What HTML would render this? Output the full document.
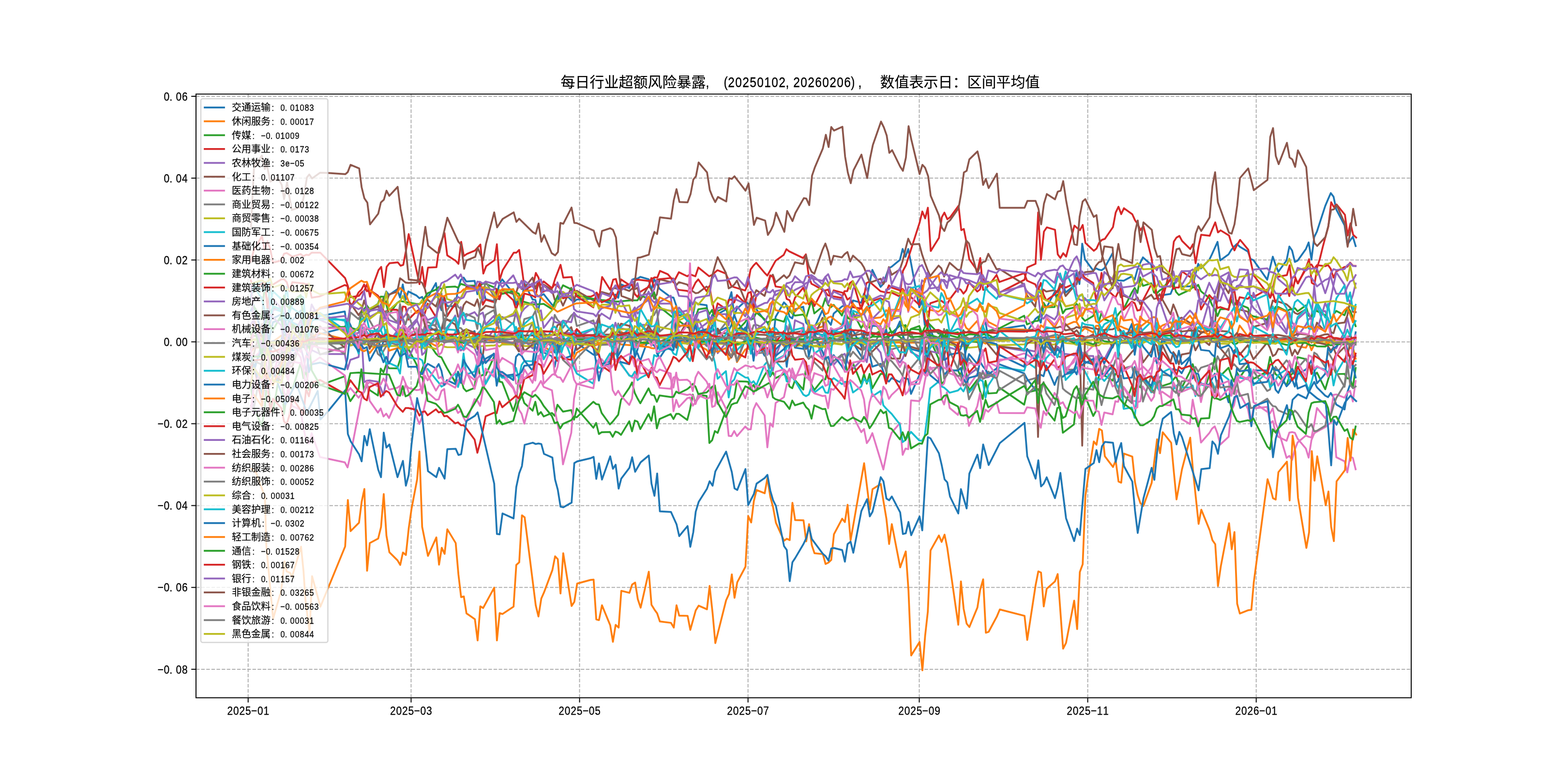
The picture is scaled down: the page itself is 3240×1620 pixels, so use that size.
<!DOCTYPE html>
<html lang="zh"><head><meta charset="utf-8"><title>每日行业超额风险暴露</title>
<style>html,body{margin:0;padding:0;background:#fff}svg{display:block}text{font-family:"Liberation Sans","Noto Sans CJK SC",sans-serif;fill:#000}</style>
</head><body>
<svg style="will-change:transform" width="3240" height="1620" viewBox="0 0 3240 1620">
<defs><clipPath id="axclip"><rect x="405.00" y="194.40" width="2511.00" height="1247.40"/></clipPath></defs>
<rect width="3240" height="1620" fill="#fff"/>
<g stroke="#b0b0b0" stroke-width="2" stroke-dasharray="7.4 3.2" fill="none"><path d="M512.73 1441.80V194.40"/><path d="M849.43 1441.80V194.40"/><path d="M1197.55 1441.80V194.40"/><path d="M1545.66 1441.80V194.40"/><path d="M1899.49 1441.80V194.40"/><path d="M2247.60 1441.80V194.40"/><path d="M2595.72 1441.80V194.40"/><path d="M405.00 198.98H2916.00"/><path d="M405.00 368.11H2916.00"/><path d="M405.00 537.24H2916.00"/><path d="M405.00 706.38H2916.00"/><path d="M405.00 875.51H2916.00"/><path d="M405.00 1044.64H2916.00"/><path d="M405.00 1213.77H2916.00"/><path d="M405.00 1382.90H2916.00"/></g>
<g fill="none" stroke-width="3.75" stroke-linejoin="round" stroke-linecap="square" clip-path="url(#axclip)">
<path stroke="#1f77b4" d="M518.4 739.8L524.1 769.5L541.3 708.8L547.0 710.8L552.7 731.7L558.4 690.9L564.1 665.8L581.2 660.2L586.9 686.5L592.6 683.6L598.3 704.8L604.0 669.6L621.2 692.9L626.9 637.4L632.6 711.9L638.3 713.5L644.0 699.0L661.1 690.3L712.5 677.3L718.2 659.1L723.9 671.0L741.0 712.0L746.7 673.5L752.4 668.9L758.1 648.9L763.8 643.4L780.9 630.2L786.7 645.0L792.4 620.4L798.1 602.2L803.8 609.6L820.9 597.8L826.6 614.9L832.3 587.6L838.0 619.8L843.7 602.3L860.8 610.8L866.6 616.1L872.3 613.5L878.0 628.4L883.7 614.9L900.8 585.0L906.5 623.5L912.2 641.0L917.9 613.7L923.6 632.3L940.7 632.9L946.4 597.9L952.2 578.4L957.9 573.4L963.6 581.7L980.7 580.4L986.4 607.9L992.1 589.7L997.8 597.7L1003.5 618.2L1020.6 622.4L1026.3 609.8L1032.0 586.0L1037.8 577.3L1060.6 606.1L1066.3 629.9L1072.0 613.4L1077.7 627.1L1083.4 584.6L1100.5 618.8L1106.2 619.5L1111.9 644.6L1117.7 610.8L1123.4 607.6L1140.5 629.4L1146.2 632.7L1151.9 623.3L1157.6 605.5L1163.3 603.6L1180.4 619.9L1186.1 623.7L1191.8 618.9L1226.1 617.3L1231.8 626.2L1237.5 615.5L1243.2 621.3L1260.3 626.2L1266.0 627.3L1271.7 608.7L1277.4 615.4L1283.2 587.4L1300.3 595.3L1306.0 578.0L1311.7 575.7L1317.4 575.6L1323.1 572.1L1340.2 577.0L1345.9 599.9L1351.6 576.6L1357.3 586.4L1363.0 596.9L1385.9 614.1L1391.6 614.9L1397.3 631.4L1403.0 651.5L1420.1 649.7L1425.8 623.0L1431.5 653.1L1437.2 624.5L1442.9 628.3L1460.1 630.6L1465.8 674.1L1471.5 650.9L1477.2 662.4L1482.9 649.1L1500.0 639.6L1505.7 622.0L1511.4 603.6L1517.1 651.5L1522.8 638.0L1540.0 622.4L1545.7 627.7L1551.4 627.3L1557.1 617.1L1562.8 639.2L1579.9 661.8L1585.6 665.7L1591.3 680.8L1597.0 704.4L1602.7 654.8L1619.9 624.8L1625.6 630.9L1631.3 654.1L1637.0 658.0L1642.7 639.2L1659.8 633.9L1665.5 666.5L1671.2 672.6L1676.9 673.2L1682.6 677.2L1699.7 640.6L1705.5 660.6L1711.2 663.4L1716.9 671.3L1722.6 648.0L1739.7 633.4L1745.4 630.5L1751.1 639.7L1756.8 649.5L1762.5 620.8L1779.6 625.5L1785.3 606.6L1791.1 616.3L1796.8 585.9L1802.5 557.6L1819.6 592.9L1825.3 586.2L1831.0 569.9L1836.7 554.1L1842.4 551.1L1859.5 537.0L1865.2 514.3L1871.0 530.6L1876.7 514.5L1882.4 543.2L1899.5 635.2L1905.2 621.1L1910.9 671.7L1916.6 661.6L1922.3 678.9L1939.4 726.9L1945.1 710.4L1950.8 716.1L1956.6 685.4L1962.3 702.4L1979.4 723.0L1985.1 730.9L1990.8 747.3L1996.5 722.0L2002.2 710.3L2019.3 688.8L2025.0 715.0L2030.7 670.7L2036.4 666.5L2042.2 699.4L2059.3 694.9L2065.0 680.2L2116.3 672.4L2122.1 685.9L2139.2 659.5L2144.9 654.3L2150.6 666.9L2156.3 630.4L2162.0 636.5L2179.1 603.5L2184.8 620.5L2190.5 593.3L2196.2 586.3L2201.9 604.5L2219.1 590.4L2224.8 560.2L2230.5 586.8L2236.2 503.5L2241.9 535.8L2259.0 559.2L2264.7 554.4L2270.4 557.2L2276.1 558.4L2281.8 554.6L2299.0 523.1L2304.7 571.7L2310.4 579.3L2316.1 579.7L2321.8 580.2L2338.9 571.0L2344.6 577.8L2350.3 556.4L2356.0 543.4L2361.7 531.8L2378.9 547.2L2384.6 589.4L2390.3 608.1L2396.0 622.3L2401.7 609.9L2418.8 607.3L2424.5 593.2L2430.2 576.5L2435.9 574.5L2441.6 592.0L2458.8 591.6L2464.5 590.2L2470.2 566.6L2475.9 545.1L2481.6 554.7L2498.7 537.1L2504.4 525.3L2510.1 512.5L2515.8 499.7L2521.5 538.0L2538.7 525.4L2544.4 516.0L2550.1 509.7L2555.8 504.0L2561.5 509.7L2578.6 519.8L2584.3 535.3L2590.0 537.4L2618.5 577.9L2624.3 553.8L2630.0 530.4L2635.7 547.0L2641.4 561.6L2658.5 538.0L2664.2 509.4L2669.9 517.8L2675.6 541.2L2681.3 538.6L2698.4 514.6L2704.1 501.0L2709.9 536.5L2715.6 489.9L2721.3 478.2L2738.4 425.5L2744.1 412.0L2749.8 399.0L2755.5 406.3L2761.2 432.9L2778.3 465.7L2784.0 505.4L2789.8 496.8L2795.5 489.1L2801.2 508.4"/>
<path stroke="#ff7f0e" d="M518.4 729.1L524.1 718.6L541.3 717.4L547.0 712.5L552.7 711.7L558.4 716.1L564.1 709.0L581.2 715.7L586.9 716.2L592.6 714.8L598.3 709.3L604.0 704.3L621.2 707.9L626.9 704.8L632.6 704.0L638.3 703.2L644.0 708.3L661.1 706.4L712.5 709.6L718.2 704.7L723.9 706.7L741.0 704.1L746.7 699.3L752.4 698.8L758.1 704.1L763.8 705.0L780.9 706.4L786.7 701.8L792.4 703.7L798.1 702.4L803.8 699.1L820.9 702.2L826.6 703.4L832.3 701.5L838.0 702.0L843.7 699.5L860.8 698.8L866.6 697.5L872.3 699.9L878.0 696.9L883.7 701.8L900.8 702.5L906.5 705.8L912.2 704.6L917.9 705.4L923.6 706.2L940.7 706.1L946.4 703.6L952.2 704.7L957.9 703.6L963.6 705.9L980.7 709.1L986.4 708.7L992.1 704.3L997.8 700.4L1003.5 701.9L1020.6 704.7L1026.3 701.3L1032.0 703.8L1037.8 708.9L1060.6 707.1L1066.3 709.1L1072.0 706.7L1077.7 709.2L1083.4 709.4L1100.5 708.4L1106.2 705.9L1111.9 705.7L1117.7 708.4L1123.4 710.7L1140.5 711.7L1146.2 706.1L1151.9 705.8L1157.6 715.7L1163.3 710.3L1180.4 706.8L1186.1 704.1L1191.8 708.5L1226.1 714.9L1231.8 713.0L1237.5 711.0L1243.2 711.4L1260.3 709.1L1266.0 709.9L1271.7 710.8L1277.4 707.2L1283.2 711.7L1300.3 713.2L1306.0 713.0L1311.7 712.2L1317.4 716.1L1323.1 713.2L1340.2 709.1L1345.9 707.3L1351.6 707.7L1357.3 708.5L1363.0 711.2L1385.9 714.6L1391.6 702.9L1397.3 706.7L1403.0 706.4L1420.1 705.7L1425.8 709.0L1431.5 713.7L1437.2 713.2L1442.9 712.5L1460.1 710.5L1465.8 710.4L1471.5 710.2L1477.2 711.9L1482.9 710.3L1500.0 708.0L1505.7 708.2L1511.4 709.9L1517.1 711.9L1522.8 709.8L1540.0 706.2L1545.7 704.3L1551.4 707.7L1557.1 712.0L1562.8 710.0L1579.9 713.9L1585.6 709.7L1591.3 711.1L1597.0 709.0L1602.7 708.5L1619.9 706.6L1625.6 702.2L1631.3 699.8L1637.0 707.0L1642.7 702.3L1659.8 701.7L1665.5 702.3L1671.2 706.0L1676.9 704.5L1682.6 708.7L1699.7 706.0L1705.5 699.2L1711.2 701.9L1716.9 702.7L1722.6 704.0L1739.7 700.7L1745.4 705.2L1751.1 703.3L1756.8 707.6L1762.5 707.0L1779.6 709.4L1785.3 711.1L1791.1 709.3L1796.8 706.8L1802.5 707.2L1819.6 706.0L1825.3 710.8L1831.0 709.7L1836.7 708.5L1842.4 708.2L1859.5 707.7L1865.2 712.4L1871.0 706.5L1876.7 706.7L1882.4 708.1L1899.5 708.0L1905.2 707.8L1910.9 707.1L1916.6 703.3L1922.3 704.3L1939.4 707.9L1945.1 710.5L1950.8 709.5L1956.6 710.2L1962.3 706.3L1979.4 708.1L1985.1 703.2L1990.8 705.6L1996.5 705.6L2002.2 707.1L2019.3 704.9L2025.0 705.6L2030.7 707.0L2036.4 710.0L2042.2 704.6L2059.3 700.2L2065.0 703.0L2116.3 701.8L2122.1 703.4L2139.2 701.0L2144.9 698.2L2150.6 698.2L2156.3 695.0L2162.0 697.0L2179.1 696.6L2184.8 696.9L2190.5 695.1L2196.2 695.9L2201.9 699.8L2219.1 700.2L2224.8 702.5L2230.5 698.1L2236.2 699.8L2241.9 703.0L2259.0 702.4L2264.7 703.6L2270.4 701.8L2276.1 700.2L2281.8 699.0L2299.0 696.4L2304.7 696.9L2310.4 698.0L2316.1 691.9L2321.8 687.9L2338.9 693.1L2344.6 695.8L2350.3 689.8L2356.0 691.3L2361.7 691.1L2378.9 694.8L2384.6 692.7L2390.3 690.2L2396.0 690.9L2401.7 689.1L2418.8 687.3L2424.5 691.5L2430.2 691.8L2435.9 693.3L2441.6 696.9L2458.8 696.6L2464.5 699.7L2470.2 698.1L2475.9 699.3L2481.6 696.5L2498.7 700.8L2504.4 698.8L2510.1 696.7L2515.8 698.0L2521.5 696.9L2538.7 698.9L2544.4 706.1L2550.1 705.1L2555.8 701.1L2561.5 707.6L2578.6 705.4L2584.3 707.2L2590.0 708.7L2618.5 704.0L2624.3 706.2L2630.0 703.3L2635.7 705.0L2641.4 699.0L2658.5 704.4L2664.2 710.5L2669.9 707.7L2675.6 708.2L2681.3 708.1L2698.4 707.2L2704.1 704.2L2709.9 706.4L2715.6 704.3L2721.3 707.0L2738.4 703.9L2744.1 704.3L2749.8 703.8L2755.5 709.6L2761.2 706.1L2778.3 705.8L2784.0 703.3L2789.8 702.7L2795.5 699.2L2801.2 699.9"/>
<path stroke="#2ca02c" d="M518.4 797.2L524.1 841.0L541.3 880.6L547.0 843.8L552.7 776.5L558.4 831.0L564.1 850.5L581.2 751.3L586.9 855.6L592.6 814.9L598.3 799.6L604.0 805.0L621.2 750.0L626.9 781.4L632.6 766.3L638.3 806.1L644.0 796.5L661.1 796.1L712.5 777.4L718.2 814.6L723.9 828.9L741.0 804.3L746.7 763.0L752.4 810.1L758.1 794.5L763.8 806.0L780.9 817.2L786.7 761.7L792.4 769.2L798.1 753.4L803.8 760.9L820.9 761.2L826.6 743.5L832.3 703.1L838.0 728.4L843.7 720.4L860.8 753.3L866.6 779.4L872.3 763.1L878.0 748.3L883.7 705.4L900.8 730.6L906.5 736.1L912.2 738.5L917.9 749.8L923.6 760.6L940.7 789.5L946.4 767.8L952.2 780.8L957.9 802.3L963.6 808.5L980.7 801.5L986.4 748.1L992.1 777.9L997.8 774.3L1003.5 775.3L1020.6 737.8L1026.3 734.2L1032.0 788.4L1037.8 789.9L1060.6 849.2L1066.3 831.7L1072.0 781.1L1077.7 815.5L1083.4 832.8L1100.5 848.7L1106.2 830.1L1111.9 857.2L1117.7 851.4L1123.4 860.6L1140.5 853.3L1146.2 859.1L1151.9 836.3L1157.6 843.4L1163.3 850.6L1180.4 847.3L1186.1 867.2L1191.8 844.1L1226.1 883.9L1231.8 873.9L1237.5 896.9L1243.2 893.1L1260.3 892.6L1266.0 902.7L1271.7 891.8L1277.4 893.7L1283.2 898.6L1300.3 870.4L1306.0 891.3L1311.7 869.0L1317.4 871.2L1323.1 886.6L1340.2 855.6L1345.9 869.5L1351.6 839.7L1357.3 885.2L1363.0 865.8L1385.9 855.8L1391.6 865.9L1397.3 855.2L1403.0 855.2L1420.1 867.7L1425.8 845.9L1431.5 815.3L1437.2 833.7L1442.9 815.7L1460.1 818.1L1465.8 915.3L1471.5 909.7L1477.2 890.7L1482.9 894.5L1500.0 847.8L1505.7 836.8L1511.4 825.8L1517.1 822.5L1522.8 787.8L1540.0 788.3L1545.7 788.8L1551.4 802.4L1557.1 795.3L1562.8 806.8L1579.9 775.6L1585.6 765.9L1591.3 778.0L1597.0 769.5L1602.7 781.3L1619.9 772.5L1625.6 779.6L1631.3 798.6L1637.0 802.3L1642.7 785.6L1659.8 804.9L1665.5 760.1L1671.2 766.4L1676.9 795.5L1682.6 806.0L1699.7 784.4L1705.5 784.0L1711.2 759.2L1716.9 747.8L1722.6 736.5L1739.7 744.9L1745.4 744.6L1751.1 767.8L1756.8 763.6L1762.5 750.5L1779.6 792.7L1785.3 772.8L1791.1 792.8L1796.8 772.6L1802.5 802.4L1819.6 772.6L1825.3 772.6L1831.0 783.1L1836.7 687.5L1842.4 685.1L1859.5 696.4L1865.2 701.1L1871.0 671.6L1876.7 686.3L1882.4 680.0L1899.5 680.9L1905.2 691.9L1910.9 690.5L1916.6 675.4L1922.3 702.7L1939.4 740.8L1945.1 793.6L1950.8 788.3L1956.6 768.4L1962.3 766.5L1979.4 764.9L1985.1 777.5L1990.8 745.2L1996.5 770.4L2002.2 807.3L2019.3 785.0L2025.0 807.6L2030.7 824.6L2036.4 786.8L2042.2 813.0L2059.3 811.8L2065.0 800.9L2116.3 836.1L2122.1 810.8L2139.2 806.9L2144.9 804.0L2150.6 813.7L2156.3 833.1L2162.0 847.7L2179.1 869.2L2184.8 843.0L2190.5 841.4L2196.2 894.2L2201.9 890.1L2219.1 877.0L2224.8 822.7L2230.5 820.9L2236.2 849.4L2241.9 817.7L2259.0 859.5L2264.7 849.2L2270.4 777.3L2276.1 769.6L2281.8 775.5L2299.0 786.5L2304.7 772.9L2310.4 770.7L2316.1 778.7L2321.8 842.9L2338.9 797.9L2344.6 805.0L2350.3 796.2L2356.0 800.3L2361.7 774.6L2378.9 801.7L2384.6 811.2L2390.3 786.6L2396.0 805.4L2401.7 797.5L2418.8 792.0L2424.5 784.3L2430.2 777.7L2435.9 793.9L2441.6 801.6L2458.8 768.0L2464.5 752.4L2470.2 770.0L2475.9 789.7L2481.6 824.5L2498.7 775.8L2504.4 766.9L2510.1 737.8L2515.8 769.1L2521.5 776.9L2538.7 759.9L2544.4 776.8L2550.1 788.6L2555.8 768.7L2561.5 780.4L2578.6 755.4L2584.3 770.0L2590.0 782.8L2618.5 767.5L2624.3 737.3L2630.0 758.3L2635.7 773.1L2641.4 777.5L2658.5 795.7L2664.2 777.8L2669.9 772.4L2675.6 768.6L2681.3 738.0L2698.4 742.0L2704.1 752.9L2709.9 767.6L2715.6 775.4L2721.3 769.9L2738.4 804.4L2744.1 785.1L2749.8 765.9L2755.5 758.6L2761.2 773.0L2778.3 772.5L2784.0 781.9L2789.8 782.1L2795.5 800.6L2801.2 760.3"/>
<path stroke="#d62728" d="M518.4 540.7L524.1 517.7L541.3 487.8L547.0 516.6L552.7 498.6L558.4 514.6L564.1 542.6L581.2 538.4L586.9 524.3L592.6 522.9L598.3 526.4L604.0 530.4L621.2 525.0L626.9 529.4L632.6 526.4L638.3 527.1L644.0 522.0L661.7 522.0L713.1 574.6L718.7 590.5L724.6 614.2L741.6 611.4L747.2 604.5L753.1 600.3L758.7 586.3L764.5 612.8L770.4 590.5L782.1 558.3L787.7 551.4L793.3 593.3L798.9 551.4L804.8 543.8L822.1 542.1L827.7 549.1L833.3 547.2L838.9 517.8L844.5 483.7L866.8 587.1L872.4 551.4L878.0 593.3L884.4 552.8L901.8 552.2L907.3 512.2L918.5 481.5L924.1 527.6L941.4 538.8L947.3 545.2L952.9 499.7L958.5 529.0L964.6 524.8L981.4 517.8L992.6 505.2L998.7 565.3L1004.6 550.0L1021.9 537.4L1026.7 504.7L1032.3 579.3L1038.7 558.3L1061.6 522.0L1067.2 522.0L1072.8 516.4L1078.7 556.9L1084.3 598.9L1101.6 589.1L1107.2 563.9L1112.8 573.7L1118.4 604.5L1141.3 594.7L1146.9 576.5L1158.3 547.2L1163.9 573.7L1181.2 572.3L1186.8 598.9L1192.4 612.8L1221.2 612.8L1226.8 610.1L1232.9 604.5L1238.5 612.8L1244.1 572.3L1260.9 598.9L1267.0 577.9L1272.6 576.5L1278.5 598.9L1284.1 593.3L1301.4 587.1L1307.0 589.1L1312.6 579.3L1318.2 577.9L1341.1 580.7L1346.7 576.5L1352.6 573.2L1358.2 573.7L1363.7 559.7L1380.0 566.7L1386.0 573.7L1391.6 583.5L1402.8 562.5L1420.1 570.9L1425.7 566.7L1436.9 570.9L1443.0 552.8L1465.4 570.9L1471.2 568.1L1482.4 558.3L1499.7 565.3L1510.9 590.5L1516.5 593.3L1539.7 600.3L1545.3 587.7L1550.9 556.9L1557.0 548.6L1562.6 543.0L1580.0 563.9L1585.5 569.5L1591.1 559.7L1602.6 538.8L1619.4 526.8L1625.0 515.0L1630.5 519.2L1659.6 533.2L1665.2 525.6L1671.1 570.9L1676.7 586.3L1682.2 589.1L1699.6 598.9L1705.2 603.1L1710.8 610.1L1716.3 611.4L1739.3 615.6L1744.9 601.7L1750.7 601.7L1756.3 584.9L1761.9 580.7L1767.5 598.9L1779.2 638.0L1784.8 615.6L1790.4 584.9L1796.0 582.1L1801.6 586.3L1819.2 601.7L1830.9 604.5L1842.1 604.5L1859.4 612.8L1865.6 560.0L1872.0 548.0L1900.2 460.0L1905.8 437.0L1911.7 451.3L1917.3 429.2L1923.2 518.7L1940.2 491.5L1946.1 448.8L1951.4 439.3L1957.5 453.0L1963.4 448.8L1980.7 425.0L1986.3 475.6L1991.6 473.1L1997.5 503.3L2002.8 535.7L2019.9 560.0L2025.5 533.2L2031.3 598.9L2036.9 598.9L2042.8 587.7L2059.8 598.9L2065.7 604.5L2117.0 578.0L2122.9 552.5L2139.8 545.1L2145.2 438.8L2150.9 536.9L2157.1 478.5L2163.1 469.8L2180.0 474.8L2185.7 525.7L2191.2 533.2L2196.9 523.2L2202.9 530.2L2220.1 466.2L2226.0 471.3L2231.6 475.5L2237.2 464.8L2242.8 502.0L2260.1 518.2L2265.7 513.8L2271.3 501.5L2276.9 495.6L2283.0 493.6L2299.8 469.3L2305.4 439.1L2311.2 427.1L2316.8 442.5L2322.4 430.2L2339.7 442.8L2345.3 455.1L2350.9 462.9L2356.5 475.5L2362.7 467.1L2379.7 534.2L2385.3 581.7L2390.9 612.4L2397.0 623.6L2402.6 615.2L2408.2 595.6L2420.0 545.3L2425.5 499.2L2431.1 490.8L2437.0 487.5L2442.6 497.8L2459.4 514.6L2465.0 504.8L2470.5 543.9L2476.4 510.4L2482.0 485.2L2499.6 487.2L2505.2 473.2L2511.1 459.5L2516.7 480.2L2522.2 476.0L2539.6 486.6L2545.2 504.8L2550.8 517.4L2556.3 505.6L2562.5 495.6L2579.3 516.0L2584.9 542.5L2590.7 569.1L2619.2 606.8L2624.8 615.2L2630.4 592.8L2636.0 570.5L2641.6 571.9L2659.2 568.3L2664.8 548.1L2670.9 601.2L2676.5 576.1L2682.1 585.9L2699.4 550.9L2705.0 535.6L2710.6 584.5L2716.2 587.8L2721.8 552.3L2727.4 534.2L2733.3 510.1L2738.8 489.4L2744.7 468.5L2750.6 417.9L2756.2 427.9L2761.8 422.4L2779.1 443.9L2784.7 486.6L2790.6 461.5L2796.1 485.2L2802.3 490.8"/>
<path stroke="#9467bd" d="M518.4 704.2L524.1 853.9L541.3 843.4L547.0 795.5L552.7 796.1L558.4 760.0L564.1 743.8L581.2 735.8L586.9 711.9L592.6 776.7L598.3 725.2L604.0 735.2L621.2 717.1L626.9 739.5L632.6 767.9L638.3 737.8L644.0 723.4L661.1 731.4L712.5 731.6L718.2 762.8L723.9 743.6L741.0 737.8L746.7 681.4L752.4 789.6L758.1 786.7L763.8 786.1L780.9 788.8L786.7 801.5L792.4 816.9L798.1 786.5L803.8 706.6L820.9 683.4L826.6 711.3L832.3 729.5L838.0 699.3L843.7 741.5L860.8 703.7L866.6 688.1L872.3 733.2L878.0 728.2L883.7 712.3L900.8 698.9L906.5 693.1L912.2 701.3L917.9 694.1L923.6 698.8L940.7 710.9L946.4 713.3L952.2 724.3L957.9 720.3L963.6 710.7L980.7 718.7L986.4 733.8L992.1 706.6L997.8 695.6L1003.5 707.0L1020.6 679.5L1026.3 704.6L1032.0 698.6L1037.8 702.7L1060.6 708.9L1066.3 699.4L1072.0 725.2L1077.7 726.7L1083.4 704.0L1100.5 719.7L1106.2 715.7L1111.9 726.2L1117.7 686.2L1123.4 692.4L1140.5 719.8L1146.2 698.5L1151.9 696.6L1157.6 722.2L1163.3 687.5L1180.4 688.1L1186.1 690.0L1191.8 697.6L1226.1 679.9L1231.8 682.7L1237.5 686.4L1243.2 696.2L1260.3 694.8L1266.0 687.2L1271.7 666.8L1277.4 684.7L1283.2 678.4L1300.3 682.3L1306.0 647.3L1311.7 640.1L1317.4 676.3L1323.1 671.1L1340.2 671.5L1345.9 688.9L1351.6 680.3L1357.3 661.9L1363.0 639.7L1385.9 641.9L1391.6 650.2L1397.3 647.7L1403.0 635.4L1420.1 656.2L1425.8 679.1L1431.5 670.7L1437.2 669.0L1442.9 660.2L1460.1 694.3L1465.8 675.5L1471.5 684.9L1477.2 658.0L1482.9 729.9L1500.0 708.3L1505.7 707.4L1511.4 725.4L1517.1 717.4L1522.8 678.4L1540.0 681.3L1545.7 697.8L1551.4 704.2L1557.1 721.6L1562.8 706.6L1579.9 718.3L1585.6 696.4L1591.3 694.0L1597.0 765.6L1602.7 736.4L1619.9 692.2L1625.6 673.8L1631.3 697.1L1637.0 703.0L1642.7 661.6L1659.8 669.5L1665.5 711.5L1671.2 662.0L1676.9 693.2L1682.6 688.2L1699.7 742.1L1705.5 723.0L1711.2 710.3L1716.9 728.5L1722.6 753.9L1739.7 734.2L1745.4 731.1L1751.1 746.9L1756.8 755.8L1762.5 761.7L1779.6 744.5L1785.3 735.1L1791.1 748.4L1796.8 716.7L1802.5 707.7L1819.6 728.5L1825.3 757.0L1831.0 740.4L1836.7 734.8L1842.4 731.8L1859.5 749.1L1865.2 741.0L1871.0 726.6L1876.7 710.4L1882.4 727.6L1899.5 736.7L1905.2 726.5L1910.9 714.8L1916.6 762.4L1922.3 725.8L1939.4 729.5L1945.1 733.8L1950.8 726.6L1956.6 766.3L1962.3 718.1L1979.4 723.5L1985.1 736.2L1990.8 756.8L1996.5 784.1L2002.2 773.9L2019.3 761.4L2025.0 783.9L2030.7 766.3L2036.4 780.2L2042.2 779.3L2059.3 768.8L2065.0 716.3L2116.3 725.0L2122.1 722.8L2139.2 726.3L2144.9 692.8L2150.6 708.2L2156.3 706.5L2162.0 684.9L2179.1 729.9L2184.8 715.8L2190.5 720.9L2196.2 731.8L2201.9 731.4L2219.1 733.8L2224.8 729.0L2230.5 709.3L2236.2 742.8L2241.9 735.4L2259.0 735.6L2264.7 767.7L2270.4 724.1L2276.1 735.5L2281.8 742.3L2299.0 710.5L2304.7 691.7L2310.4 695.7L2316.1 700.3L2321.8 707.8L2338.9 703.7L2344.6 679.7L2350.3 707.7L2356.0 671.2L2361.7 690.2L2378.9 704.6L2384.6 715.2L2390.3 681.6L2396.0 719.0L2401.7 706.8L2418.8 709.9L2424.5 697.5L2430.2 682.5L2435.9 694.8L2441.6 701.4L2458.8 677.2L2464.5 667.6L2470.2 689.5L2475.9 675.8L2481.6 680.2L2498.7 622.1L2504.4 619.2L2510.1 612.0L2515.8 623.2L2521.5 587.6L2538.7 625.7L2544.4 610.3L2550.1 597.7L2555.8 598.4L2561.5 589.1L2578.6 561.0L2584.3 627.0L2590.0 636.1L2618.5 664.9L2624.3 642.7L2630.0 642.8L2635.7 652.7L2641.4 670.0L2658.5 689.3L2664.2 645.2L2669.9 665.8L2675.6 674.2L2681.3 694.2L2698.4 671.4L2704.1 659.9L2709.9 656.1L2715.6 590.3L2721.3 643.1L2738.4 642.9L2744.1 658.6L2749.8 684.2L2755.5 719.8L2761.2 719.6L2778.3 684.8L2784.0 656.2L2789.8 679.0L2795.5 738.1L2801.2 735.3"/>
<path stroke="#8c564b" d="M518.4 721.7L524.1 717.5L541.3 717.0L547.0 697.3L552.7 721.1L558.4 720.1L564.1 717.2L581.2 735.0L586.9 731.5L592.6 687.0L598.3 695.8L604.0 675.9L621.2 688.0L626.9 647.9L632.6 660.8L638.3 654.7L644.0 703.1L661.1 678.7L712.5 676.0L718.2 680.1L723.9 626.4L741.0 651.1L746.7 643.2L752.4 620.9L758.1 637.3L763.8 640.4L780.9 633.3L786.7 636.7L792.4 615.2L798.1 627.1L803.8 608.8L820.9 602.4L826.6 575.0L832.3 579.1L838.0 583.8L843.7 584.6L860.8 584.0L866.6 581.0L872.3 584.5L878.0 596.9L883.7 619.5L900.8 633.2L906.5 618.0L912.2 635.1L917.9 651.0L923.6 654.1L940.7 626.1L946.4 654.5L952.2 654.8L957.9 630.5L963.6 622.9L980.7 632.0L986.4 618.4L992.1 642.2L997.8 637.7L1003.5 631.6L1020.6 636.0L1026.3 616.7L1032.0 618.4L1037.8 599.5L1060.6 607.5L1066.3 606.4L1072.0 586.9L1077.7 597.4L1083.4 594.9L1100.5 573.6L1106.2 596.7L1111.9 581.8L1117.7 599.5L1123.4 588.2L1140.5 599.0L1146.2 619.1L1151.9 624.3L1157.6 618.6L1163.3 631.6L1180.4 594.8L1186.1 622.5L1191.8 600.8L1226.1 620.8L1231.8 625.2L1237.5 614.5L1243.2 603.3L1260.3 608.1L1266.0 596.1L1271.7 595.5L1277.4 597.4L1283.2 594.9L1300.3 601.2L1306.0 596.4L1311.7 597.5L1317.4 594.7L1323.1 620.0L1340.2 590.8L1345.9 598.1L1351.6 617.5L1357.3 608.3L1363.0 577.1L1385.9 582.9L1391.6 575.5L1397.3 589.4L1403.0 583.0L1420.1 588.0L1425.8 595.3L1431.5 602.0L1437.2 605.8L1442.9 605.0L1460.1 592.1L1465.8 597.0L1471.5 570.1L1477.2 550.0L1482.9 531.3L1500.0 564.1L1505.7 595.9L1511.4 592.9L1517.1 588.1L1522.8 579.7L1540.0 622.2L1545.7 643.6L1551.4 616.3L1557.1 612.8L1562.8 599.6L1579.9 611.4L1585.6 593.0L1591.3 572.2L1597.0 567.6L1602.7 583.4L1619.9 568.7L1625.6 574.7L1631.3 569.2L1637.0 555.6L1642.7 542.0L1659.8 545.6L1665.5 527.4L1671.2 549.4L1676.9 561.4L1682.6 565.6L1699.7 516.0L1705.5 503.2L1711.2 520.1L1716.9 546.8L1722.6 528.5L1739.7 531.8L1745.4 525.0L1751.1 520.8L1756.8 540.3L1762.5 528.2L1779.6 543.6L1785.3 552.7L1791.1 567.3L1796.8 582.9L1802.5 582.2L1819.6 575.9L1825.3 587.0L1831.0 577.9L1836.7 551.9L1842.4 567.9L1859.5 556.7L1865.2 539.3L1871.0 515.0L1876.7 493.2L1882.4 505.2L1899.5 504.1L1905.2 525.4L1910.9 542.4L1916.6 557.4L1922.3 570.2L1939.4 548.8L1945.1 554.3L1950.8 571.5L1956.6 556.0L1962.3 543.0L1979.4 557.9L1985.1 557.0L1990.8 528.0L1996.5 496.9L2002.2 503.1L2019.3 565.8L2025.0 549.0L2030.7 541.6L2036.4 539.9L2042.2 524.5L2059.3 556.4L2065.0 555.7L2116.3 587.6L2122.1 610.2L2139.2 633.8L2144.9 593.2L2150.6 605.9L2156.3 598.6L2162.0 602.5L2179.1 599.3L2184.8 603.9L2190.5 586.3L2196.2 596.6L2201.9 611.8L2219.1 591.9L2224.8 587.2L2230.5 561.9L2236.2 572.1L2241.9 562.3L2259.0 560.7L2264.7 548.9L2270.4 542.1L2276.1 539.9L2281.8 509.1L2299.0 511.4L2304.7 589.7L2310.4 591.9L2316.1 614.4L2321.8 611.0L2338.9 617.9L2344.6 619.9L2350.3 614.5L2356.0 628.2L2361.7 620.9L2378.9 609.0L2384.6 617.8L2390.3 616.4L2396.0 607.7L2401.7 618.6L2418.8 649.4L2424.5 629.1L2430.2 642.8L2435.9 659.0L2441.6 656.3L2458.8 667.2L2464.5 694.5L2470.2 676.9L2475.9 694.8L2481.6 688.8L2498.7 677.4L2504.4 656.5L2510.1 674.1L2515.8 608.9L2521.5 578.5L2538.7 605.8L2544.4 587.4L2550.1 634.3L2555.8 639.5L2561.5 639.7L2578.6 644.0L2584.3 666.0L2590.0 675.5L2618.5 667.4L2624.3 642.2L2630.0 620.9L2635.7 623.7L2641.4 623.2L2658.5 628.9L2664.2 633.9L2669.9 640.0L2675.6 646.6L2681.3 649.1L2698.4 639.3L2704.1 649.9L2709.9 659.4L2715.6 684.3L2721.3 666.8L2738.4 685.4L2744.1 658.5L2749.8 686.3L2755.5 688.4L2761.2 668.6L2778.3 666.4L2784.0 652.1L2789.8 622.7L2795.5 644.4L2801.2 644.9"/>
<path stroke="#e377c2" d="M518.4 788.2L524.1 756.4L541.3 787.5L547.0 747.5L552.7 707.3L558.4 761.5L564.1 736.5L581.2 753.7L586.9 744.7L592.6 771.1L598.3 817.5L604.0 838.9L621.2 847.1L626.9 884.2L632.6 908.9L638.3 916.3L644.0 895.2L661.1 944.4L712.5 955.3L718.2 965.9L723.9 941.3L741.0 853.2L746.7 823.8L752.4 807.8L758.1 788.4L763.8 828.1L780.9 852.6L786.7 844.0L792.4 860.6L798.1 854.7L803.8 863.7L820.9 824.6L826.6 801.9L832.3 778.3L838.0 792.3L843.7 808.1L860.8 861.6L866.6 876.1L872.3 861.1L878.0 835.9L883.7 810.7L900.8 826.1L906.5 825.3L912.2 807.9L917.9 803.9L923.6 849.8L940.7 841.2L946.4 853.4L952.2 848.8L957.9 862.8L963.6 872.8L980.7 824.7L986.4 828.0L992.1 838.7L997.8 807.3L1003.5 789.6L1020.6 760.2L1026.3 729.9L1032.0 764.2L1037.8 776.5L1060.6 803.0L1066.3 818.7L1072.0 794.1L1077.7 790.4L1083.4 763.1L1100.5 791.1L1106.2 768.3L1111.9 741.9L1117.7 727.4L1123.4 792.8L1140.5 774.5L1146.2 772.2L1151.9 779.2L1157.6 780.1L1163.3 789.2L1180.4 755.9L1186.1 737.5L1191.8 767.4L1226.1 760.9L1231.8 767.7L1237.5 747.4L1243.2 742.1L1260.3 763.7L1266.0 755.5L1271.7 747.3L1277.4 738.9L1283.2 753.3L1300.3 774.9L1306.0 780.1L1311.7 781.0L1317.4 756.6L1323.1 771.4L1340.2 771.7L1345.9 761.8L1351.6 764.6L1357.3 769.4L1363.0 763.4L1385.9 771.8L1391.6 849.8L1397.3 826.2L1403.0 841.0L1420.1 822.9L1425.8 821.2L1431.5 838.4L1437.2 831.1L1442.9 823.3L1460.1 802.6L1465.8 793.0L1471.5 840.9L1477.2 838.6L1482.9 810.3L1500.0 844.3L1505.7 900.6L1511.4 901.2L1517.1 890.7L1522.8 901.2L1540.0 881.2L1545.7 887.2L1551.4 887.1L1557.1 845.7L1562.8 833.0L1579.9 858.5L1585.6 924.4L1591.3 874.7L1597.0 881.7L1602.7 832.8L1619.9 820.5L1625.6 794.6L1631.3 788.8L1637.0 761.2L1642.7 776.6L1659.8 772.9L1665.5 780.1L1671.2 781.9L1676.9 791.4L1682.6 771.0L1699.7 777.2L1705.5 797.3L1711.2 794.6L1716.9 744.5L1722.6 755.8L1739.7 786.3L1745.4 790.7L1751.1 796.0L1756.8 838.6L1762.5 859.9L1779.6 893.0L1785.3 886.4L1791.1 915.6L1796.8 907.6L1802.5 894.9L1819.6 950.9L1825.3 970.2L1831.0 941.6L1836.7 911.3L1842.4 894.3L1859.5 874.3L1865.2 939.9L1871.0 926.9L1876.7 928.3L1882.4 827.3L1899.5 828.8L1905.2 819.8L1910.9 787.9L1916.6 761.1L1922.3 758.6L1939.4 783.2L1945.1 798.2L1950.8 792.3L1956.6 766.8L1962.3 771.5L1979.4 778.0L1985.1 786.3L1990.8 789.3L1996.5 786.5L2002.2 797.2L2019.3 772.5L2025.0 772.9L2030.7 782.6L2036.4 772.5L2042.2 748.2L2059.3 756.9L2065.0 745.9L2116.3 730.2L2122.1 732.9L2139.2 743.7L2144.9 756.2L2150.6 759.3L2156.3 728.8L2162.0 748.5L2179.1 755.6L2184.8 763.6L2190.5 757.0L2196.2 744.5L2201.9 762.2L2219.1 748.4L2224.8 726.0L2230.5 750.4L2236.2 728.6L2241.9 730.7L2259.0 714.3L2264.7 714.0L2270.4 736.0L2276.1 736.3L2281.8 753.3L2299.0 798.5L2304.7 795.6L2310.4 798.1L2316.1 821.5L2321.8 800.2L2338.9 829.7L2344.6 828.5L2350.3 831.2L2356.0 829.3L2361.7 798.7L2378.9 828.4L2384.6 819.5L2390.3 773.8L2396.0 794.5L2401.7 835.6L2418.8 838.0L2424.5 794.6L2430.2 797.8L2435.9 823.2L2441.6 865.9L2458.8 876.1L2464.5 825.8L2470.2 856.2L2475.9 871.3L2481.6 914.4L2498.7 895.1L2504.4 885.7L2510.1 881.0L2515.8 895.9L2521.5 918.5L2538.7 902.7L2544.4 849.3L2550.1 837.0L2555.8 806.5L2561.5 812.3L2578.6 844.9L2584.3 874.8L2590.0 843.8L2618.5 840.9L2624.3 874.8L2630.0 870.2L2635.7 893.2L2641.4 902.6L2658.5 910.9L2664.2 893.8L2669.9 892.9L2675.6 894.3L2681.3 906.5L2698.4 926.9L2704.1 945.7L2709.9 909.2L2715.6 895.5L2721.3 891.8L2738.4 882.5L2744.1 878.0L2749.8 873.3L2755.5 868.5L2761.2 944.8L2778.3 953.2L2784.0 976.2L2789.8 943.5L2795.5 946.4L2801.2 969.7"/>
<path stroke="#7f7f7f" d="M518.4 703.5L524.1 672.4L541.3 735.0L547.0 721.4L552.7 698.5L558.4 726.6L564.1 749.0L581.2 736.5L586.9 691.8L592.6 692.5L598.3 695.1L604.0 703.0L621.2 690.6L626.9 686.4L632.6 679.1L638.3 681.4L644.0 683.5L661.1 732.6L712.5 716.1L718.2 691.7L723.9 713.9L741.0 710.0L746.7 681.9L752.4 693.5L758.1 677.2L763.8 683.4L780.9 731.6L786.7 736.1L792.4 725.1L798.1 715.2L803.8 710.3L820.9 696.9L826.6 704.3L832.3 679.6L838.0 689.2L843.7 709.2L860.8 715.4L866.6 686.0L872.3 693.2L878.0 672.5L883.7 665.1L900.8 674.4L906.5 687.2L912.2 678.7L917.9 658.5L923.6 661.2L940.7 662.6L946.4 677.6L952.2 677.8L957.9 684.4L963.6 711.6L980.7 701.1L986.4 689.6L992.1 684.5L997.8 672.8L1003.5 650.6L1020.6 640.7L1026.3 661.8L1032.0 659.6L1037.8 654.9L1060.6 670.0L1066.3 643.6L1072.0 667.4L1077.7 686.2L1083.4 659.4L1100.5 654.2L1106.2 642.7L1111.9 671.0L1117.7 698.4L1123.4 683.9L1140.5 685.9L1146.2 650.7L1151.9 660.7L1157.6 666.5L1163.3 677.1L1180.4 652.1L1186.1 647.1L1191.8 673.7L1226.1 661.9L1231.8 682.2L1237.5 691.8L1243.2 692.9L1260.3 674.9L1266.0 687.4L1271.7 712.7L1277.4 727.7L1283.2 694.7L1300.3 701.3L1306.0 718.0L1311.7 706.1L1317.4 676.2L1323.1 672.4L1340.2 684.0L1345.9 654.4L1351.6 650.9L1357.3 639.6L1363.0 685.3L1385.9 665.9L1391.6 660.5L1397.3 690.2L1403.0 693.0L1420.1 711.0L1425.8 699.0L1431.5 701.4L1437.2 695.5L1442.9 695.3L1460.1 715.0L1465.8 700.7L1471.5 734.1L1477.2 719.2L1482.9 688.9L1500.0 666.6L1505.7 658.8L1511.4 655.8L1517.1 697.4L1522.8 692.1L1540.0 691.3L1545.7 672.2L1551.4 690.5L1557.1 672.2L1562.8 671.3L1579.9 677.7L1585.6 682.1L1591.3 730.8L1597.0 714.3L1602.7 712.5L1619.9 695.7L1625.6 713.5L1631.3 669.7L1637.0 689.8L1642.7 708.0L1659.8 715.8L1665.5 734.3L1671.2 741.8L1676.9 735.3L1682.6 748.3L1699.7 765.7L1705.5 734.5L1711.2 756.1L1716.9 737.9L1722.6 746.3L1739.7 732.4L1745.4 749.8L1751.1 728.7L1756.8 697.2L1762.5 692.7L1779.6 681.7L1785.3 722.5L1791.1 712.8L1796.8 713.3L1802.5 719.2L1819.6 684.7L1825.3 709.2L1831.0 700.8L1836.7 718.6L1842.4 722.0L1859.5 716.8L1865.2 711.1L1871.0 727.0L1876.7 694.7L1882.4 689.4L1899.5 723.9L1905.2 686.7L1910.9 714.4L1916.6 708.9L1922.3 692.2L1939.4 729.2L1945.1 705.8L1950.8 679.7L1956.6 694.5L1962.3 725.3L1979.4 762.8L1985.1 728.2L1990.8 732.8L1996.5 752.0L2002.2 740.6L2019.3 765.3L2025.0 779.6L2030.7 769.4L2036.4 778.2L2042.2 767.6L2059.3 782.1L2065.0 765.8L2116.3 793.5L2122.1 786.4L2139.2 781.2L2144.9 792.7L2150.6 749.6L2156.3 728.6L2162.0 714.6L2179.1 730.4L2184.8 735.8L2190.5 737.5L2196.2 735.2L2201.9 764.4L2219.1 763.4L2224.8 750.6L2230.5 744.0L2236.2 738.9L2241.9 727.0L2259.0 749.9L2264.7 758.6L2270.4 734.6L2276.1 774.1L2281.8 756.3L2299.0 763.2L2304.7 744.6L2310.4 739.2L2316.1 746.2L2321.8 761.0L2338.9 756.6L2344.6 780.7L2350.3 788.4L2356.0 774.0L2361.7 829.8L2378.9 776.1L2384.6 787.9L2390.3 793.0L2396.0 779.8L2401.7 774.6L2418.8 776.1L2424.5 793.7L2430.2 801.9L2435.9 817.9L2441.6 788.0L2458.8 785.7L2464.5 764.5L2470.2 758.3L2475.9 768.3L2481.6 759.7L2498.7 754.2L2504.4 750.2L2510.1 763.2L2515.8 736.1L2521.5 747.3L2538.7 720.2L2544.4 758.3L2550.1 752.4L2555.8 759.1L2561.5 765.1L2578.6 745.8L2584.3 780.4L2590.0 766.9L2618.5 807.9L2624.3 804.8L2630.0 778.0L2635.7 757.9L2641.4 766.5L2658.5 744.4L2664.2 751.7L2669.9 768.5L2675.6 766.5L2681.3 760.7L2698.4 741.2L2704.1 749.7L2709.9 761.7L2715.6 728.5L2721.3 732.4L2738.4 758.6L2744.1 726.9L2749.8 737.0L2755.5 746.5L2761.2 769.5L2778.3 799.3L2784.0 761.6L2789.8 737.7L2795.5 759.9L2801.2 754.0"/>
<path stroke="#bcbd22" d="M518.4 705.4L524.1 702.9L541.3 700.4L547.0 699.8L552.7 706.0L558.4 707.7L564.1 707.7L581.2 709.1L586.9 704.6L592.6 708.1L598.3 710.3L604.0 717.3L621.2 715.2L626.9 715.4L632.6 716.8L638.3 719.1L644.0 715.9L661.1 708.7L712.5 708.9L718.2 709.0L723.9 713.8L741.0 708.1L746.7 703.2L752.4 711.6L758.1 711.2L763.8 715.5L780.9 717.6L786.7 715.8L792.4 715.2L798.1 712.5L803.8 715.1L820.9 714.6L826.6 721.0L832.3 718.0L838.0 716.3L843.7 717.3L860.8 716.1L866.6 717.6L872.3 714.7L878.0 720.9L883.7 716.4L900.8 721.1L906.5 715.5L912.2 711.2L917.9 716.4L923.6 717.4L940.7 717.5L946.4 708.9L952.2 706.7L957.9 706.1L963.6 705.9L980.7 709.8L986.4 710.1L992.1 715.5L997.8 715.0L1003.5 714.5L1020.6 713.9L1026.3 712.7L1032.0 716.0L1037.8 711.6L1060.6 711.8L1066.3 716.5L1072.0 714.0L1077.7 712.3L1083.4 714.8L1100.5 715.4L1106.2 709.4L1111.9 710.0L1117.7 709.9L1123.4 706.7L1140.5 708.8L1146.2 708.2L1151.9 706.3L1157.6 704.8L1163.3 705.0L1180.4 713.0L1186.1 709.0L1191.8 710.8L1226.1 708.8L1231.8 710.0L1237.5 708.0L1243.2 709.5L1260.3 706.5L1266.0 703.9L1271.7 703.3L1277.4 706.0L1283.2 705.5L1300.3 701.0L1306.0 699.0L1311.7 706.1L1317.4 707.5L1323.1 709.6L1340.2 704.1L1345.9 706.8L1351.6 706.5L1357.3 708.1L1363.0 710.8L1385.9 714.2L1391.6 711.4L1397.3 710.5L1403.0 708.9L1420.1 710.2L1425.8 707.1L1431.5 709.9L1437.2 711.2L1442.9 709.8L1460.1 707.8L1465.8 701.9L1471.5 705.4L1477.2 708.7L1482.9 710.5L1500.0 711.0L1505.7 714.3L1511.4 711.9L1517.1 711.6L1522.8 713.0L1540.0 708.7L1545.7 712.0L1551.4 710.3L1557.1 713.7L1562.8 709.4L1579.9 713.5L1585.6 706.9L1591.3 708.6L1597.0 712.3L1602.7 705.1L1619.9 705.5L1625.6 707.9L1631.3 706.2L1637.0 707.9L1642.7 715.4L1659.8 713.0L1665.5 714.5L1671.2 716.1L1676.9 716.5L1682.6 714.7L1699.7 712.9L1705.5 718.0L1711.2 711.9L1716.9 709.2L1722.6 708.4L1739.7 711.1L1745.4 708.6L1751.1 706.3L1756.8 712.0L1762.5 709.3L1779.6 710.7L1785.3 710.9L1791.1 712.1L1796.8 712.9L1802.5 710.0L1819.6 709.6L1825.3 712.4L1831.0 713.2L1836.7 712.4L1842.4 714.9L1859.5 714.8L1865.2 718.4L1871.0 717.7L1876.7 719.8L1882.4 717.1L1899.5 722.2L1905.2 718.4L1910.9 718.8L1916.6 719.7L1922.3 712.9L1939.4 711.7L1945.1 714.1L1950.8 715.4L1956.6 714.5L1962.3 711.6L1979.4 714.3L1985.1 716.5L1990.8 715.1L1996.5 713.6L2002.2 718.5L2019.3 716.9L2025.0 711.7L2030.7 706.2L2036.4 705.9L2042.2 711.1L2059.3 712.8L2065.0 713.6L2116.3 711.6L2122.1 708.0L2139.2 708.9L2144.9 712.2L2150.6 712.0L2156.3 709.8L2162.0 712.5L2179.1 711.7L2184.8 708.1L2190.5 707.1L2196.2 706.4L2201.9 708.9L2219.1 710.4L2224.8 712.7L2230.5 711.4L2236.2 710.6L2241.9 710.5L2259.0 715.1L2264.7 713.6L2270.4 713.7L2276.1 709.2L2281.8 710.1L2299.0 708.2L2304.7 709.2L2310.4 711.2L2316.1 707.9L2321.8 708.7L2338.9 709.9L2344.6 706.9L2350.3 707.1L2356.0 704.6L2361.7 704.6L2378.9 702.3L2384.6 705.7L2390.3 703.0L2396.0 706.6L2401.7 708.1L2418.8 707.4L2424.5 703.9L2430.2 704.9L2435.9 708.4L2441.6 708.9L2458.8 704.7L2464.5 703.5L2470.2 702.8L2475.9 704.5L2481.6 708.1L2498.7 704.4L2504.4 704.2L2510.1 706.4L2515.8 708.9L2521.5 709.9L2538.7 710.6L2544.4 704.7L2550.1 700.2L2555.8 700.6L2561.5 700.0L2578.6 700.6L2584.3 696.4L2590.0 694.9L2618.5 701.1L2624.3 696.1L2630.0 696.9L2635.7 702.0L2641.4 701.3L2658.5 698.5L2664.2 702.5L2669.9 699.2L2675.6 700.6L2681.3 701.4L2698.4 702.2L2704.1 699.0L2709.9 702.2L2715.6 707.9L2721.3 709.0L2738.4 708.9L2744.1 707.4L2749.8 708.6L2755.5 709.4L2761.2 710.8L2778.3 703.8L2784.0 708.1L2789.8 705.7L2795.5 709.0L2801.2 708.6"/>
<path stroke="#17becf" d="M518.4 586.7L524.1 586.3L541.3 583.9L547.0 602.6L552.7 583.7L558.4 584.4L564.1 637.9L581.2 643.6L586.9 625.8L592.6 592.3L598.3 645.6L604.0 629.1L621.2 611.1L626.9 615.0L632.6 676.2L638.3 684.8L644.0 662.3L661.1 646.4L712.5 681.7L718.2 668.5L723.9 681.5L741.0 730.7L746.7 693.5L752.4 709.3L758.1 702.0L763.8 702.7L780.9 705.0L786.7 719.7L792.4 732.8L798.1 751.9L803.8 750.0L820.9 757.7L826.6 771.9L832.3 715.3L838.0 730.9L843.7 738.5L860.8 741.1L866.6 741.1L872.3 744.5L878.0 764.1L883.7 762.4L900.8 784.0L906.5 790.7L912.2 799.0L917.9 795.6L923.6 790.0L940.7 770.5L946.4 799.7L952.2 778.9L957.9 730.4L963.6 773.8L980.7 767.8L986.4 748.3L992.1 714.4L997.8 761.6L1003.5 793.3L1020.6 763.2L1026.3 791.6L1032.0 774.6L1037.8 780.6L1060.6 777.6L1066.3 760.2L1072.0 783.0L1077.7 754.1L1083.4 746.0L1100.5 746.5L1106.2 710.0L1111.9 711.2L1117.7 713.8L1123.4 723.6L1140.5 728.4L1146.2 719.0L1151.9 714.3L1157.6 729.2L1163.3 692.5L1180.4 739.2L1186.1 760.7L1191.8 771.8L1226.1 792.8L1231.8 744.2L1237.5 760.9L1243.2 758.4L1260.3 730.4L1266.0 742.0L1271.7 725.2L1277.4 745.8L1283.2 751.3L1300.3 776.1L1306.0 777.5L1311.7 768.0L1317.4 785.6L1323.1 781.1L1340.2 771.9L1345.9 770.1L1351.6 733.7L1357.3 736.5L1363.0 726.7L1385.9 718.9L1391.6 730.7L1397.3 733.6L1403.0 708.6L1420.1 737.4L1425.8 745.7L1431.5 725.5L1437.2 707.3L1442.9 714.4L1460.1 700.6L1465.8 725.5L1471.5 727.0L1477.2 749.1L1482.9 782.7L1500.0 767.0L1505.7 821.4L1511.4 789.7L1517.1 784.4L1522.8 768.9L1540.0 780.0L1545.7 780.6L1551.4 792.5L1557.1 787.8L1562.8 796.4L1579.9 753.7L1585.6 747.3L1591.3 776.2L1597.0 751.4L1602.7 746.2L1619.9 765.6L1625.6 788.2L1631.3 781.3L1637.0 779.0L1642.7 786.8L1659.8 815.3L1665.5 818.5L1671.2 815.3L1676.9 799.5L1682.6 811.3L1699.7 798.2L1705.5 811.1L1711.2 811.8L1716.9 786.2L1722.6 781.3L1739.7 793.8L1745.4 789.2L1751.1 788.8L1756.8 790.3L1762.5 811.0L1779.6 798.8L1785.3 782.2L1791.1 790.4L1796.8 783.8L1802.5 819.0L1819.6 807.9L1825.3 837.6L1831.0 844.0L1836.7 849.6L1842.4 855.1L1859.5 877.0L1865.2 913.5L1871.0 909.3L1876.7 900.8L1882.4 892.4L1899.5 910.1L1905.2 910.8L1910.9 900.3L1916.6 856.2L1922.3 802.5L1939.4 788.8L1945.1 798.6L1950.8 800.8L1956.6 805.8L1962.3 811.5L1979.4 806.9L1985.1 801.6L1990.8 808.8L1996.5 796.3L2002.2 811.0L2019.3 792.2L2025.0 784.7L2030.7 787.5L2036.4 821.8L2042.2 796.6L2059.3 770.1L2065.0 758.9L2116.3 766.0L2122.1 748.3L2139.2 760.2L2144.9 734.5L2150.6 741.0L2156.3 751.0L2162.0 739.9L2179.1 720.8L2184.8 738.7L2190.5 722.1L2196.2 751.9L2201.9 785.3L2219.1 767.7L2224.8 758.5L2230.5 765.0L2236.2 761.0L2241.9 767.5L2259.0 801.2L2264.7 779.8L2270.4 785.5L2276.1 780.9L2281.8 787.2L2299.0 766.2L2304.7 789.2L2310.4 801.1L2316.1 792.6L2321.8 844.8L2338.9 842.2L2344.6 863.4L2350.3 805.1L2356.0 778.9L2361.7 777.0L2378.9 810.8L2384.6 789.1L2390.3 799.5L2396.0 808.0L2401.7 769.4L2418.8 761.1L2424.5 804.4L2430.2 798.3L2435.9 792.8L2441.6 800.2L2458.8 800.8L2464.5 796.5L2470.2 818.6L2475.9 786.6L2481.6 794.7L2498.7 798.9L2504.4 789.9L2510.1 801.4L2515.8 797.7L2521.5 770.9L2538.7 784.5L2544.4 816.5L2550.1 805.4L2555.8 775.2L2561.5 780.5L2578.6 783.8L2584.3 762.5L2590.0 796.0L2618.5 769.0L2624.3 800.1L2630.0 794.8L2635.7 785.7L2641.4 774.7L2658.5 762.8L2664.2 787.3L2669.9 780.6L2675.6 780.7L2681.3 766.4L2698.4 790.6L2704.1 806.7L2709.9 789.8L2715.6 767.5L2721.3 758.7L2738.4 763.6L2744.1 771.3L2749.8 754.2L2755.5 796.5L2761.2 771.6L2778.3 741.8L2784.0 752.1L2789.8 749.5L2795.5 746.0L2801.2 746.5"/>
<path stroke="#1f77b4" d="M518.4 641.9L524.1 630.6L541.3 689.5L547.0 693.5L552.7 633.1L558.4 649.7L564.1 658.1L581.2 649.3L586.9 647.5L592.6 677.3L598.3 678.0L604.0 661.9L621.2 641.6L626.9 668.5L632.6 682.0L638.3 694.7L644.0 662.8L661.1 652.9L712.5 643.7L718.2 686.1L723.9 701.6L741.0 726.3L746.7 695.8L752.4 682.2L758.1 688.4L763.8 693.5L780.9 690.0L786.7 723.6L792.4 704.9L798.1 706.4L803.8 699.2L820.9 693.2L826.6 684.3L832.3 694.8L838.0 701.6L843.7 694.2L860.8 702.8L866.6 695.5L872.3 706.2L878.0 689.6L883.7 673.3L900.8 684.2L906.5 682.8L912.2 692.3L917.9 706.9L923.6 702.4L940.7 688.2L946.4 679.9L952.2 701.0L957.9 709.3L963.6 692.9L980.7 684.3L986.4 720.9L992.1 722.5L997.8 751.6L1003.5 741.2L1020.6 731.3L1026.3 797.2L1032.0 772.3L1037.8 777.2L1060.6 773.8L1066.3 776.1L1072.0 774.0L1077.7 768.6L1083.4 755.8L1100.5 753.7L1106.2 707.9L1111.9 711.7L1117.7 726.6L1123.4 699.8L1140.5 703.2L1146.2 728.5L1151.9 711.8L1157.6 734.1L1163.3 741.5L1180.4 735.6L1186.1 731.2L1191.8 709.0L1226.1 732.8L1231.8 733.5L1237.5 731.8L1243.2 752.0L1260.3 746.9L1266.0 719.5L1271.7 700.9L1277.4 744.4L1283.2 748.1L1300.3 752.6L1306.0 710.3L1311.7 723.5L1317.4 730.5L1323.1 745.4L1340.2 698.7L1345.9 686.9L1351.6 692.6L1357.3 729.5L1363.0 739.7L1385.9 705.2L1391.6 719.9L1397.3 665.7L1403.0 685.8L1420.1 704.6L1425.8 689.5L1431.5 692.2L1437.2 690.1L1442.9 693.5L1460.1 680.7L1465.8 698.7L1471.5 672.3L1477.2 688.9L1482.9 685.6L1500.0 677.1L1505.7 683.3L1511.4 671.6L1517.1 650.5L1522.8 665.3L1540.0 686.7L1545.7 661.7L1551.4 682.3L1557.1 708.7L1562.8 703.9L1579.9 735.1L1585.6 721.1L1591.3 724.5L1597.0 748.9L1602.7 722.0L1619.9 703.8L1625.6 757.9L1631.3 716.1L1637.0 697.3L1642.7 718.3L1659.8 720.8L1665.5 685.1L1671.2 736.4L1676.9 712.2L1682.6 688.6L1699.7 727.3L1705.5 741.8L1711.2 737.2L1716.9 754.2L1722.6 733.9L1739.7 756.9L1745.4 766.0L1751.1 736.5L1756.8 725.0L1762.5 707.5L1779.6 736.1L1785.3 741.7L1791.1 717.2L1796.8 731.2L1802.5 757.6L1819.6 751.9L1825.3 768.1L1831.0 783.5L1836.7 788.6L1842.4 781.1L1859.5 789.6L1865.2 780.3L1871.0 782.1L1876.7 783.1L1882.4 813.9L1899.5 775.8L1905.2 764.0L1910.9 771.5L1916.6 762.4L1922.3 775.5L1939.4 789.6L1945.1 752.1L1950.8 774.3L1956.6 768.6L1962.3 764.7L1979.4 766.0L1985.1 760.3L1990.8 782.1L1996.5 792.7L2002.2 780.8L2019.3 776.4L2025.0 746.6L2030.7 756.6L2036.4 763.6L2042.2 773.7L2059.3 761.3L2065.0 752.8L2116.3 771.5L2122.1 782.7L2139.2 805.3L2144.9 775.6L2150.6 774.3L2156.3 777.3L2162.0 755.4L2179.1 795.4L2184.8 780.2L2190.5 775.0L2196.2 778.9L2201.9 771.8L2219.1 764.3L2224.8 773.6L2230.5 749.8L2236.2 755.5L2241.9 747.3L2259.0 752.9L2264.7 770.9L2270.4 776.1L2276.1 771.2L2281.8 776.4L2299.0 755.1L2304.7 792.7L2310.4 787.8L2316.1 757.9L2321.8 781.9L2338.9 780.2L2344.6 758.5L2350.3 779.8L2356.0 783.4L2361.7 780.7L2378.9 797.5L2384.6 778.7L2390.3 775.6L2396.0 760.3L2401.7 767.0L2418.8 777.9L2424.5 762.0L2430.2 764.4L2435.9 765.0L2441.6 771.3L2458.8 739.1L2464.5 782.2L2470.2 771.4L2475.9 772.5L2481.6 792.9L2498.7 795.0L2504.4 783.0L2510.1 772.2L2515.8 799.5L2521.5 775.0L2538.7 831.4L2544.4 785.5L2550.1 810.3L2555.8 761.2L2561.5 767.2L2578.6 764.8L2584.3 777.4L2590.0 765.4L2618.5 765.3L2624.3 776.0L2630.0 774.6L2635.7 805.2L2641.4 811.9L2658.5 773.1L2664.2 773.6L2669.9 760.1L2675.6 775.3L2681.3 803.0L2698.4 795.6L2704.1 811.1L2709.9 799.3L2715.6 789.2L2721.3 800.5L2738.4 817.6L2744.1 820.7L2749.8 812.1L2755.5 821.3L2761.2 835.9L2778.3 846.1L2784.0 810.9L2789.8 794.0L2795.5 753.9L2801.2 779.9"/>
<path stroke="#ff7f0e" d="M518.4 716.0L524.1 659.3L541.3 697.3L547.0 697.7L552.7 721.9L558.4 705.7L564.1 706.2L581.2 693.5L586.9 701.8L592.6 694.2L598.3 684.1L604.0 667.9L621.2 688.7L626.9 715.9L632.6 700.8L638.3 708.7L644.0 696.3L661.1 688.5L712.5 700.7L718.2 699.7L723.9 702.4L741.0 709.8L746.7 723.7L752.4 725.7L758.1 722.7L763.8 729.6L780.9 708.2L786.7 705.9L792.4 700.7L798.1 702.5L803.8 724.6L820.9 719.4L826.6 718.4L832.3 708.8L838.0 703.7L843.7 692.8L860.8 710.6L866.6 702.1L872.3 702.0L878.0 691.5L883.7 705.3L900.8 714.8L906.5 709.9L912.2 686.2L917.9 684.6L923.6 688.7L940.7 709.1L946.4 714.8L952.2 708.2L957.9 718.6L963.6 709.6L980.7 689.3L986.4 697.6L992.1 696.3L997.8 693.5L1003.5 693.1L1020.6 696.2L1026.3 676.2L1032.0 678.8L1037.8 687.8L1060.6 688.2L1066.3 686.2L1072.0 677.8L1077.7 682.6L1083.4 684.9L1100.5 684.1L1106.2 676.3L1111.9 695.6L1117.7 707.2L1123.4 714.7L1140.5 728.4L1146.2 711.7L1151.9 704.8L1157.6 694.1L1163.3 710.4L1180.4 717.1L1186.1 740.3L1191.8 728.6L1226.1 710.2L1231.8 698.9L1237.5 714.4L1243.2 703.8L1260.3 697.6L1266.0 692.9L1271.7 702.9L1277.4 693.7L1283.2 685.4L1300.3 696.1L1306.0 708.4L1311.7 702.1L1317.4 712.0L1323.1 715.4L1340.2 717.1L1345.9 719.3L1351.6 719.8L1357.3 716.7L1363.0 709.6L1385.9 710.4L1391.6 696.8L1397.3 691.8L1403.0 713.4L1420.1 723.7L1425.8 708.3L1431.5 693.6L1437.2 693.8L1442.9 713.3L1460.1 722.9L1465.8 730.4L1471.5 722.9L1477.2 725.5L1482.9 727.0L1500.0 719.3L1505.7 743.3L1511.4 736.7L1517.1 711.7L1522.8 748.3L1540.0 722.0L1545.7 720.1L1551.4 723.3L1557.1 702.9L1562.8 705.8L1579.9 706.8L1585.6 695.4L1591.3 684.3L1597.0 677.9L1602.7 697.6L1619.9 715.0L1625.6 703.0L1631.3 701.2L1637.0 701.4L1642.7 699.7L1659.8 694.6L1665.5 687.6L1671.2 676.0L1676.9 680.8L1682.6 679.1L1699.7 674.9L1705.5 664.9L1711.2 656.2L1716.9 654.0L1722.6 658.9L1739.7 671.7L1745.4 656.3L1751.1 658.4L1756.8 653.3L1762.5 661.0L1779.6 634.2L1785.3 649.5L1791.1 640.1L1796.8 640.4L1802.5 657.8L1819.6 655.9L1825.3 651.3L1831.0 640.8L1836.7 644.4L1842.4 640.0L1859.5 640.0L1865.2 614.3L1871.0 631.2L1876.7 638.1L1882.4 633.0L1899.5 646.4L1905.2 636.5L1910.9 639.6L1916.6 644.9L1922.3 640.3L1939.4 644.0L1945.1 638.7L1950.8 631.8L1956.6 635.2L1962.3 643.2L1979.4 653.5L1985.1 683.4L1990.8 664.5L1996.5 677.5L2002.2 681.7L2019.3 662.9L2025.0 683.3L2030.7 670.5L2036.4 656.1L2042.2 665.2L2059.3 673.9L2065.0 679.4L2116.3 681.2L2122.1 681.6L2139.2 681.6L2144.9 693.6L2150.6 672.1L2156.3 676.3L2162.0 657.0L2179.1 676.8L2184.8 665.9L2190.5 655.0L2196.2 655.1L2201.9 672.4L2219.1 665.0L2224.8 665.7L2230.5 675.3L2236.2 683.6L2241.9 677.8L2259.0 687.2L2264.7 673.3L2270.4 672.8L2276.1 695.4L2281.8 683.4L2299.0 664.0L2304.7 662.7L2310.4 674.3L2316.1 674.6L2321.8 677.4L2338.9 683.7L2344.6 671.7L2350.3 669.7L2356.0 675.5L2361.7 671.0L2378.9 657.3L2384.6 655.1L2390.3 658.0L2396.0 677.8L2401.7 672.5L2418.8 665.7L2424.5 675.1L2430.2 661.6L2435.9 674.5L2441.6 670.1L2458.8 652.3L2464.5 659.6L2470.2 675.3L2475.9 683.6L2481.6 684.4L2498.7 691.0L2504.4 673.2L2510.1 681.0L2515.8 703.9L2521.5 701.9L2538.7 696.8L2544.4 699.7L2550.1 694.0L2555.8 691.3L2561.5 672.6L2578.6 695.1L2584.3 684.9L2590.0 703.2L2618.5 692.3L2624.3 708.1L2630.0 709.2L2635.7 695.3L2641.4 703.3L2658.5 705.1L2664.2 695.7L2669.9 684.7L2675.6 702.9L2681.3 715.5L2698.4 718.5L2704.1 707.9L2709.9 723.7L2715.6 712.3L2721.3 701.0L2738.4 699.6L2744.1 715.7L2749.8 694.0L2755.5 705.5L2761.2 701.9L2778.3 702.0L2784.0 703.9L2789.8 719.8L2795.5 717.5L2801.2 741.2"/>
<path stroke="#2ca02c" d="M518.4 628.8L524.1 632.9L541.3 658.6L547.0 585.0L552.7 634.7L558.4 645.8L564.1 636.0L581.2 638.3L586.9 709.9L592.6 710.4L598.3 715.6L604.0 670.2L621.2 687.6L626.9 717.5L632.6 690.0L638.3 666.7L644.0 674.2L661.1 678.0L712.5 675.3L718.2 689.6L723.9 676.9L741.0 682.6L746.7 647.1L752.4 638.6L758.1 631.3L763.8 639.4L780.9 627.7L786.7 612.8L792.4 613.0L798.1 628.9L803.8 649.3L820.9 625.8L826.6 622.0L832.3 623.0L838.0 624.0L843.7 625.0L860.8 628.1L866.6 628.2L872.3 623.5L878.0 614.3L883.7 605.9L900.8 598.5L906.5 593.0L912.2 597.1L917.9 594.0L923.6 593.1L940.7 592.2L946.4 594.3L952.2 586.5L957.9 588.4L963.6 590.3L980.7 590.2L986.4 593.1L992.1 589.9L997.8 586.1L1003.5 586.6L1020.6 593.6L1026.3 598.1L1032.0 602.6L1037.8 607.1L1060.6 602.2L1066.3 604.4L1072.0 606.8L1077.7 622.0L1083.4 623.8L1100.5 628.9L1106.2 629.1L1111.9 628.7L1117.7 628.3L1123.4 627.8L1140.5 638.6L1146.2 624.5L1151.9 612.4L1157.6 600.9L1163.3 589.5L1180.4 597.8L1186.1 602.2L1191.8 610.2L1226.1 617.8L1231.8 617.1L1237.5 618.9L1243.2 619.9L1260.3 621.6L1266.0 622.2L1271.7 622.8L1277.4 623.1L1283.2 622.5L1300.3 620.8L1306.0 620.7L1311.7 620.7L1317.4 620.7L1323.1 610.2L1340.2 617.2L1345.9 612.5L1351.6 603.6L1357.3 624.7L1363.0 634.2L1385.9 652.6L1391.6 656.5L1397.3 645.6L1403.0 663.3L1420.1 675.6L1425.8 678.9L1431.5 680.2L1437.2 655.8L1442.9 639.2L1460.1 636.7L1465.8 649.0L1471.5 640.3L1477.2 661.2L1482.9 642.9L1500.0 634.4L1505.7 658.6L1511.4 664.0L1517.1 680.0L1522.8 683.7L1540.0 665.5L1545.7 654.5L1551.4 660.5L1557.1 658.0L1562.8 645.9L1579.9 659.6L1585.6 666.9L1591.3 663.4L1597.0 660.6L1602.7 659.8L1619.9 664.8L1625.6 650.1L1631.3 641.6L1637.0 647.8L1642.7 652.2L1659.8 649.9L1665.5 657.8L1671.2 638.6L1676.9 620.9L1682.6 647.6L1699.7 633.6L1705.5 616.2L1711.2 630.2L1716.9 634.7L1722.6 629.9L1739.7 652.0L1745.4 636.5L1751.1 656.6L1756.8 659.3L1762.5 645.5L1779.6 677.9L1785.3 668.3L1791.1 677.9L1796.8 674.8L1802.5 693.7L1819.6 683.4L1825.3 679.9L1831.0 673.5L1836.7 674.2L1842.4 688.1L1859.5 672.8L1865.2 672.0L1871.0 673.0L1876.7 690.4L1882.4 679.8L1899.5 673.7L1905.2 688.7L1910.9 675.9L1916.6 666.2L1922.3 671.5L1939.4 689.2L1945.1 685.9L1950.8 700.9L1956.6 681.3L1962.3 689.2L1979.4 686.7L1985.1 702.8L1990.8 682.3L1996.5 722.2L2002.2 705.2L2019.3 706.9L2025.0 689.7L2030.7 684.4L2036.4 692.8L2042.2 683.8L2059.3 679.3L2065.0 678.3L2116.3 652.4L2122.1 670.3L2139.2 663.3L2144.9 663.0L2150.6 644.0L2156.3 625.6L2162.0 634.8L2179.1 634.5L2184.8 608.7L2190.5 626.6L2196.2 647.4L2201.9 639.3L2219.1 635.7L2224.8 628.0L2230.5 636.0L2236.2 656.8L2241.9 663.0L2259.0 652.8L2264.7 638.6L2270.4 665.8L2276.1 646.3L2281.8 659.5L2299.0 665.9L2304.7 659.3L2310.4 649.7L2316.1 642.9L2321.8 638.7L2338.9 603.9L2344.6 594.9L2350.3 605.4L2356.0 573.0L2361.7 590.8L2378.9 585.4L2384.6 604.4L2390.3 606.3L2396.0 600.4L2401.7 596.8L2418.8 576.7L2424.5 586.2L2430.2 603.3L2435.9 609.6L2441.6 606.8L2458.8 598.8L2464.5 593.3L2470.2 594.4L2475.9 588.4L2481.6 601.9L2498.7 615.7L2504.4 630.0L2510.1 639.0L2515.8 653.0L2521.5 639.1L2538.7 638.4L2544.4 619.5L2550.1 631.9L2555.8 620.9L2561.5 629.3L2578.6 636.2L2584.3 651.0L2590.0 653.7L2618.5 660.4L2624.3 645.5L2630.0 648.7L2635.7 634.1L2641.4 634.3L2658.5 643.0L2664.2 639.8L2669.9 639.2L2675.6 636.7L2681.3 643.3L2698.4 631.1L2704.1 652.4L2709.9 654.0L2715.6 642.1L2721.3 642.9L2738.4 651.2L2744.1 659.5L2749.8 669.3L2755.5 649.7L2761.2 642.5L2778.3 651.4L2784.0 635.3L2789.8 642.0L2795.5 655.6L2801.2 673.9"/>
<path stroke="#d62728" d="M518.4 579.6L524.1 598.6L541.3 585.3L547.0 583.5L552.7 635.8L558.4 587.8L564.1 588.0L581.2 577.4L586.9 577.0L592.6 583.1L598.3 601.6L604.0 583.1L621.2 585.0L626.9 585.5L632.6 587.4L638.3 586.4L644.0 615.2L661.1 612.4L712.5 588.9L718.2 591.3L723.9 637.0L741.0 604.0L746.7 598.6L752.4 587.8L758.1 601.9L763.8 599.0L780.9 610.9L786.7 618.9L792.4 643.1L798.1 644.9L803.8 639.8L820.9 640.1L826.6 669.6L832.3 633.3L838.0 634.1L843.7 660.6L860.8 643.5L866.6 639.8L872.3 661.2L878.0 647.0L883.7 627.3L900.8 655.2L906.5 630.9L912.2 611.5L917.9 613.6L923.6 652.0L940.7 628.7L946.4 623.6L952.2 615.9L957.9 604.8L963.6 593.7L980.7 592.4L986.4 596.4L992.1 582.5L997.8 629.7L1003.5 619.1L1020.6 624.3L1026.3 597.2L1032.0 618.0L1037.8 599.0L1060.6 620.4L1066.3 639.4L1072.0 623.3L1077.7 636.0L1083.4 606.5L1100.5 611.0L1106.2 614.5L1111.9 585.5L1117.7 588.2L1123.4 581.5L1140.5 595.5L1146.2 587.7L1151.9 590.6L1157.6 596.8L1163.3 616.6L1180.4 610.7L1186.1 597.4L1191.8 612.1L1226.1 635.2L1231.8 608.0L1237.5 616.1L1243.2 624.8L1260.3 617.4L1266.0 604.1L1271.7 617.5L1277.4 601.6L1283.2 577.4L1300.3 588.8L1306.0 589.0L1311.7 607.6L1317.4 613.6L1323.1 602.8L1340.2 592.8L1345.9 574.5L1351.6 594.5L1357.3 578.1L1363.0 576.9L1385.9 574.5L1391.6 576.6L1397.3 597.2L1403.0 599.0L1420.1 601.1L1425.8 604.9L1431.5 595.8L1437.2 584.0L1442.9 577.2L1460.1 601.8L1465.8 591.1L1471.5 622.1L1477.2 648.9L1482.9 626.7L1500.0 638.8L1505.7 619.6L1511.4 619.2L1517.1 625.0L1522.8 609.7L1540.0 626.8L1545.7 605.7L1551.4 603.1L1557.1 639.0L1562.8 610.3L1579.9 597.5L1585.6 589.7L1591.3 568.8L1597.0 572.1L1602.7 592.0L1619.9 594.3L1625.6 617.7L1631.3 620.3L1637.0 633.1L1642.7 615.2L1659.8 594.5L1665.5 610.1L1671.2 628.9L1676.9 617.2L1682.6 632.4L1699.7 599.6L1705.5 600.1L1711.2 598.2L1716.9 614.3L1722.6 600.0L1739.7 604.5L1745.4 607.0L1751.1 619.1L1756.8 615.1L1762.5 634.9L1779.6 637.7L1785.3 622.9L1791.1 621.3L1796.8 636.6L1802.5 622.0L1819.6 616.3L1825.3 620.3L1831.0 603.9L1836.7 589.6L1842.4 594.3L1859.5 599.9L1865.2 596.9L1871.0 604.7L1876.7 622.9L1882.4 613.9L1899.5 629.9L1905.2 589.9L1910.9 659.1L1916.6 675.5L1922.3 626.6L1939.4 621.0L1945.1 621.6L1950.8 625.6L1956.6 630.8L1962.3 618.6L1979.4 596.0L1985.1 598.5L1990.8 606.7L1996.5 600.0L2002.2 583.1L2019.3 602.6L2025.0 598.1L2030.7 576.3L2036.4 581.2L2042.2 591.1L2059.3 568.1L2065.0 582.7L2116.3 564.5L2122.1 579.9L2139.2 587.5L2144.9 600.3L2150.6 584.5L2156.3 608.9L2162.0 620.9L2179.1 608.7L2184.8 601.3L2190.5 593.6L2196.2 590.0L2201.9 594.3L2219.1 586.5L2224.8 574.1L2230.5 579.2L2236.2 567.6L2241.9 574.1L2259.0 584.7L2264.7 618.6L2270.4 601.4L2276.1 563.8L2281.8 593.4L2299.0 609.1L2304.7 615.1L2310.4 603.6L2316.1 594.6L2321.8 640.1L2338.9 623.3L2344.6 626.5L2350.3 641.8L2356.0 640.4L2361.7 620.7L2378.9 588.0L2384.6 592.0L2390.3 613.5L2396.0 626.4L2401.7 602.4L2418.8 576.8L2424.5 597.2L2430.2 594.2L2435.9 594.2L2441.6 560.3L2458.8 572.2L2464.5 568.0L2470.2 598.4L2475.9 598.9L2481.6 639.6L2498.7 609.6L2504.4 616.1L2510.1 617.0L2515.8 636.5L2521.5 634.4L2538.7 640.4L2544.4 609.7L2550.1 596.8L2555.8 632.4L2561.5 614.2L2578.6 617.5L2584.3 610.7L2590.0 613.9L2618.5 598.1L2624.3 615.3L2630.0 605.4L2635.7 624.7L2641.4 615.2L2658.5 596.1L2664.2 611.8L2669.9 574.9L2675.6 570.9L2681.3 585.3L2698.4 556.2L2704.1 547.9L2709.9 546.5L2715.6 555.6L2721.3 547.9L2738.4 550.0L2744.1 547.6L2749.8 555.6L2755.5 573.7L2761.2 560.9L2778.3 551.7L2784.0 551.2L2789.8 542.8L2795.5 549.1L2801.2 549.4"/>
<path stroke="#9467bd" d="M518.4 670.5L524.1 660.9L541.3 721.4L547.0 725.4L552.7 689.1L558.4 617.0L564.1 618.0L581.2 637.0L586.9 626.8L592.6 661.5L598.3 658.7L604.0 666.0L621.2 673.7L626.9 663.5L632.6 665.0L638.3 661.1L644.0 629.2L661.1 660.9L712.5 684.2L718.2 690.2L723.9 690.9L741.0 687.8L746.7 672.0L752.4 681.3L758.1 685.7L763.8 695.4L780.9 692.5L786.7 697.3L792.4 695.6L798.1 700.2L803.8 690.8L820.9 708.4L826.6 678.3L832.3 675.8L838.0 690.0L843.7 677.2L860.8 659.9L866.6 674.7L872.3 701.9L878.0 677.7L883.7 684.3L900.8 658.1L906.5 675.5L912.2 679.8L917.9 675.3L923.6 682.0L940.7 652.0L946.4 675.3L952.2 634.3L957.9 669.6L963.6 652.8L980.7 645.0L986.4 652.7L992.1 649.1L997.8 646.0L1003.5 670.6L1020.6 652.8L1026.3 672.6L1032.0 664.0L1037.8 657.4L1060.6 652.2L1066.3 648.8L1072.0 665.5L1077.7 645.4L1083.4 637.9L1100.5 623.6L1106.2 626.1L1111.9 645.1L1117.7 641.3L1123.4 677.7L1140.5 655.4L1146.2 665.1L1151.9 666.7L1157.6 667.9L1163.3 662.4L1180.4 665.8L1186.1 645.8L1191.8 653.3L1226.1 669.0L1231.8 667.6L1237.5 655.1L1243.2 648.0L1260.3 659.2L1266.0 641.5L1271.7 624.9L1277.4 632.4L1283.2 620.1L1300.3 655.1L1306.0 663.9L1311.7 645.1L1317.4 635.4L1323.1 631.5L1340.2 619.4L1345.9 642.8L1351.6 635.4L1357.3 618.7L1363.0 627.3L1385.9 627.3L1391.6 638.8L1397.3 652.5L1403.0 675.8L1420.1 666.4L1425.8 650.8L1431.5 681.4L1437.2 663.3L1442.9 646.2L1460.1 640.7L1465.8 656.2L1471.5 657.1L1477.2 661.7L1482.9 635.9L1500.0 634.7L1505.7 632.6L1511.4 628.9L1517.1 614.6L1522.8 620.0L1540.0 627.2L1545.7 652.8L1551.4 660.2L1557.1 647.9L1562.8 681.5L1579.9 666.8L1585.6 654.5L1591.3 647.1L1597.0 618.4L1602.7 621.3L1619.9 598.0L1625.6 600.2L1631.3 613.5L1637.0 590.3L1642.7 583.2L1659.8 583.0L1665.5 599.6L1671.2 578.3L1676.9 570.7L1682.6 582.7L1699.7 596.8L1705.5 606.0L1711.2 627.9L1716.9 613.9L1722.6 602.3L1739.7 610.6L1745.4 626.2L1751.1 639.2L1756.8 623.9L1762.5 597.5L1779.6 570.3L1785.3 582.4L1791.1 596.0L1796.8 619.7L1802.5 618.6L1819.6 610.8L1825.3 611.9L1831.0 621.5L1836.7 624.1L1842.4 660.0L1859.5 654.8L1865.2 613.7L1871.0 616.1L1876.7 593.0L1882.4 594.1L1899.5 609.6L1905.2 579.2L1910.9 582.9L1916.6 563.4L1922.3 578.8L1939.4 601.7L1945.1 577.7L1950.8 582.5L1956.6 595.3L1962.3 568.5L1979.4 573.9L1985.1 557.3L1990.8 564.0L1996.5 564.9L2002.2 565.3L2019.3 566.6L2025.0 563.5L2030.7 581.5L2036.4 582.9L2042.2 558.9L2059.3 564.3L2065.0 557.5L2116.3 563.1L2122.1 562.6L2139.2 571.1L2144.9 563.5L2150.6 567.4L2156.3 565.0L2162.0 560.3L2179.1 557.4L2184.8 558.7L2190.5 550.4L2196.2 548.4L2201.9 556.2L2219.1 560.7L2224.8 558.7L2230.5 573.9L2236.2 560.9L2241.9 567.6L2259.0 563.8L2264.7 564.6L2270.4 581.3L2276.1 599.2L2281.8 620.8L2299.0 593.4L2304.7 583.9L2310.4 602.4L2316.1 584.1L2321.8 608.1L2338.9 618.3L2344.6 599.7L2350.3 621.3L2356.0 620.8L2361.7 622.2L2378.9 644.9L2384.6 697.3L2390.3 636.3L2396.0 619.3L2401.7 636.1L2418.8 685.7L2424.5 660.7L2430.2 668.5L2435.9 682.8L2441.6 661.2L2458.8 641.8L2464.5 647.8L2470.2 657.4L2475.9 621.2L2481.6 617.7L2498.7 634.5L2504.4 677.1L2510.1 611.8L2515.8 620.6L2521.5 621.7L2538.7 568.3L2544.4 600.3L2550.1 633.9L2555.8 642.0L2561.5 624.9L2578.6 660.3L2584.3 639.7L2590.0 604.8L2618.5 677.0L2624.3 645.4L2630.0 686.1L2635.7 645.8L2641.4 652.8L2658.5 684.1L2664.2 668.9L2669.9 675.0L2675.6 678.2L2681.3 659.5L2698.4 644.2L2704.1 647.3L2709.9 660.5L2715.6 681.3L2721.3 683.9L2738.4 625.7L2744.1 640.1L2749.8 617.9L2755.5 589.2L2761.2 562.8L2778.3 588.4L2784.0 614.7L2789.8 625.5L2795.5 609.8L2801.2 585.8"/>
<path stroke="#8c564b" d="M518.4 768.3L524.1 732.7L541.3 669.8L547.0 674.1L552.7 702.8L558.4 766.6L564.1 773.7L581.2 786.9L586.9 762.7L592.6 752.0L598.3 756.6L604.0 757.5L621.2 705.3L626.9 697.5L632.6 704.7L638.3 699.3L644.0 722.0L661.1 674.3L712.5 718.3L718.2 701.9L723.9 694.3L741.0 707.4L746.7 694.3L752.4 690.5L758.1 698.1L763.8 720.9L780.9 684.8L786.7 698.0L792.4 695.5L798.1 693.1L803.8 695.3L820.9 696.2L826.6 708.6L832.3 699.0L838.0 675.5L843.7 694.5L860.8 691.4L866.6 694.7L872.3 648.1L878.0 672.3L883.7 682.6L900.8 680.2L906.5 698.7L912.2 682.1L917.9 666.1L923.6 659.6L940.7 670.6L946.4 688.8L952.2 688.0L957.9 682.9L963.6 680.6L980.7 687.4L986.4 716.1L992.1 731.8L997.8 733.5L1003.5 692.0L1020.6 695.7L1026.3 697.9L1032.0 687.1L1037.8 692.1L1060.6 692.3L1066.3 717.0L1072.0 726.1L1077.7 709.4L1083.4 725.7L1100.5 711.9L1106.2 685.7L1111.9 715.6L1117.7 713.5L1123.4 716.0L1140.5 693.0L1146.2 690.7L1151.9 671.8L1157.6 669.7L1163.3 692.5L1180.4 676.1L1186.1 696.1L1191.8 723.0L1226.1 696.5L1231.8 690.0L1237.5 651.0L1243.2 704.0L1260.3 697.5L1266.0 694.5L1271.7 700.7L1277.4 680.2L1283.2 668.9L1300.3 673.4L1306.0 683.0L1311.7 684.6L1317.4 687.6L1323.1 705.8L1340.2 673.3L1345.9 682.4L1351.6 691.6L1357.3 680.8L1363.0 705.8L1385.9 696.7L1391.6 698.2L1397.3 718.6L1403.0 693.4L1420.1 663.7L1425.8 685.6L1431.5 689.3L1437.2 671.6L1442.9 701.8L1460.1 687.5L1465.8 707.9L1471.5 724.0L1477.2 717.0L1482.9 678.8L1500.0 703.9L1505.7 731.7L1511.4 738.7L1517.1 727.3L1522.8 745.9L1540.0 702.5L1545.7 711.1L1551.4 712.9L1557.1 701.3L1562.8 702.4L1579.9 725.9L1585.6 723.0L1591.3 731.4L1597.0 743.1L1602.7 747.4L1619.9 746.9L1625.6 742.2L1631.3 733.6L1637.0 703.5L1642.7 717.4L1659.8 702.4L1665.5 721.2L1671.2 710.1L1676.9 698.9L1682.6 694.5L1699.7 656.8L1705.5 710.8L1711.2 694.4L1716.9 679.6L1722.6 689.2L1739.7 685.0L1745.4 704.5L1751.1 688.9L1756.8 671.3L1762.5 710.6L1779.6 722.7L1785.3 693.5L1791.1 709.6L1796.8 734.4L1802.5 726.3L1819.6 709.5L1825.3 700.4L1831.0 705.7L1836.7 732.4L1842.4 740.9L1859.5 740.8L1865.2 707.7L1871.0 735.8L1876.7 717.5L1882.4 716.6L1899.5 721.7L1905.2 726.6L1910.9 709.9L1916.6 737.2L1922.3 726.6L1939.4 761.7L1945.1 752.0L1950.8 734.2L1956.6 719.2L1962.3 706.3L1979.4 714.9L1985.1 702.6L1990.8 712.4L1996.5 715.2L2002.2 707.7L2019.3 700.6L2025.0 727.0L2030.7 704.3L2036.4 704.5L2042.2 712.4L2059.3 732.9L2065.0 715.9L2116.3 721.6L2122.1 710.5L2139.2 700.0L2144.9 903.0L2150.6 720.0L2156.3 706.7L2162.0 698.0L2179.1 724.1L2184.8 702.9L2190.5 692.1L2196.2 684.3L2201.9 669.8L2219.1 687.0L2224.8 682.6L2230.5 690.0L2236.2 921.0L2241.9 700.0L2259.0 690.8L2264.7 714.7L2270.4 679.1L2276.1 700.6L2281.8 684.5L2299.0 718.3L2304.7 703.5L2310.4 720.6L2316.1 742.5L2321.8 747.6L2338.9 727.2L2344.6 721.4L2350.3 702.3L2356.0 714.7L2361.7 749.0L2378.9 725.6L2384.6 708.1L2390.3 714.4L2396.0 743.0L2401.7 712.6L2418.8 748.6L2424.5 727.5L2430.2 735.6L2435.9 752.7L2441.6 732.7L2458.8 729.3L2464.5 706.3L2470.2 723.9L2475.9 713.9L2481.6 699.3L2498.7 713.0L2504.4 697.6L2510.1 685.2L2515.8 715.1L2521.5 719.6L2538.7 739.8L2544.4 761.6L2550.1 724.8L2555.8 719.3L2561.5 732.9L2578.6 713.1L2584.3 729.4L2590.0 742.2L2618.5 707.8L2624.3 719.2L2630.0 735.8L2635.7 732.2L2641.4 721.0L2658.5 724.6L2664.2 715.0L2669.9 734.6L2675.6 722.7L2681.3 731.9L2698.4 697.4L2704.1 695.5L2709.9 707.9L2715.6 704.7L2721.3 707.7L2738.4 711.6L2744.1 715.8L2749.8 724.4L2755.5 718.3L2761.2 733.9L2778.3 716.7L2784.0 735.9L2789.8 708.7L2795.5 716.1L2801.2 701.8"/>
<path stroke="#e377c2" d="M518.4 732.0L524.1 739.2L541.3 723.6L547.0 647.9L552.7 736.8L558.4 764.8L564.1 778.3L581.2 778.5L586.9 810.0L592.6 826.0L598.3 755.6L604.0 747.4L621.2 750.3L626.9 763.2L632.6 802.3L638.3 757.5L644.0 750.3L661.1 738.5L712.5 775.8L718.2 809.4L723.9 801.8L741.0 821.8L746.7 814.2L752.4 808.2L758.1 793.9L763.8 789.5L780.9 798.3L786.7 794.4L792.4 782.1L798.1 792.0L803.8 805.1L820.9 801.3L826.6 797.4L832.3 816.5L838.0 794.8L843.7 801.5L860.8 806.1L866.6 805.5L872.3 800.6L878.0 753.2L883.7 775.1L900.8 807.1L906.5 797.6L912.2 790.6L917.9 796.0L923.6 791.7L940.7 801.1L946.4 787.7L952.2 777.3L957.9 794.0L963.6 771.9L980.7 785.3L986.4 770.5L992.1 732.0L997.8 743.9L1003.5 745.9L1020.6 743.2L1026.3 754.6L1032.0 768.2L1037.8 768.5L1060.6 800.4L1066.3 814.9L1072.0 845.9L1077.7 854.8L1083.4 875.5L1100.5 809.5L1106.2 806.7L1111.9 797.6L1117.7 787.1L1123.4 799.5L1140.5 806.6L1146.2 845.9L1151.9 874.6L1157.6 902.8L1163.3 959.5L1180.4 894.6L1186.1 823.9L1191.8 793.1L1226.1 802.3L1231.8 767.9L1237.5 769.2L1243.2 767.9L1260.3 737.5L1266.0 741.9L1271.7 742.8L1277.4 748.8L1283.2 740.3L1300.3 731.4L1306.0 737.2L1311.7 757.3L1317.4 742.0L1323.1 746.8L1340.2 741.7L1345.9 752.8L1351.6 764.5L1357.3 744.3L1363.0 737.3L1385.9 783.2L1391.6 800.9L1397.3 769.8L1403.0 812.4L1420.1 816.1L1425.8 814.9L1431.5 817.3L1437.2 835.0L1442.9 816.8L1460.1 824.0L1465.8 821.7L1471.5 800.0L1477.2 817.1L1482.9 835.1L1500.0 805.5L1505.7 797.8L1511.4 794.6L1517.1 794.8L1522.8 785.9L1540.0 823.0L1545.7 804.3L1551.4 792.4L1557.1 814.5L1562.8 797.3L1579.9 802.2L1585.6 821.3L1591.3 804.6L1597.0 806.6L1602.7 793.4L1619.9 766.1L1625.6 772.4L1631.3 761.9L1637.0 779.1L1642.7 783.5L1659.8 744.6L1665.5 759.8L1671.2 755.5L1676.9 806.5L1682.6 812.6L1699.7 818.4L1705.5 817.7L1711.2 843.5L1716.9 803.6L1722.6 805.5L1739.7 780.9L1745.4 798.3L1751.1 796.4L1756.8 785.1L1762.5 789.8L1779.6 807.0L1785.3 825.1L1791.1 871.7L1796.8 831.6L1802.5 813.4L1819.6 835.7L1825.3 798.9L1831.0 806.3L1836.7 824.3L1842.4 816.0L1859.5 799.8L1865.2 777.3L1871.0 814.8L1876.7 808.6L1882.4 791.4L1899.5 783.7L1905.2 765.0L1910.9 775.1L1916.6 776.1L1922.3 760.7L1939.4 759.2L1945.1 822.8L1950.8 835.8L1956.6 810.7L1962.3 843.0L1979.4 857.2L1985.1 839.4L1990.8 840.8L1996.5 843.9L2002.2 880.1L2019.3 839.6L2025.0 812.3L2030.7 866.1L2036.4 846.5L2042.2 850.9L2059.3 830.2L2065.0 853.3L2116.3 853.6L2122.1 841.6L2139.2 843.8L2144.9 867.3L2150.6 883.9L2156.3 849.7L2162.0 857.8L2179.1 812.0L2184.8 819.0L2190.5 834.7L2196.2 831.1L2201.9 842.4L2219.1 853.8L2224.8 849.9L2230.5 863.9L2236.2 843.4L2241.9 827.4L2259.0 828.2L2264.7 848.8L2270.4 850.5L2276.1 878.1L2281.8 852.3L2299.0 856.1L2304.7 829.0L2310.4 830.4L2316.1 807.6L2321.8 799.6L2338.9 823.0L2344.6 844.8L2350.3 841.3L2356.0 708.6L2361.7 782.6L2378.9 758.9L2384.6 744.8L2390.3 746.7L2396.0 813.4L2401.7 809.5L2418.8 821.6L2424.5 789.5L2430.2 801.0L2435.9 810.6L2441.6 809.7L2458.8 802.4L2464.5 802.2L2470.2 815.5L2475.9 798.9L2481.6 830.8L2498.7 755.0L2504.4 778.7L2510.1 775.2L2515.8 771.2L2521.5 794.3L2538.7 787.3L2544.4 817.8L2550.1 797.8L2555.8 778.2L2561.5 790.6L2578.6 779.4L2584.3 780.7L2590.0 831.3L2618.5 850.9L2624.3 854.1L2630.0 843.7L2635.7 873.5L2641.4 888.3L2658.5 946.1L2664.2 941.9L2669.9 950.5L2675.6 928.5L2681.3 914.3L2698.4 899.9L2704.1 902.5L2709.9 904.1L2715.6 875.9L2721.3 843.0L2738.4 864.1L2744.1 853.7L2749.8 855.2L2755.5 815.8L2761.2 815.0L2778.3 821.7L2784.0 811.1L2789.8 807.5L2795.5 829.7L2801.2 787.4"/>
<path stroke="#7f7f7f" d="M518.4 838.2L524.1 846.7L541.3 747.2L547.0 789.3L552.7 777.3L558.4 738.9L564.1 771.6L581.2 746.0L586.9 760.8L592.6 722.0L598.3 751.4L604.0 745.9L621.2 712.3L626.9 712.4L632.6 724.4L638.3 703.0L644.0 707.3L661.1 698.0L712.5 731.6L718.2 694.2L723.9 645.3L741.0 659.5L746.7 647.9L752.4 660.0L758.1 647.7L763.8 662.2L780.9 692.2L786.7 651.3L792.4 664.1L798.1 642.3L803.8 648.6L820.9 666.3L826.6 628.2L832.3 658.1L838.0 670.1L843.7 650.2L860.8 696.8L866.6 675.8L872.3 681.7L878.0 703.4L883.7 673.0L900.8 671.0L906.5 608.8L912.2 606.0L917.9 680.7L923.6 641.4L940.7 616.3L946.4 633.6L952.2 639.1L957.9 651.4L963.6 648.6L980.7 656.7L986.4 679.7L992.1 629.3L997.8 610.1L1003.5 581.7L1020.6 612.5L1026.3 659.2L1032.0 683.3L1037.8 682.0L1060.6 699.8L1066.3 692.1L1072.0 683.7L1077.7 712.5L1083.4 701.9L1100.5 666.7L1106.2 697.0L1111.9 710.4L1117.7 715.8L1123.4 687.8L1140.5 700.6L1146.2 708.5L1151.9 723.9L1157.6 725.2L1163.3 743.7L1180.4 759.4L1186.1 749.7L1191.8 740.8L1226.1 705.5L1231.8 732.3L1237.5 715.4L1243.2 712.6L1260.3 711.8L1266.0 706.2L1271.7 730.7L1277.4 668.4L1283.2 699.2L1300.3 698.5L1306.0 682.8L1311.7 685.0L1317.4 685.9L1323.1 692.8L1340.2 687.9L1345.9 693.9L1351.6 680.6L1357.3 703.1L1363.0 719.7L1385.9 702.1L1391.6 691.9L1397.3 696.2L1403.0 703.1L1420.1 737.8L1425.8 707.5L1431.5 694.5L1437.2 711.3L1442.9 720.7L1460.1 742.5L1465.8 736.4L1471.5 745.5L1477.2 727.1L1482.9 706.9L1500.0 710.8L1505.7 726.3L1511.4 737.2L1517.1 720.7L1522.8 746.5L1540.0 697.0L1545.7 717.3L1551.4 718.7L1557.1 704.6L1562.8 730.5L1579.9 728.2L1585.6 748.8L1591.3 760.7L1597.0 724.1L1602.7 699.0L1619.9 712.8L1625.6 702.4L1631.3 710.6L1637.0 706.8L1642.7 705.7L1659.8 702.9L1665.5 703.7L1671.2 679.1L1676.9 695.3L1682.6 701.8L1699.7 695.0L1705.5 699.9L1711.2 692.7L1716.9 683.3L1722.6 695.7L1739.7 694.6L1745.4 693.4L1751.1 688.1L1756.8 736.6L1762.5 726.8L1779.6 745.3L1785.3 701.6L1791.1 697.3L1796.8 711.3L1802.5 735.5L1819.6 757.8L1825.3 747.9L1831.0 768.0L1836.7 742.6L1842.4 746.3L1859.5 766.9L1865.2 776.4L1871.0 750.9L1876.7 773.9L1882.4 760.8L1899.5 740.0L1905.2 763.9L1910.9 735.8L1916.6 764.6L1922.3 772.4L1939.4 755.4L1945.1 731.0L1950.8 782.0L1956.6 775.1L1962.3 761.0L1979.4 777.0L1985.1 775.4L1990.8 796.6L1996.5 792.6L2002.2 825.2L2019.3 790.3L2025.0 770.0L2030.7 783.1L2036.4 780.4L2042.2 774.1L2059.3 781.9L2065.0 805.6L2116.3 773.2L2122.1 815.7L2139.2 798.8L2144.9 814.8L2150.6 813.5L2156.3 789.4L2162.0 812.8L2179.1 836.8L2184.8 812.8L2190.5 758.6L2196.2 802.9L2201.9 808.1L2219.1 820.1L2224.8 823.9L2230.5 802.8L2236.2 822.8L2241.9 802.5L2259.0 805.2L2264.7 782.6L2270.4 810.5L2276.1 837.1L2281.8 814.4L2299.0 764.0L2304.7 799.4L2310.4 813.9L2316.1 776.1L2321.8 817.5L2338.9 833.0L2344.6 761.0L2350.3 766.3L2356.0 780.1L2361.7 786.0L2378.9 808.3L2384.6 811.9L2390.3 793.9L2396.0 786.7L2401.7 800.8L2418.8 799.8L2424.5 806.6L2430.2 811.9L2435.9 787.0L2441.6 808.6L2458.8 789.1L2464.5 804.0L2470.2 808.6L2475.9 817.7L2481.6 817.8L2498.7 795.5L2504.4 793.2L2510.1 811.2L2515.8 786.6L2521.5 800.9L2538.7 798.8L2544.4 799.9L2550.1 814.1L2555.8 788.8L2561.5 818.2L2578.6 813.8L2584.3 843.4L2590.0 842.2L2618.5 823.8L2624.3 832.5L2630.0 839.1L2635.7 840.0L2641.4 848.1L2658.5 855.1L2664.2 857.9L2669.9 855.8L2675.6 848.4L2681.3 854.3L2698.4 880.4L2704.1 883.1L2709.9 876.8L2715.6 891.1L2721.3 890.1L2738.4 879.7L2744.1 851.0L2749.8 859.1L2755.5 838.5L2761.2 822.4L2778.3 794.7L2784.0 749.3L2789.8 795.1L2795.5 802.2L2801.2 798.6"/>
<path stroke="#bcbd22" d="M518.4 586.3L524.1 584.6L541.3 579.1L547.0 583.0L552.7 582.3L558.4 575.0L564.1 593.9L581.2 587.9L586.9 595.3L592.6 599.3L598.3 596.7L604.0 602.7L621.2 602.4L626.9 588.4L632.6 614.4L638.3 585.8L644.0 599.3L661.1 608.2L712.5 604.1L718.2 622.0L723.9 610.5L741.0 627.2L746.7 631.6L752.4 650.2L758.1 641.2L763.8 637.6L780.9 628.9L786.7 617.5L792.4 636.0L798.1 603.1L803.8 640.7L820.9 625.8L826.6 623.7L832.3 611.4L838.0 626.0L843.7 629.7L860.8 629.1L866.6 629.1L872.3 620.0L878.0 640.1L883.7 632.7L900.8 613.1L906.5 614.5L912.2 601.8L917.9 587.0L923.6 617.8L940.7 623.8L946.4 626.3L952.2 615.2L957.9 604.7L963.6 595.9L980.7 596.6L986.4 592.5L992.1 616.5L997.8 611.4L1003.5 593.3L1020.6 603.0L1026.3 616.4L1032.0 599.0L1037.8 602.9L1060.6 597.0L1066.3 619.8L1072.0 618.9L1077.7 642.3L1083.4 627.9L1100.5 630.2L1106.2 639.5L1111.9 637.6L1117.7 662.2L1123.4 660.4L1140.5 641.2L1146.2 636.2L1151.9 621.3L1157.6 621.4L1163.3 603.0L1180.4 615.8L1186.1 602.8L1191.8 603.3L1226.1 633.4L1231.8 622.7L1237.5 638.1L1243.2 629.5L1260.3 629.5L1266.0 625.5L1271.7 646.5L1277.4 631.9L1283.2 632.9L1300.3 630.8L1306.0 652.7L1311.7 663.2L1317.4 656.4L1323.1 687.2L1340.2 661.4L1345.9 670.5L1351.6 634.2L1357.3 635.9L1363.0 636.3L1385.9 642.7L1391.6 643.4L1397.3 663.3L1403.0 662.0L1420.1 653.6L1425.8 636.7L1431.5 643.1L1437.2 624.3L1442.9 629.5L1460.1 608.6L1465.8 595.7L1471.5 629.6L1477.2 621.8L1482.9 614.8L1500.0 621.2L1505.7 653.4L1511.4 632.2L1517.1 647.9L1522.8 646.5L1540.0 647.0L1545.7 648.0L1551.4 628.2L1557.1 644.4L1562.8 635.7L1579.9 641.4L1585.6 638.9L1591.3 660.5L1597.0 644.6L1602.7 622.7L1619.9 635.6L1625.6 631.7L1631.3 635.4L1637.0 647.4L1642.7 623.9L1659.8 644.5L1665.5 655.6L1671.2 672.3L1676.9 672.1L1682.6 673.9L1699.7 663.3L1705.5 655.0L1711.2 694.6L1716.9 705.7L1722.6 696.8L1739.7 691.1L1745.4 681.3L1751.1 681.9L1756.8 661.6L1762.5 658.5L1779.6 653.3L1785.3 674.5L1791.1 679.9L1796.8 670.0L1802.5 660.8L1819.6 685.6L1825.3 696.8L1831.0 683.2L1836.7 640.0L1842.4 654.1L1859.5 652.5L1865.2 672.1L1871.0 681.6L1876.7 670.7L1882.4 655.9L1899.5 649.5L1905.2 636.5L1910.9 621.9L1916.6 654.7L1922.3 662.4L1939.4 659.6L1945.1 666.7L1950.8 654.1L1956.6 646.2L1962.3 643.0L1979.4 652.3L1985.1 667.9L1990.8 640.8L1996.5 654.7L2002.2 646.2L2019.3 638.4L2025.0 632.9L2030.7 634.1L2036.4 661.6L2042.2 631.3L2059.3 636.2L2065.0 646.6L2116.3 663.8L2122.1 656.3L2139.2 637.5L2144.9 645.8L2150.6 643.3L2156.3 649.5L2162.0 635.7L2179.1 629.1L2184.8 632.3L2190.5 657.2L2196.2 672.9L2201.9 656.6L2219.1 651.2L2224.8 649.4L2230.5 627.3L2236.2 654.1L2241.9 641.9L2259.0 605.9L2264.7 598.3L2270.4 586.3L2276.1 580.6L2281.8 593.1L2299.0 574.5L2304.7 561.2L2310.4 576.2L2316.1 566.7L2321.8 565.7L2338.9 568.4L2344.6 587.3L2350.3 582.6L2356.0 591.9L2361.7 576.2L2378.9 589.2L2384.6 599.3L2390.3 591.4L2396.0 580.8L2401.7 590.5L2418.8 592.8L2424.5 576.9L2430.2 581.5L2435.9 579.6L2441.6 597.4L2458.8 601.2L2464.5 583.4L2470.2 558.2L2475.9 552.7L2481.6 553.1L2498.7 537.3L2504.4 538.1L2510.1 537.5L2515.8 536.5L2521.5 556.4L2538.7 551.4L2544.4 568.1L2550.1 571.8L2555.8 572.6L2561.5 572.0L2578.6 569.2L2584.3 566.6L2590.0 566.3L2618.5 585.4L2624.3 594.6L2630.0 572.5L2635.7 554.7L2641.4 544.3L2658.5 548.0L2664.2 534.4L2669.9 551.4L2675.6 566.3L2681.3 558.2L2698.4 553.4L2704.1 544.2L2709.9 566.2L2715.6 558.1L2721.3 568.7L2738.4 545.4L2744.1 545.1L2749.8 542.9L2755.5 531.5L2761.2 537.9L2778.3 565.1L2784.0 579.9L2789.8 549.1L2795.5 574.6L2801.2 594.8"/>
<path stroke="#17becf" d="M518.4 618.2L524.1 588.8L541.3 599.9L547.0 601.4L552.7 584.2L558.4 629.9L564.1 601.7L581.2 618.2L586.9 662.7L592.6 686.3L598.3 651.7L604.0 666.4L621.2 676.0L626.9 656.4L632.6 658.9L638.3 692.9L644.0 660.6L661.1 659.8L712.5 660.6L718.2 661.3L723.9 690.8L741.0 676.2L746.7 677.0L752.4 680.5L758.1 687.8L763.8 691.5L780.9 679.6L786.7 680.9L792.4 696.8L798.1 681.7L803.8 705.0L820.9 707.6L826.6 677.8L832.3 693.9L838.0 699.3L843.7 704.7L860.8 696.1L866.6 689.3L872.3 720.1L878.0 687.0L883.7 682.9L900.8 653.8L906.5 669.5L912.2 688.3L917.9 694.5L923.6 676.5L940.7 655.7L946.4 678.7L952.2 653.5L957.9 646.2L963.6 661.0L980.7 663.4L986.4 668.5L992.1 669.4L997.8 688.3L1003.5 678.2L1020.6 679.7L1026.3 701.3L1032.0 687.4L1037.8 698.9L1060.6 689.2L1066.3 675.4L1072.0 693.7L1077.7 697.3L1083.4 669.5L1100.5 653.6L1106.2 677.4L1111.9 675.8L1117.7 693.9L1123.4 718.3L1140.5 677.8L1146.2 674.9L1151.9 682.6L1157.6 694.6L1163.3 663.5L1180.4 685.4L1186.1 686.5L1191.8 690.6L1226.1 679.1L1231.8 696.6L1237.5 692.1L1243.2 670.5L1260.3 676.5L1266.0 670.9L1271.7 698.4L1277.4 673.5L1283.2 694.6L1300.3 679.2L1306.0 716.9L1311.7 728.9L1317.4 679.7L1323.1 667.9L1340.2 692.7L1345.9 706.1L1351.6 691.0L1357.3 688.8L1363.0 724.7L1385.9 704.0L1391.6 705.7L1397.3 685.3L1403.0 703.7L1420.1 733.4L1425.8 714.2L1431.5 700.7L1437.2 689.0L1442.9 719.4L1460.1 681.1L1465.8 702.3L1471.5 692.4L1477.2 715.8L1482.9 718.4L1500.0 731.2L1505.7 705.7L1511.4 687.1L1517.1 723.0L1522.8 723.8L1540.0 705.7L1545.7 694.9L1551.4 731.0L1557.1 716.6L1562.8 731.1L1579.9 716.7L1585.6 733.4L1591.3 726.1L1597.0 723.2L1602.7 743.7L1619.9 734.7L1625.6 718.4L1631.3 709.6L1637.0 703.5L1642.7 715.1L1659.8 682.2L1665.5 710.7L1671.2 712.4L1676.9 705.1L1682.6 730.6L1699.7 718.5L1705.5 676.9L1711.2 686.3L1716.9 694.2L1722.6 686.2L1739.7 673.7L1745.4 652.2L1751.1 664.1L1756.8 678.7L1762.5 642.1L1779.6 649.2L1785.3 646.7L1791.1 634.2L1796.8 632.8L1802.5 631.1L1819.6 618.7L1825.3 638.5L1831.0 655.4L1836.7 638.3L1842.4 658.7L1859.5 613.5L1865.2 618.2L1871.0 617.0L1876.7 606.1L1882.4 595.4L1899.5 590.9L1905.2 614.5L1910.9 644.8L1916.6 628.2L1922.3 632.0L1939.4 635.6L1945.1 605.5L1950.8 616.0L1956.6 652.7L1962.3 688.2L1979.4 655.5L1985.1 658.9L1990.8 648.9L1996.5 634.3L2002.2 627.8L2019.3 617.2L2025.0 624.8L2030.7 628.1L2036.4 593.0L2042.2 602.4L2059.3 617.7L2065.0 607.6L2116.3 620.4L2122.1 627.0L2139.2 616.6L2144.9 602.6L2150.6 604.3L2156.3 578.6L2162.0 579.9L2179.1 598.5L2184.8 574.2L2190.5 564.9L2196.2 583.9L2201.9 560.7L2219.1 598.6L2224.8 621.0L2230.5 612.0L2236.2 609.0L2241.9 620.0L2259.0 620.1L2264.7 621.1L2270.4 667.1L2276.1 679.6L2281.8 670.2L2299.0 660.4L2304.7 636.6L2310.4 675.0L2316.1 689.5L2321.8 691.3L2338.9 687.9L2344.6 692.8L2350.3 673.4L2356.0 688.3L2361.7 681.7L2378.9 664.9L2384.6 713.3L2390.3 667.1L2396.0 724.5L2401.7 706.2L2418.8 700.4L2424.5 657.1L2430.2 689.3L2435.9 655.9L2441.6 692.8L2458.8 709.8L2464.5 678.2L2470.2 671.3L2475.9 665.8L2481.6 676.8L2498.7 676.6L2504.4 688.5L2510.1 663.8L2515.8 669.8L2521.5 677.9L2538.7 650.9L2544.4 645.0L2550.1 634.6L2555.8 664.3L2561.5 640.7L2578.6 604.7L2584.3 613.0L2590.0 620.8L2618.5 608.2L2624.3 646.8L2630.0 633.1L2635.7 652.9L2641.4 609.3L2658.5 636.9L2664.2 662.9L2669.9 696.1L2675.6 675.2L2681.3 655.2L2698.4 638.0L2704.1 619.1L2709.9 637.9L2715.6 654.5L2721.3 627.3L2738.4 684.2L2744.1 627.4L2749.8 658.1L2755.5 653.0L2761.2 616.8L2778.3 589.7L2784.0 622.6L2789.8 604.1L2795.5 640.8L2801.2 629.9"/>
<path stroke="#1f77b4" d="M518.4 758.3L524.1 760.1L541.3 720.3L547.0 658.3L552.7 682.3L558.4 730.2L564.1 704.6L581.2 704.8L586.9 678.0L592.6 696.8L598.3 665.2L604.0 724.1L621.2 721.0L626.9 712.5L632.6 711.7L638.3 768.8L644.0 752.8L661.1 749.3L712.5 763.6L718.2 740.0L723.9 686.7L741.0 705.3L746.7 713.8L752.4 720.2L758.1 717.1L763.8 745.3L780.9 714.2L786.7 733.8L792.4 748.5L798.1 737.3L803.8 751.0L820.9 721.1L826.6 736.6L832.3 732.9L838.0 730.1L843.7 757.8L860.8 757.9L866.6 769.0L872.3 773.2L878.0 760.4L883.7 751.7L900.8 761.2L906.5 752.1L912.2 766.2L917.9 795.3L923.6 785.4L940.7 793.7L946.4 768.5L952.2 791.2L957.9 743.3L963.6 754.2L980.7 779.1L986.4 757.9L992.1 754.2L997.8 733.1L1003.5 750.3L1020.6 730.6L1026.3 759.3L1032.0 768.3L1037.8 768.7L1060.6 785.5L1066.3 737.3L1072.0 731.3L1077.7 734.8L1083.4 744.7L1100.5 765.9L1106.2 742.7L1111.9 713.0L1117.7 728.1L1123.4 728.3L1140.5 736.1L1146.2 757.9L1151.9 727.4L1157.6 712.5L1163.3 705.5L1180.4 693.7L1186.1 711.4L1191.8 680.6L1226.1 717.7L1231.8 748.4L1237.5 786.5L1243.2 760.1L1260.3 751.1L1266.0 731.1L1271.7 718.3L1277.4 734.7L1283.2 724.6L1300.3 689.1L1306.0 691.6L1311.7 739.2L1317.4 721.8L1323.1 697.8L1340.2 702.2L1345.9 710.5L1351.6 713.8L1357.3 722.6L1363.0 712.1L1385.9 722.3L1391.6 723.3L1397.3 696.4L1403.0 705.9L1420.1 697.5L1425.8 690.3L1431.5 687.6L1437.2 672.3L1442.9 685.1L1460.1 680.1L1465.8 708.9L1471.5 729.0L1477.2 702.8L1482.9 701.3L1500.0 705.0L1505.7 688.5L1511.4 689.8L1517.1 692.1L1522.8 698.7L1540.0 676.8L1545.7 692.1L1551.4 704.5L1557.1 745.4L1562.8 704.0L1579.9 711.5L1585.6 707.5L1591.3 701.5L1597.0 712.3L1602.7 735.6L1619.9 721.1L1625.6 713.3L1631.3 712.6L1637.0 701.6L1642.7 706.4L1659.8 705.8L1665.5 719.0L1671.2 708.3L1676.9 709.9L1682.6 689.1L1699.7 692.0L1705.5 693.4L1711.2 684.8L1716.9 683.2L1722.6 682.4L1739.7 677.4L1745.4 663.1L1751.1 720.2L1756.8 685.4L1762.5 682.5L1779.6 715.6L1785.3 683.6L1791.1 693.1L1796.8 691.5L1802.5 673.2L1819.6 674.1L1825.3 696.0L1831.0 681.3L1836.7 701.5L1842.4 701.7L1859.5 664.1L1865.2 692.5L1871.0 707.6L1876.7 704.5L1882.4 721.2L1899.5 725.6L1905.2 718.0L1910.9 727.5L1916.6 738.2L1922.3 683.3L1939.4 683.2L1945.1 694.8L1950.8 743.7L1956.6 740.8L1962.3 732.6L1979.4 729.6L1985.1 720.7L1990.8 698.1L1996.5 751.4L2002.2 731.6L2019.3 751.8L2025.0 730.9L2030.7 697.3L2036.4 696.8L2042.2 706.9L2059.3 711.1L2065.0 733.3L2116.3 757.8L2122.1 720.6L2139.2 744.2L2144.9 731.1L2150.6 695.3L2156.3 727.9L2162.0 703.1L2179.1 733.4L2184.8 720.3L2190.5 727.9L2196.2 703.2L2201.9 773.4L2219.1 768.8L2224.8 746.5L2230.5 701.8L2236.2 739.4L2241.9 750.6L2259.0 741.7L2264.7 757.0L2270.4 744.7L2276.1 738.5L2281.8 750.7L2299.0 715.7L2304.7 703.4L2310.4 715.9L2316.1 708.1L2321.8 707.9L2338.9 669.0L2344.6 733.1L2350.3 699.0L2356.0 695.3L2361.7 715.7L2378.9 737.0L2384.6 712.3L2390.3 750.2L2396.0 734.5L2401.7 698.7L2418.8 727.9L2424.5 732.1L2430.2 751.3L2435.9 724.6L2441.6 752.3L2458.8 737.2L2464.5 710.1L2470.2 684.7L2475.9 702.9L2481.6 723.0L2498.7 725.0L2504.4 732.8L2510.1 737.3L2515.8 674.9L2521.5 719.8L2538.7 713.2L2544.4 719.2L2550.1 732.3L2555.8 719.7L2561.5 752.3L2578.6 750.8L2584.3 773.8L2590.0 792.4L2618.5 789.2L2624.3 773.4L2630.0 758.2L2635.7 765.0L2641.4 764.8L2658.5 798.3L2664.2 791.9L2669.9 783.3L2675.6 798.8L2681.3 773.5L2698.4 763.5L2704.1 755.6L2709.9 744.3L2715.6 764.6L2721.3 792.1L2738.4 772.2L2744.1 718.6L2749.8 728.3L2755.5 719.5L2761.2 716.0L2778.3 696.0L2784.0 724.3L2789.8 740.1L2795.5 725.4L2801.2 686.7"/>
<path stroke="#ff7f0e" d="M519.0 968.4L529.3 976.8L547.5 1027.1L550.3 1127.7L564.3 1278.6L581.1 1219.9L588.0 1159.8L592.2 1180.8L599.2 1183.6L603.4 1192.0L622.1 1129.6L627.2 1180.8L631.4 1242.3L639.7 1306.6L644.8 1190.6L662.1 1253.5L678.9 1212.9L713.2 1129.1L718.8 1033.2L724.4 1097.5L741.8 1080.2L747.3 1036.9L752.9 1010.3L758.5 1179.4L764.1 1122.1L781.4 1112.9L787.3 1089.1L792.9 1020.9L798.5 1106.7L804.6 1141.1L821.4 1157.9L827.0 1167.4L832.6 1141.7L838.7 1146.7L844.6 1091.4L850.2 1052.2L861.9 990.7L866.7 932.9L872.3 1088.6L884.3 1148.7L901.6 1110.4L907.2 1166.8L912.8 1131.9L918.7 1144.5L924.3 1093.6L941.6 1122.1L947.2 1186.4L952.8 1233.9L958.4 1232.5L963.9 1267.4L981.3 1279.5L986.9 1323.3L992.5 1252.9L998.3 1256.3L1021.2 1214.3L1026.8 1323.3L1032.4 1266.9L1038.3 1268.8L1061.2 1253.5L1066.8 1167.4L1072.9 1161.8L1078.5 1064.8L1084.1 1069.0L1107.0 1250.7L1112.6 1273.9L1118.5 1236.7L1124.1 1224.1L1141.4 1178.0L1147.0 1149.5L1152.6 1155.6L1158.2 1226.3L1163.8 1143.1L1181.1 1252.1L1186.7 1243.7L1192.6 1205.9L1220.0 1198.4L1226.6 1197.6L1232.1 1280.0L1237.7 1281.4L1243.9 1250.7L1260.9 1292.0L1266.5 1326.1L1272.1 1291.2L1278.3 1296.8L1283.8 1220.8L1300.6 1225.0L1306.2 1207.9L1312.4 1203.7L1317.9 1238.1L1323.8 1255.7L1340.6 1181.4L1346.2 1249.8L1352.3 1259.6L1357.9 1267.4L1363.5 1284.2L1386.4 1287.0L1392.3 1296.8L1397.9 1250.7L1403.5 1272.2L1420.8 1272.5L1426.4 1301.5L1437.6 1261.3L1443.7 1251.5L1460.8 1259.0L1466.3 1210.7L1472.5 1267.4L1478.1 1328.9L1500.4 1240.3L1506.6 1226.9L1512.2 1186.9L1517.8 1235.3L1523.4 1203.2L1540.4 1171.0L1546.0 1066.2L1552.2 1079.6L1557.7 1035.5L1563.3 1012.5L1580.1 1019.3L1585.7 987.9L1591.8 1027.1L1597.4 1048.0L1603.3 1080.2L1620.1 1117.4L1625.7 1113.2L1631.8 1116.0L1637.4 1038.8L1643.0 1074.6L1660.3 1075.1L1665.9 1118.7L1671.8 1083.0L1677.4 1126.3L1683.0 1143.1L1700.3 1145.0L1705.9 1165.4L1712.0 1162.3L1717.6 1157.0L1723.2 1103.9L1740.2 1071.8L1745.8 1078.8L1751.4 1043.0L1757.6 1116.5L1785.5 957.2L1797.3 1052.2L1802.9 1010.9L1819.9 1000.0L1825.5 1035.5L1831.6 1071.8L1837.2 1124.1L1842.8 1083.0L1860.1 1172.4L1871.6 1139.4L1877.2 1219.9L1882.8 1354.4L1900.1 1326.5L1906.0 1385.2L1911.6 1313.9L1917.2 1263.6L1922.8 1137.3L1940.1 1106.5L1945.7 1119.7L1951.8 1104.8L1957.4 1132.2L1980.1 1291.0L1985.6 1201.3L1991.2 1258.0L1997.4 1288.7L2003.0 1295.7L2019.7 1255.2L2025.3 1218.9L2031.5 1197.1L2037.1 1307.5L2042.9 1305.5L2059.7 1274.2L2065.9 1259.4L2117.0 1272.5L2122.6 1322.3L2139.9 1209.1L2145.5 1180.6L2151.1 1183.1L2156.7 1253.2L2162.8 1216.6L2179.9 1201.3L2185.5 1186.2L2196.7 1340.4L2202.8 1328.4L2219.6 1241.2L2225.7 1299.9L2231.3 1182.0L2237.2 1165.8L2242.8 1024.5L2248.4 985.3L2260.1 912.1L2265.7 919.1L2271.3 886.1L2276.9 889.5L2283.0 942.9L2299.8 964.9L2305.4 951.8L2311.2 995.1L2316.8 997.4L2322.4 937.3L2339.7 943.4L2345.3 996.5L2350.9 1023.1L2356.5 1039.8L2362.7 1045.4L2379.7 997.9L2385.3 951.8L2390.9 907.6L2397.0 936.4L2402.6 893.1L2420.0 914.9L2425.5 974.7L2431.1 1032.0L2442.3 970.0L2459.4 904.3L2465.0 971.4L2476.7 1082.6L2482.3 1053.2L2499.6 1095.7L2505.2 1116.1L2511.1 1124.5L2516.7 1211.0L2522.8 1169.1L2539.6 1081.1L2545.2 1135.0L2550.8 1099.3L2556.4 1247.4L2561.9 1267.8L2579.6 1260.8L2585.7 1260.2L2590.7 1203.3L2619.2 990.1L2624.8 1007.7L2630.4 1029.5L2636.0 1032.3L2641.6 975.6L2659.2 954.0L2664.8 1034.2L2670.9 900.1L2676.5 933.6L2682.1 1028.7L2699.4 1132.1L2705.0 1099.9L2710.6 932.2L2716.2 993.2L2721.8 942.9L2739.4 1044.0L2745.0 1015.5L2750.6 1088.7L2756.2 1118.1L2761.8 994.6L2779.1 971.4L2784.7 904.8L2790.6 951.8L2796.1 887.5L2802.3 897.9"/>
<path stroke="#2ca02c" d="M518.4 746.9L524.1 736.8L541.3 736.8L547.0 729.3L552.7 732.8L558.4 733.1L564.1 734.4L581.2 734.2L586.9 724.4L592.6 717.3L598.3 710.9L604.0 718.1L621.2 719.9L626.9 713.5L632.6 708.0L638.3 716.8L644.0 710.4L661.1 708.8L712.5 710.2L718.2 703.1L723.9 700.0L741.0 703.9L746.7 704.7L752.4 702.3L758.1 703.5L763.8 706.0L780.9 705.5L786.7 705.8L792.4 703.3L798.1 701.5L803.8 701.1L820.9 701.8L826.6 703.1L832.3 701.5L838.0 703.2L843.7 703.2L860.8 704.0L866.6 702.7L872.3 700.5L878.0 703.3L883.7 703.1L900.8 698.8L906.5 701.9L912.2 698.7L917.9 700.2L923.6 694.9L940.7 696.7L946.4 702.1L952.2 707.9L957.9 706.9L963.6 704.0L980.7 701.7L986.4 702.3L992.1 703.8L997.8 701.1L1003.5 696.9L1020.6 700.0L1026.3 701.6L1032.0 702.6L1037.8 701.3L1060.6 700.3L1066.3 699.9L1072.0 696.5L1077.7 696.1L1083.4 700.7L1100.5 701.8L1106.2 706.7L1111.9 704.8L1117.7 706.0L1123.4 702.5L1140.5 702.9L1146.2 701.7L1151.9 700.4L1157.6 702.0L1163.3 700.5L1180.4 704.5L1186.1 701.3L1191.8 701.3L1226.1 701.2L1231.8 702.3L1237.5 700.4L1243.2 703.4L1260.3 701.4L1266.0 702.9L1271.7 700.1L1277.4 698.2L1283.2 700.4L1300.3 701.2L1306.0 703.7L1311.7 703.7L1317.4 705.7L1323.1 707.9L1340.2 709.1L1345.9 705.1L1351.6 703.1L1357.3 703.9L1363.0 706.0L1385.9 702.4L1391.6 702.0L1397.3 703.2L1403.0 699.3L1420.1 701.9L1425.8 700.2L1431.5 700.6L1437.2 700.4L1442.9 705.2L1460.1 705.8L1465.8 704.8L1471.5 701.3L1477.2 704.8L1482.9 702.9L1500.0 703.8L1505.7 703.8L1511.4 708.1L1517.1 709.6L1522.8 710.9L1540.0 706.1L1545.7 706.3L1551.4 704.3L1557.1 699.7L1562.8 697.7L1579.9 701.9L1585.6 701.8L1591.3 705.2L1597.0 703.7L1602.7 704.2L1619.9 704.1L1625.6 699.1L1631.3 701.8L1637.0 698.6L1642.7 700.5L1659.8 700.8L1665.5 698.2L1671.2 696.9L1676.9 703.5L1682.6 702.3L1699.7 699.9L1705.5 699.9L1711.2 697.4L1716.9 698.3L1722.6 699.7L1739.7 703.7L1745.4 700.6L1751.1 699.0L1756.8 699.5L1762.5 699.5L1779.6 699.1L1785.3 699.9L1791.1 702.2L1796.8 698.2L1802.5 695.7L1819.6 695.3L1825.3 698.3L1831.0 696.2L1836.7 695.7L1842.4 692.6L1859.5 692.3L1865.2 692.2L1871.0 692.2L1876.7 690.7L1882.4 696.7L1899.5 695.7L1905.2 694.9L1910.9 690.1L1916.6 693.0L1922.3 692.4L1939.4 697.5L1945.1 689.3L1950.8 693.7L1956.6 695.8L1962.3 692.8L1979.4 697.5L1985.1 689.4L1990.8 696.0L1996.5 692.9L2002.2 690.7L2019.3 691.7L2025.0 688.9L2030.7 691.7L2036.4 689.2L2042.2 691.9L2059.3 701.6L2065.0 699.8L2116.3 699.3L2122.1 700.7L2139.2 698.6L2144.9 698.6L2150.6 698.9L2156.3 698.5L2162.0 703.1L2179.1 705.2L2184.8 701.8L2190.5 701.4L2196.2 705.2L2201.9 700.0L2219.1 708.4L2224.8 706.0L2230.5 704.7L2236.2 704.2L2241.9 706.0L2259.0 711.5L2264.7 707.5L2270.4 708.1L2276.1 702.7L2281.8 705.0L2299.0 707.8L2304.7 707.2L2310.4 705.9L2316.1 707.9L2321.8 703.8L2338.9 709.2L2344.6 707.5L2350.3 705.9L2356.0 704.5L2361.7 700.9L2378.9 698.6L2384.6 697.6L2390.3 694.1L2396.0 693.3L2401.7 693.9L2418.8 693.2L2424.5 700.6L2430.2 704.0L2435.9 705.2L2441.6 704.6L2458.8 708.1L2464.5 700.4L2470.2 697.8L2475.9 696.4L2481.6 700.0L2498.7 697.4L2504.4 699.4L2510.1 699.1L2515.8 703.0L2521.5 704.7L2538.7 706.2L2544.4 706.2L2550.1 711.5L2555.8 709.7L2561.5 704.1L2578.6 707.7L2584.3 706.0L2590.0 704.0L2618.5 710.7L2624.3 707.4L2630.0 706.3L2635.7 706.0L2641.4 708.0L2658.5 712.6L2664.2 712.4L2669.9 710.7L2675.6 706.8L2681.3 708.4L2698.4 708.6L2704.1 711.8L2709.9 714.1L2715.6 712.8L2721.3 715.6L2738.4 716.2L2744.1 712.0L2749.8 713.5L2755.5 712.7L2761.2 710.8L2778.3 711.9L2784.0 710.2L2789.8 708.6L2795.5 707.3L2801.2 707.5"/>
<path stroke="#d62728" d="M518.4 752.6L524.1 754.2L541.3 831.9L547.0 760.3L552.7 791.4L558.4 852.0L564.1 823.8L581.2 843.2L586.9 870.8L592.6 876.1L598.3 856.9L604.0 821.8L621.2 847.6L626.9 856.7L632.6 804.0L638.3 818.9L644.0 790.6L661.1 785.0L712.5 814.0L718.2 800.6L723.9 785.6L741.0 808.3L746.7 811.1L752.4 823.5L758.1 827.3L763.8 799.7L780.9 791.9L786.7 819.8L792.4 814.0L798.1 807.8L803.8 810.8L820.9 839.2L826.6 845.3L832.3 851.0L838.0 843.1L843.7 843.1L860.8 846.8L866.6 858.8L872.3 851.3L878.0 850.0L883.7 858.1L900.8 845.8L906.5 852.2L912.2 850.2L917.9 860.1L923.6 859.4L940.7 874.8L946.4 872.7L952.2 878.5L957.9 878.5L963.6 885.4L980.7 908.3L986.4 935.5L992.1 914.3L997.8 888.5L1003.5 860.2L1020.6 852.9L1026.3 853.9L1032.0 829.3L1037.8 841.5L1060.6 822.6L1066.3 817.4L1072.0 823.5L1077.7 805.7L1083.4 782.9L1100.5 775.2L1106.2 747.4L1111.9 751.4L1117.7 754.6L1123.4 772.4L1140.5 743.9L1146.2 738.1L1151.9 745.8L1157.6 734.0L1163.3 740.8L1180.4 743.4L1186.1 688.4L1191.8 679.7L1226.1 718.5L1231.8 721.3L1237.5 733.8L1243.2 755.6L1260.3 767.8L1266.0 714.9L1271.7 764.5L1277.4 742.8L1283.2 735.3L1300.3 752.3L1306.0 735.9L1311.7 741.7L1317.4 774.5L1323.1 747.1L1340.2 779.9L1345.9 760.5L1351.6 777.9L1357.3 780.4L1363.0 796.2L1385.9 751.5L1391.6 737.1L1397.3 740.6L1403.0 747.1L1420.1 727.8L1425.8 713.1L1431.5 746.3L1437.2 714.0L1442.9 699.8L1460.1 738.7L1465.8 725.2L1471.5 706.4L1477.2 688.7L1482.9 713.7L1500.0 733.5L1505.7 713.9L1511.4 714.0L1517.1 695.0L1522.8 729.1L1540.0 738.5L1545.7 712.2L1551.4 720.9L1557.1 706.5L1562.8 728.4L1579.9 719.1L1585.6 719.3L1591.3 727.9L1597.0 750.1L1602.7 707.9L1619.9 684.2L1625.6 701.0L1631.3 699.2L1637.0 734.0L1642.7 743.4L1659.8 741.5L1665.5 748.7L1671.2 778.6L1676.9 763.9L1682.6 739.9L1699.7 752.6L1705.5 766.7L1711.2 781.7L1716.9 783.3L1722.6 795.3L1739.7 815.5L1745.4 823.9L1751.1 782.8L1756.8 744.5L1762.5 772.6L1779.6 753.4L1785.3 771.4L1791.1 761.5L1796.8 752.5L1802.5 773.9L1819.6 765.6L1825.3 771.7L1831.0 792.7L1836.7 773.4L1842.4 773.7L1859.5 802.2L1865.2 817.1L1871.0 789.4L1876.7 755.0L1882.4 763.6L1899.5 772.9L1905.2 761.2L1910.9 767.3L1916.6 740.1L1922.3 743.7L1939.4 755.2L1945.1 749.5L1950.8 718.7L1956.6 718.5L1962.3 767.4L1979.4 709.8L1985.1 753.9L1990.8 743.2L1996.5 749.4L2002.2 770.1L2019.3 750.8L2025.0 743.7L2030.7 729.6L2036.4 719.9L2042.2 749.7L2059.3 746.1L2065.0 715.5L2116.3 748.4L2122.1 753.9L2139.2 743.5L2144.9 746.6L2150.6 764.1L2156.3 749.0L2162.0 765.4L2179.1 742.4L2184.8 760.3L2190.5 756.3L2196.2 749.9L2201.9 736.7L2219.1 730.5L2224.8 730.6L2230.5 756.3L2236.2 746.0L2241.9 732.3L2259.0 753.4L2264.7 776.1L2270.4 761.6L2276.1 746.7L2281.8 740.1L2299.0 758.4L2304.7 763.6L2310.4 779.3L2316.1 751.6L2321.8 756.1L2338.9 795.5L2344.6 818.7L2350.3 779.7L2356.0 774.6L2361.7 784.7L2378.9 776.4L2384.6 787.2L2390.3 768.8L2396.0 765.8L2401.7 728.1L2418.8 751.1L2424.5 751.0L2430.2 778.8L2435.9 757.5L2441.6 762.0L2458.8 756.0L2464.5 763.9L2470.2 785.5L2475.9 794.7L2481.6 785.0L2498.7 765.8L2504.4 818.4L2510.1 823.3L2515.8 817.1L2521.5 744.2L2538.7 740.0L2544.4 762.8L2550.1 733.1L2555.8 737.1L2561.5 728.9L2578.6 749.9L2584.3 748.6L2590.0 749.8L2618.5 772.4L2624.3 753.7L2630.0 751.5L2635.7 745.0L2641.4 743.4L2658.5 765.4L2664.2 769.7L2669.9 785.9L2675.6 777.7L2681.3 757.9L2698.4 787.9L2704.1 750.4L2709.9 773.0L2715.6 734.8L2721.3 738.5L2738.4 749.4L2744.1 745.6L2749.8 774.3L2755.5 746.0L2761.2 730.6L2778.3 747.8L2784.0 724.5L2789.8 738.9L2795.5 752.4L2801.2 730.6"/>
<path stroke="#9467bd" d="M518.4 613.9L524.1 620.9L541.3 614.0L547.0 659.9L552.7 660.1L558.4 667.2L564.1 640.9L581.2 635.3L586.9 664.8L592.6 692.4L598.3 694.1L604.0 702.5L621.2 661.6L626.9 681.3L632.6 692.6L638.3 672.9L644.0 644.9L661.1 638.0L712.5 628.6L718.2 627.6L723.9 630.8L741.0 638.9L746.7 635.5L752.4 642.5L758.1 635.6L763.8 642.4L780.9 639.2L786.7 638.2L792.4 660.1L798.1 648.2L803.8 661.6L820.9 667.5L826.6 659.4L832.3 661.9L838.0 680.2L843.7 684.8L860.8 663.8L866.6 642.1L872.3 639.6L878.0 652.5L883.7 661.5L900.8 654.3L906.5 635.9L912.2 622.6L917.9 624.1L923.6 625.8L940.7 621.4L946.4 613.5L952.2 617.1L957.9 614.8L963.6 603.1L980.7 600.5L986.4 581.9L992.1 582.6L997.8 585.9L1003.5 581.8L1020.6 586.2L1026.3 581.4L1032.0 587.4L1037.8 584.9L1060.6 584.7L1066.3 583.4L1072.0 590.3L1077.7 596.2L1083.4 580.2L1100.5 592.5L1106.2 584.6L1111.9 580.8L1117.7 577.4L1123.4 600.3L1140.5 601.1L1146.2 604.1L1151.9 601.5L1157.6 615.2L1163.3 608.2L1180.4 604.4L1186.1 638.8L1191.8 643.5L1226.1 648.6L1231.8 653.8L1237.5 643.5L1243.2 636.9L1260.3 632.2L1266.0 617.5L1271.7 639.0L1277.4 642.2L1283.2 653.5L1300.3 656.0L1306.0 644.0L1311.7 635.1L1317.4 647.9L1323.1 641.7L1340.2 602.4L1345.9 618.7L1351.6 624.8L1357.3 622.3L1363.0 624.2L1385.9 611.0L1391.6 663.1L1397.3 660.0L1403.0 645.6L1420.1 641.7L1425.8 667.7L1431.5 666.3L1437.2 650.7L1442.9 680.4L1460.1 667.8L1465.8 661.5L1471.5 655.1L1477.2 656.2L1482.9 649.4L1500.0 649.0L1505.7 672.4L1511.4 643.8L1517.1 639.2L1522.8 633.2L1540.0 653.7L1545.7 639.2L1551.4 632.3L1557.1 617.9L1562.8 634.7L1579.9 626.2L1585.6 625.6L1591.3 616.5L1597.0 616.6L1602.7 601.7L1619.9 598.0L1625.6 585.3L1631.3 584.1L1637.0 581.8L1642.7 570.9L1659.8 585.9L1665.5 570.7L1671.2 569.2L1676.9 568.4L1682.6 572.2L1699.7 587.4L1705.5 571.9L1711.2 583.6L1716.9 610.2L1722.6 616.8L1739.7 619.6L1745.4 635.3L1751.1 678.4L1756.8 671.1L1762.5 652.2L1779.6 651.5L1785.3 647.6L1791.1 662.4L1796.8 664.9L1802.5 659.0L1819.6 641.5L1825.3 627.5L1831.0 598.2L1836.7 597.9L1842.4 590.6L1859.5 596.3L1865.2 566.6L1871.0 594.0L1876.7 636.5L1882.4 608.6L1899.5 596.3L1905.2 607.6L1910.9 604.3L1916.6 599.9L1922.3 591.0L1939.4 567.7L1945.1 562.5L1950.8 569.0L1956.6 566.7L1962.3 574.4L1979.4 603.4L1985.1 573.6L1990.8 576.6L1996.5 585.6L2002.2 584.8L2019.3 596.1L2025.0 586.9L2030.7 568.4L2036.4 580.0L2042.2 587.4L2059.3 601.7L2065.0 613.5L2116.3 586.2L2122.1 617.9L2139.2 619.5L2144.9 584.1L2150.6 573.8L2156.3 564.3L2162.0 570.8L2179.1 584.4L2184.8 562.8L2190.5 574.5L2196.2 583.5L2201.9 576.7L2219.1 564.8L2224.8 607.7L2230.5 618.8L2236.2 621.1L2241.9 616.1L2259.0 637.1L2264.7 634.4L2270.4 602.0L2276.1 593.4L2281.8 561.9L2299.0 577.2L2304.7 584.1L2310.4 561.9L2316.1 560.2L2321.8 560.1L2338.9 554.2L2344.6 551.5L2350.3 551.3L2356.0 557.8L2361.7 571.5L2378.9 562.1L2384.6 566.8L2390.3 572.5L2396.0 592.0L2401.7 593.4L2418.8 590.9L2424.5 560.5L2430.2 584.1L2435.9 570.0L2441.6 560.4L2458.8 560.0L2464.5 587.6L2470.2 586.4L2475.9 609.9L2481.6 630.0L2498.7 584.3L2504.4 596.0L2510.1 607.2L2515.8 590.6L2521.5 572.1L2538.7 562.8L2544.4 584.6L2550.1 579.1L2555.8 578.8L2561.5 556.7L2578.6 557.8L2584.3 590.5L2590.0 557.2L2618.5 554.3L2624.3 561.6L2630.0 562.8L2635.7 565.6L2641.4 576.9L2658.5 591.4L2664.2 593.0L2669.9 574.2L2675.6 569.3L2681.3 553.5L2698.4 559.1L2704.1 554.7L2709.9 555.4L2715.6 554.3L2721.3 555.0L2738.4 605.8L2744.1 588.7L2749.8 565.1L2755.5 556.1L2761.2 558.2L2778.3 555.8L2784.0 548.2L2789.8 543.7L2795.5 549.7L2801.2 550.0"/>
<path stroke="#8c564b" d="M518.4 697.9L524.1 694.0L541.3 693.6L547.0 701.2L552.7 706.0L558.4 706.4L564.1 713.9L581.2 712.5L586.9 708.6L592.6 701.6L598.3 707.0L604.0 705.2L621.2 705.4L626.9 704.9L632.6 701.8L638.3 701.1L644.0 695.6L661.1 698.1L712.5 702.7L718.2 699.8L723.9 701.2L741.0 703.9L746.7 704.5L752.4 702.4L758.1 701.7L763.8 703.7L780.9 702.4L786.7 701.9L792.4 705.5L798.1 705.7L803.8 702.0L820.9 700.8L826.6 703.4L832.3 703.1L838.0 705.0L843.7 703.0L860.8 707.4L866.6 708.1L872.3 706.2L878.0 704.6L883.7 704.5L900.8 703.7L906.5 700.8L912.2 703.2L917.9 702.3L923.6 701.7L940.7 699.5L946.4 697.6L952.2 698.4L957.9 695.4L963.6 697.7L980.7 695.9L986.4 693.7L992.1 694.0L997.8 697.1L1003.5 699.3L1020.6 699.4L1026.3 700.2L1032.0 693.9L1037.8 694.7L1060.6 691.3L1066.3 693.1L1072.0 693.9L1077.7 692.1L1083.4 693.4L1100.5 692.9L1106.2 696.2L1111.9 692.2L1117.7 691.4L1123.4 693.6L1140.5 691.3L1146.2 692.1L1151.9 691.8L1157.6 690.8L1163.3 691.0L1180.4 692.4L1186.1 692.7L1191.8 692.1L1226.1 692.0L1231.8 690.7L1237.5 690.9L1243.2 691.6L1260.3 691.0L1266.0 688.3L1271.7 687.1L1277.4 685.2L1283.2 688.6L1300.3 687.2L1306.0 692.4L1311.7 691.1L1317.4 691.4L1323.1 689.6L1340.2 691.3L1345.9 690.7L1351.6 687.0L1357.3 692.8L1363.0 693.2L1385.9 694.7L1391.6 694.2L1397.3 693.3L1403.0 693.6L1420.1 694.1L1425.8 689.8L1431.5 690.7L1437.2 691.8L1442.9 689.1L1460.1 692.5L1465.8 695.7L1471.5 693.3L1477.2 689.7L1482.9 689.1L1500.0 688.3L1505.7 691.2L1511.4 689.9L1517.1 692.4L1522.8 688.3L1540.0 688.9L1545.7 691.0L1551.4 690.9L1557.1 693.2L1562.8 691.4L1579.9 691.9L1585.6 692.7L1591.3 685.6L1597.0 689.0L1602.7 690.5L1619.9 690.4L1625.6 688.9L1631.3 687.7L1637.0 685.3L1642.7 686.8L1659.8 683.7L1665.5 688.0L1671.2 686.9L1676.9 686.5L1682.6 684.2L1699.7 685.7L1705.5 682.7L1711.2 684.4L1716.9 684.8L1722.6 687.7L1739.7 688.3L1745.4 686.9L1751.1 688.1L1756.8 691.3L1762.5 693.5L1779.6 690.0L1785.3 692.0L1791.1 691.4L1796.8 690.0L1802.5 687.8L1819.6 689.2L1825.3 690.7L1831.0 689.1L1836.7 693.0L1842.4 692.1L1859.5 692.0L1865.2 690.5L1871.0 691.5L1876.7 692.1L1882.4 689.3L1899.5 689.4L1905.2 691.8L1910.9 685.7L1916.6 688.4L1922.3 685.6L1939.4 685.5L1945.1 688.3L1950.8 685.1L1956.6 684.9L1962.3 688.2L1979.4 690.9L1985.1 687.5L1990.8 684.5L1996.5 687.0L2002.2 684.1L2019.3 689.8L2025.0 688.5L2030.7 686.6L2036.4 687.0L2042.2 685.0L2059.3 683.1L2065.0 683.6L2116.3 683.0L2122.1 683.7L2139.2 679.9L2144.9 682.8L2150.6 686.6L2156.3 684.1L2162.0 679.0L2179.1 677.1L2184.8 677.0L2190.5 675.0L2196.2 677.0L2201.9 682.7L2219.1 679.1L2224.8 675.7L2230.5 677.6L2236.2 676.3L2241.9 675.1L2259.0 679.0L2264.7 678.7L2270.4 680.9L2276.1 681.9L2281.8 681.7L2299.0 680.5L2304.7 677.7L2310.4 676.6L2316.1 683.5L2321.8 689.9L2338.9 686.2L2344.6 683.9L2350.3 688.7L2356.0 685.1L2361.7 688.1L2378.9 686.4L2384.6 681.9L2390.3 684.3L2396.0 684.6L2401.7 685.9L2418.8 683.5L2424.5 684.0L2430.2 681.7L2435.9 681.9L2441.6 685.0L2458.8 683.0L2464.5 683.3L2470.2 683.1L2475.9 683.3L2481.6 687.4L2498.7 683.2L2504.4 680.1L2510.1 683.8L2515.8 686.1L2521.5 683.9L2538.7 685.2L2544.4 689.9L2550.1 695.1L2555.8 688.1L2561.5 695.0L2578.6 693.9L2584.3 696.7L2590.0 694.3L2618.5 692.1L2624.3 692.3L2630.0 692.2L2635.7 692.3L2641.4 692.1L2658.5 695.0L2664.2 695.5L2669.9 692.7L2675.6 692.6L2681.3 689.3L2698.4 691.1L2704.1 692.3L2709.9 697.1L2715.6 699.5L2721.3 696.1L2738.4 690.8L2744.1 690.6L2749.8 695.2L2755.5 699.0L2761.2 703.4L2778.3 700.5L2784.0 696.6L2789.8 694.0L2795.5 700.8L2801.2 696.6"/>
<path stroke="#e377c2" d="M518.4 740.3L524.1 674.0L541.3 705.4L547.0 729.8L552.7 767.7L558.4 765.6L564.1 761.9L581.2 752.9L586.9 726.4L592.6 779.8L598.3 734.1L604.0 703.8L621.2 727.1L626.9 684.7L632.6 723.3L638.3 732.7L644.0 720.3L661.1 677.9L712.5 677.8L718.2 705.4L723.9 677.7L741.0 694.8L746.7 706.7L752.4 676.2L758.1 690.7L763.8 702.0L780.9 685.2L786.7 674.1L792.4 643.1L798.1 660.4L803.8 647.1L820.9 644.5L826.6 690.3L832.3 681.6L838.0 690.8L843.7 678.2L860.8 729.0L866.6 697.8L872.3 656.1L878.0 654.8L883.7 678.4L900.8 703.0L906.5 733.6L912.2 728.5L917.9 710.3L923.6 691.3L940.7 712.2L946.4 728.5L952.2 711.3L957.9 724.2L963.6 718.4L980.7 732.4L986.4 753.8L992.1 709.9L997.8 701.7L1003.5 723.7L1020.6 720.1L1026.3 718.5L1032.0 681.1L1037.8 680.8L1060.6 686.5L1066.3 700.1L1072.0 704.3L1077.7 732.6L1083.4 725.3L1100.5 726.9L1106.2 728.4L1111.9 725.2L1117.7 698.0L1123.4 728.4L1140.5 692.2L1146.2 685.9L1151.9 682.9L1157.6 689.7L1163.3 710.0L1180.4 719.9L1186.1 684.1L1191.8 710.6L1226.1 694.5L1231.8 703.0L1237.5 700.1L1243.2 688.3L1260.3 715.1L1266.0 709.7L1271.7 727.9L1277.4 695.1L1283.2 707.2L1300.3 684.6L1306.0 673.9L1311.7 717.3L1317.4 718.1L1323.1 698.8L1340.2 702.7L1345.9 714.7L1351.6 701.6L1357.3 727.3L1363.0 726.0L1385.9 714.1L1391.6 669.7L1397.3 655.6L1403.0 694.5L1420.1 672.0L1425.8 544.0L1431.5 684.0L1437.2 718.8L1442.9 700.3L1460.1 702.1L1465.8 720.5L1471.5 701.5L1477.2 684.2L1482.9 697.8L1500.0 681.7L1505.7 681.9L1511.4 702.9L1517.1 682.5L1522.8 667.5L1540.0 659.5L1545.7 657.9L1551.4 680.8L1557.1 686.9L1562.8 734.6L1579.9 704.2L1585.6 733.0L1591.3 704.3L1597.0 757.4L1602.7 747.2L1619.9 736.1L1625.6 724.6L1631.3 723.5L1637.0 713.6L1642.7 711.4L1659.8 675.4L1665.5 703.4L1671.2 701.5L1676.9 701.9L1682.6 672.1L1699.7 702.7L1705.5 669.2L1711.2 696.1L1716.9 677.8L1722.6 681.5L1739.7 675.7L1745.4 670.2L1751.1 633.4L1756.8 656.2L1762.5 658.3L1779.6 664.8L1785.3 665.2L1791.1 685.2L1796.8 650.8L1802.5 668.2L1819.6 675.7L1825.3 686.5L1831.0 661.2L1836.7 675.6L1842.4 641.3L1859.5 643.2L1865.2 628.4L1871.0 601.6L1876.7 644.6L1882.4 628.3L1899.5 597.4L1905.2 607.8L1910.9 614.8L1916.6 632.8L1922.3 632.2L1939.4 651.3L1945.1 650.2L1950.8 643.1L1956.6 624.2L1962.3 647.6L1979.4 655.7L1985.1 685.2L1990.8 670.0L1996.5 625.1L2002.2 632.5L2019.3 651.7L2025.0 691.2L2030.7 678.0L2036.4 657.1L2042.2 673.3L2059.3 681.9L2065.0 658.4L2116.3 664.3L2122.1 654.4L2139.2 683.4L2144.9 671.9L2150.6 688.2L2156.3 695.8L2162.0 654.2L2179.1 670.9L2184.8 662.9L2190.5 652.0L2196.2 682.8L2201.9 655.2L2219.1 639.9L2224.8 631.9L2230.5 653.8L2236.2 635.1L2241.9 637.8L2259.0 647.2L2264.7 633.8L2270.4 645.2L2276.1 643.4L2281.8 657.7L2299.0 612.9L2304.7 615.5L2310.4 628.6L2316.1 629.7L2321.8 661.3L2338.9 625.3L2344.6 655.7L2350.3 663.6L2356.0 667.1L2361.7 634.7L2378.9 665.2L2384.6 678.1L2390.3 691.5L2396.0 689.7L2401.7 681.7L2418.8 658.7L2424.5 646.1L2430.2 685.6L2435.9 682.4L2441.6 679.5L2458.8 674.4L2464.5 679.8L2470.2 668.6L2475.9 662.0L2481.6 670.1L2498.7 677.3L2504.4 685.0L2510.1 666.7L2515.8 670.2L2521.5 684.3L2538.7 652.4L2544.4 645.1L2550.1 662.7L2555.8 641.7L2561.5 651.8L2578.6 665.9L2584.3 685.8L2590.0 659.0L2618.5 682.5L2624.3 668.1L2630.0 644.2L2635.7 666.1L2641.4 671.3L2658.5 647.5L2664.2 671.6L2669.9 679.0L2675.6 668.5L2681.3 686.7L2698.4 689.7L2704.1 691.2L2709.9 662.5L2715.6 701.2L2721.3 678.1L2738.4 682.2L2744.1 663.4L2749.8 697.0L2755.5 713.1L2761.2 703.5L2778.3 707.4L2784.0 694.8L2789.8 702.3L2795.5 700.1L2801.2 693.1"/>
<path stroke="#7f7f7f" d="M518.4 717.3L524.1 714.8L541.3 713.9L547.0 725.5L552.7 718.7L558.4 706.6L564.1 705.9L581.2 703.7L586.9 703.9L592.6 703.8L598.3 701.4L604.0 702.0L621.2 704.5L626.9 708.6L632.6 701.2L638.3 701.6L644.0 701.5L661.1 704.0L712.5 707.2L718.2 709.5L723.9 706.3L741.0 709.8L746.7 709.4L752.4 709.8L758.1 704.6L763.8 710.6L780.9 714.8L786.7 713.6L792.4 712.2L798.1 710.7L803.8 707.8L820.9 712.4L826.6 710.5L832.3 706.5L838.0 703.4L843.7 704.1L860.8 706.9L866.6 707.0L872.3 705.6L878.0 708.5L883.7 707.8L900.8 703.9L906.5 704.8L912.2 704.7L917.9 707.8L923.6 706.7L940.7 704.5L946.4 706.0L952.2 701.6L957.9 705.3L963.6 709.0L980.7 707.0L986.4 705.8L992.1 706.4L997.8 705.8L1003.5 707.4L1020.6 707.5L1026.3 704.7L1032.0 707.5L1037.8 705.9L1060.6 709.6L1066.3 704.4L1072.0 706.2L1077.7 706.0L1083.4 705.7L1100.5 703.2L1106.2 701.6L1111.9 704.8L1117.7 701.1L1123.4 706.4L1140.5 707.1L1146.2 704.3L1151.9 703.0L1157.6 700.5L1163.3 703.8L1180.4 698.9L1186.1 696.1L1191.8 698.2L1226.1 698.0L1231.8 696.7L1237.5 694.7L1243.2 696.1L1260.3 697.1L1266.0 696.1L1271.7 695.9L1277.4 694.1L1283.2 692.3L1300.3 693.7L1306.0 699.0L1311.7 695.6L1317.4 693.7L1323.1 694.3L1340.2 694.9L1345.9 698.2L1351.6 694.1L1357.3 694.7L1363.0 694.5L1385.9 693.3L1391.6 693.3L1397.3 694.8L1403.0 693.7L1420.1 696.1L1425.8 695.0L1431.5 694.0L1437.2 695.8L1442.9 694.4L1460.1 694.6L1465.8 692.1L1471.5 694.9L1477.2 690.4L1482.9 698.9L1500.0 698.3L1505.7 699.2L1511.4 697.6L1517.1 703.5L1522.8 697.0L1540.0 701.8L1545.7 701.6L1551.4 698.9L1557.1 702.8L1562.8 700.5L1579.9 702.4L1585.6 697.0L1591.3 694.5L1597.0 698.2L1602.7 696.3L1619.9 693.5L1625.6 691.4L1631.3 693.7L1637.0 696.8L1642.7 698.2L1659.8 693.8L1665.5 694.8L1671.2 696.4L1676.9 696.8L1682.6 696.6L1699.7 700.7L1705.5 699.8L1711.2 701.0L1716.9 701.3L1722.6 704.1L1739.7 696.6L1745.4 698.3L1751.1 694.5L1756.8 700.2L1762.5 703.2L1779.6 705.7L1785.3 705.9L1791.1 705.4L1796.8 707.8L1802.5 709.3L1819.6 710.6L1825.3 709.5L1831.0 705.5L1836.7 706.5L1842.4 705.0L1859.5 702.9L1865.2 706.2L1871.0 709.0L1876.7 707.0L1882.4 704.9L1899.5 707.9L1905.2 707.6L1910.9 709.5L1916.6 698.4L1922.3 702.5L1939.4 702.4L1945.1 704.5L1950.8 699.3L1956.6 703.6L1962.3 704.3L1979.4 701.1L1985.1 704.7L1990.8 700.3L1996.5 700.2L2002.2 702.8L2019.3 699.8L2025.0 701.5L2030.7 703.9L2036.4 705.4L2042.2 704.0L2059.3 703.3L2065.0 702.2L2116.3 704.3L2122.1 700.5L2139.2 700.3L2144.9 697.8L2150.6 697.5L2156.3 699.6L2162.0 696.6L2179.1 692.4L2184.8 691.7L2190.5 694.9L2196.2 696.7L2201.9 696.5L2219.1 693.0L2224.8 691.1L2230.5 694.4L2236.2 695.2L2241.9 699.0L2259.0 694.5L2264.7 694.5L2270.4 698.1L2276.1 696.4L2281.8 699.3L2299.0 698.4L2304.7 698.8L2310.4 700.0L2316.1 702.2L2321.8 707.7L2338.9 707.6L2344.6 702.2L2350.3 700.2L2356.0 697.8L2361.7 702.7L2378.9 701.1L2384.6 700.3L2390.3 700.9L2396.0 700.5L2401.7 702.4L2418.8 703.4L2424.5 712.0L2430.2 704.3L2435.9 704.1L2441.6 707.0L2458.8 703.2L2464.5 702.8L2470.2 703.0L2475.9 702.8L2481.6 698.1L2498.7 697.5L2504.4 695.5L2510.1 696.2L2515.8 699.6L2521.5 701.0L2538.7 700.8L2544.4 702.9L2550.1 705.5L2555.8 705.0L2561.5 699.8L2578.6 707.0L2584.3 705.1L2590.0 702.1L2618.5 702.2L2624.3 705.5L2630.0 704.6L2635.7 701.7L2641.4 699.5L2658.5 697.4L2664.2 699.6L2669.9 696.7L2675.6 704.2L2681.3 701.9L2698.4 698.2L2704.1 698.5L2709.9 693.7L2715.6 697.5L2721.3 699.7L2738.4 701.4L2744.1 701.5L2749.8 702.7L2755.5 710.1L2761.2 708.3L2778.3 710.1L2784.0 711.0L2789.8 708.3L2795.5 712.9L2801.2 712.2"/>
<path stroke="#bcbd22" d="M518.4 706.6L524.1 701.0L541.3 700.7L547.0 704.6L552.7 713.0L558.4 708.3L564.1 707.6L581.2 705.9L586.9 705.0L592.6 706.0L598.3 706.5L604.0 718.3L621.2 706.2L626.9 701.6L632.6 711.8L638.3 705.8L644.0 703.4L661.1 705.5L712.5 703.2L718.2 705.5L723.9 703.5L741.0 703.0L746.7 701.8L752.4 702.1L758.1 701.6L763.8 700.8L780.9 699.2L786.7 702.3L792.4 699.6L798.1 698.8L803.8 697.8L820.9 698.0L826.6 697.1L832.3 695.2L838.0 695.8L843.7 702.3L860.8 701.1L866.6 699.0L872.3 698.2L878.0 698.3L883.7 699.7L900.8 704.6L906.5 703.7L912.2 703.4L917.9 701.3L923.6 701.8L940.7 698.8L946.4 701.8L952.2 702.4L957.9 701.2L963.6 697.5L980.7 696.9L986.4 701.9L992.1 698.4L997.8 695.9L1003.5 696.3L1020.6 698.6L1026.3 697.3L1032.0 696.0L1037.8 697.1L1060.6 695.7L1066.3 696.2L1072.0 700.9L1077.7 701.3L1083.4 698.3L1100.5 701.3L1106.2 699.3L1111.9 703.7L1117.7 704.1L1123.4 703.0L1140.5 703.1L1146.2 704.0L1151.9 708.5L1157.6 711.5L1163.3 708.5L1180.4 708.7L1186.1 707.5L1191.8 706.2L1226.1 702.7L1231.8 705.2L1237.5 703.2L1243.2 702.1L1260.3 702.2L1266.0 704.4L1271.7 700.9L1277.4 700.1L1283.2 704.7L1300.3 699.9L1306.0 702.2L1311.7 699.9L1317.4 700.3L1323.1 696.6L1340.2 696.2L1345.9 699.0L1351.6 699.5L1357.3 699.9L1363.0 697.7L1385.9 699.5L1391.6 694.3L1397.3 694.0L1403.0 692.6L1420.1 695.4L1425.8 701.5L1431.5 698.5L1437.2 696.2L1442.9 698.1L1460.1 691.7L1465.8 696.1L1471.5 701.5L1477.2 705.7L1482.9 705.5L1500.0 705.1L1505.7 702.8L1511.4 704.9L1517.1 708.9L1522.8 706.9L1540.0 709.6L1545.7 704.3L1551.4 710.5L1557.1 706.2L1562.8 706.5L1579.9 708.7L1585.6 705.3L1591.3 706.4L1597.0 705.8L1602.7 707.1L1619.9 707.9L1625.6 711.7L1631.3 707.8L1637.0 709.6L1642.7 706.3L1659.8 708.7L1665.5 710.4L1671.2 710.8L1676.9 713.6L1682.6 715.7L1699.7 716.7L1705.5 714.2L1711.2 713.4L1716.9 714.8L1722.6 709.8L1739.7 712.1L1745.4 704.9L1751.1 706.5L1756.8 707.3L1762.5 705.2L1779.6 708.1L1785.3 710.5L1791.1 706.4L1796.8 707.3L1802.5 706.1L1819.6 702.0L1825.3 704.6L1831.0 706.3L1836.7 707.0L1842.4 706.8L1859.5 704.0L1865.2 700.5L1871.0 706.2L1876.7 704.5L1882.4 704.4L1899.5 700.7L1905.2 705.9L1910.9 705.2L1916.6 702.0L1922.3 701.3L1939.4 702.3L1945.1 703.8L1950.8 701.6L1956.6 701.5L1962.3 701.7L1979.4 700.4L1985.1 700.8L1990.8 704.0L1996.5 706.3L2002.2 704.8L2019.3 703.6L2025.0 702.0L2030.7 702.3L2036.4 701.9L2042.2 704.3L2059.3 702.3L2065.0 704.6L2116.3 702.0L2122.1 696.7L2139.2 704.0L2144.9 705.2L2150.6 712.1L2156.3 707.3L2162.0 704.0L2179.1 704.9L2184.8 703.2L2190.5 704.6L2196.2 698.3L2201.9 702.1L2219.1 702.5L2224.8 705.9L2230.5 704.1L2236.2 706.4L2241.9 705.6L2259.0 701.5L2264.7 705.4L2270.4 706.1L2276.1 708.2L2281.8 710.4L2299.0 709.1L2304.7 704.6L2310.4 705.8L2316.1 707.1L2321.8 704.5L2338.9 702.6L2344.6 707.7L2350.3 708.9L2356.0 704.3L2361.7 708.9L2378.9 700.8L2384.6 702.6L2390.3 705.4L2396.0 711.8L2401.7 710.0L2418.8 708.1L2424.5 705.0L2430.2 710.4L2435.9 711.3L2441.6 709.1L2458.8 708.2L2464.5 705.3L2470.2 705.7L2475.9 701.4L2481.6 704.8L2498.7 705.0L2504.4 706.9L2510.1 702.1L2515.8 703.2L2521.5 705.1L2538.7 706.3L2544.4 705.7L2550.1 704.1L2555.8 703.1L2561.5 707.0L2578.6 703.0L2584.3 704.0L2590.0 708.2L2618.5 707.3L2624.3 709.6L2630.0 709.4L2635.7 710.5L2641.4 707.1L2658.5 705.9L2664.2 695.7L2669.9 701.9L2675.6 709.4L2681.3 706.1L2698.4 704.5L2704.1 704.7L2709.9 706.0L2715.6 707.3L2721.3 702.6L2738.4 703.9L2744.1 702.4L2749.8 702.4L2755.5 706.0L2761.2 707.1L2778.3 705.8L2784.0 705.8L2789.8 707.2L2795.5 705.0L2801.2 704.5"/>
<path stroke="#17becf" d="M518.4 610.5L524.1 590.5L541.3 618.1L547.0 642.0L552.7 678.6L558.4 660.0L564.1 632.3L581.2 639.9L586.9 659.4L592.6 661.0L598.3 632.2L604.0 636.8L621.2 648.6L626.9 665.4L632.6 690.3L638.3 686.8L644.0 663.8L661.1 651.6L712.5 663.0L718.2 681.6L723.9 696.4L741.0 675.8L746.7 659.9L752.4 657.9L758.1 658.8L763.8 683.3L780.9 684.6L786.7 683.3L792.4 668.8L798.1 694.6L803.8 717.1L820.9 687.7L826.6 717.0L832.3 716.7L838.0 694.7L843.7 691.4L860.8 690.7L866.6 698.2L872.3 695.1L878.0 715.8L883.7 704.8L900.8 686.3L906.5 683.8L912.2 705.8L917.9 699.9L923.6 680.6L940.7 681.8L946.4 722.3L952.2 716.1L957.9 722.0L963.6 704.2L980.7 698.4L986.4 695.5L992.1 686.3L997.8 679.0L1003.5 674.9L1020.6 661.3L1026.3 660.4L1032.0 653.3L1037.8 688.5L1060.6 666.8L1066.3 689.3L1072.0 699.8L1077.7 680.2L1083.4 709.2L1100.5 685.7L1106.2 696.4L1111.9 699.9L1117.7 714.0L1123.4 742.5L1140.5 712.0L1146.2 716.8L1151.9 742.4L1157.6 737.3L1163.3 717.9L1180.4 688.4L1186.1 702.8L1191.8 710.3L1226.1 697.0L1231.8 701.6L1237.5 669.3L1243.2 686.4L1260.3 704.8L1266.0 726.8L1271.7 694.6L1277.4 682.1L1283.2 675.3L1300.3 661.5L1306.0 675.6L1311.7 694.5L1317.4 677.8L1323.1 637.9L1340.2 668.2L1345.9 674.7L1351.6 673.8L1357.3 666.5L1363.0 718.6L1385.9 691.7L1391.6 646.9L1397.3 643.0L1403.0 642.0L1420.1 663.2L1425.8 663.3L1431.5 688.7L1437.2 697.1L1442.9 677.9L1460.1 708.9L1465.8 681.3L1471.5 681.1L1477.2 666.6L1482.9 707.1L1500.0 691.8L1505.7 677.2L1511.4 702.5L1517.1 669.9L1522.8 686.4L1540.0 688.9L1545.7 705.3L1551.4 722.3L1557.1 701.0L1562.8 689.8L1579.9 679.2L1585.6 690.6L1591.3 693.1L1597.0 689.1L1602.7 678.2L1619.9 698.8L1625.6 652.7L1631.3 665.5L1637.0 685.0L1642.7 681.4L1659.8 677.2L1665.5 710.9L1671.2 711.7L1676.9 674.6L1682.6 681.4L1699.7 694.9L1705.5 684.3L1711.2 718.5L1716.9 730.5L1722.6 683.7L1739.7 687.2L1745.4 691.7L1751.1 726.2L1756.8 717.8L1762.5 713.6L1779.6 697.3L1785.3 706.3L1791.1 710.0L1796.8 724.7L1802.5 717.2L1819.6 703.0L1825.3 716.1L1831.0 733.7L1836.7 733.0L1842.4 700.2L1859.5 728.7L1865.2 727.4L1871.0 729.6L1876.7 717.5L1882.4 724.3L1899.5 743.1L1905.2 697.5L1910.9 731.2L1916.6 731.9L1922.3 718.6L1939.4 701.3L1945.1 744.7L1950.8 702.6L1956.6 725.6L1962.3 687.2L1979.4 679.2L1985.1 682.1L1990.8 696.6L1996.5 709.9L2002.2 710.3L2019.3 696.5L2025.0 718.8L2030.7 672.8L2036.4 686.8L2042.2 701.7L2059.3 699.8L2065.0 683.1L2116.3 723.9L2122.1 698.9L2139.2 695.6L2144.9 682.1L2150.6 685.0L2156.3 687.2L2162.0 676.1L2179.1 679.6L2184.8 711.1L2190.5 699.0L2196.2 694.3L2201.9 705.6L2219.1 698.8L2224.8 710.8L2230.5 701.1L2236.2 667.0L2241.9 670.3L2259.0 672.6L2264.7 691.4L2270.4 692.4L2276.1 676.5L2281.8 695.3L2299.0 663.2L2304.7 677.7L2310.4 737.3L2316.1 687.0L2321.8 683.5L2338.9 719.6L2344.6 678.3L2350.3 712.7L2356.0 717.8L2361.7 700.5L2378.9 711.2L2384.6 684.8L2390.3 696.8L2396.0 687.6L2401.7 694.8L2418.8 700.7L2424.5 711.1L2430.2 717.4L2435.9 715.7L2441.6 701.5L2458.8 703.0L2464.5 711.0L2470.2 696.5L2475.9 676.0L2481.6 678.3L2498.7 681.1L2504.4 678.9L2510.1 688.9L2515.8 694.2L2521.5 697.6L2538.7 685.4L2544.4 664.3L2550.1 708.1L2555.8 726.2L2561.5 747.6L2578.6 733.0L2584.3 707.0L2590.0 675.1L2618.5 689.9L2624.3 711.5L2630.0 689.8L2635.7 705.9L2641.4 703.3L2658.5 732.9L2664.2 704.8L2669.9 647.1L2675.6 624.6L2681.3 619.7L2698.4 635.2L2704.1 678.7L2709.9 679.9L2715.6 642.3L2721.3 624.6L2738.4 656.1L2744.1 656.8L2749.8 675.2L2755.5 670.8L2761.2 667.9L2778.3 696.8L2784.0 681.1L2789.8 694.2L2795.5 673.5L2801.2 663.4"/>
<path stroke="#1f77b4" d="M519.0 738.1L541.9 813.5L564.3 763.2L589.4 835.9L611.8 791.2L634.2 852.7L656.5 807.9L662.1 866.6L678.9 848.5L713.2 806.6L718.8 896.8L724.4 911.4L741.8 938.7L747.3 953.3L752.9 900.7L758.5 920.3L764.1 886.8L781.4 970.1L787.3 986.0L792.9 893.8L798.5 924.8L804.6 918.3L821.4 986.0L832.6 952.4L838.7 1003.6L844.6 981.2L850.2 919.7L861.9 822.5L866.7 842.9L872.3 859.7L884.3 973.4L901.6 986.0L907.2 966.7L918.7 989.1L924.3 928.1L941.6 927.3L947.2 940.1L952.8 938.7L963.9 870.0L981.3 859.1L986.9 852.1L992.5 875.0L998.3 900.2L1021.2 999.4L1026.8 1103.4L1032.4 1104.2L1038.3 1060.9L1061.2 1071.2L1066.8 1006.4L1072.9 977.9L1078.5 963.1L1084.1 919.2L1100.9 914.7L1107.0 917.5L1112.6 916.4L1118.5 917.5L1124.1 937.9L1141.4 945.5L1147.0 991.0L1152.6 1012.0L1158.2 1046.9L1163.8 1048.3L1181.1 1038.5L1186.7 956.9L1192.6 953.3L1220.0 946.9L1226.6 944.1L1232.1 989.6L1237.7 957.5L1243.9 991.0L1260.9 942.9L1266.5 968.7L1272.1 960.3L1278.3 1009.7L1283.8 988.8L1300.6 966.7L1306.2 944.9L1312.4 974.8L1323.8 955.2L1340.6 941.3L1346.2 999.4L1352.3 1024.6L1357.9 978.4L1363.5 1056.7L1386.4 1057.8L1397.9 1083.2L1403.5 1107.8L1420.8 1086.9L1426.4 1129.9L1432.5 1100.0L1437.6 1057.2L1443.7 1037.1L1460.8 1010.0L1466.3 994.4L1472.5 1003.6L1478.1 974.2L1500.4 933.2L1512.2 975.6L1517.8 1009.2L1523.4 1012.5L1540.4 969.2L1546.0 1043.6L1557.7 1020.9L1563.3 999.4L1580.1 987.7L1585.7 981.2L1591.8 1014.2L1597.4 1033.5L1603.3 1045.5L1620.1 1128.5L1625.7 1136.3L1631.8 1200.9L1637.4 1161.8L1643.0 1153.4L1660.3 1124.0L1665.9 1112.3L1671.8 1089.4L1677.4 1113.7L1700.3 1144.4L1705.9 1149.2L1712.0 1158.4L1717.6 1133.3L1723.2 1132.4L1740.2 1136.6L1745.8 1160.7L1751.4 1124.3L1757.6 1119.3L1763.2 1142.2L1779.9 1055.9L1791.7 1031.5L1797.3 1067.0L1802.9 1057.5L1819.9 986.0L1825.5 994.6L1831.6 1030.1L1837.2 1033.8L1842.8 1025.9L1860.1 1058.9L1865.7 1103.4L1871.6 1102.0L1877.2 1078.5L1882.8 1105.9L1900.1 1067.3L1905.7 1095.8L1917.2 903.1L1922.8 905.9L1940.1 936.6L1945.7 960.4L1951.8 990.5L1957.4 996.7L1963.0 1026.0L1980.1 1061.0L1985.6 1010.7L1997.4 1050.6L2003.0 978.5L2019.7 939.4L2025.3 967.3L2031.5 918.4L2042.9 960.9L2065.9 915.6L2117.0 873.7L2122.6 942.8L2139.9 989.1L2145.5 951.1L2151.1 1005.1L2156.7 999.5L2162.8 986.3L2179.9 1029.4L2185.5 1007.9L2191.1 977.1L2202.8 1070.8L2219.6 1118.1L2225.7 1092.4L2231.3 1105.5L2242.8 969.1L2260.1 956.8L2265.7 930.0L2271.3 955.1L2276.9 922.4L2283.0 913.2L2299.8 914.9L2305.4 954.6L2311.2 930.8L2316.8 915.5L2322.4 963.0L2339.7 995.1L2345.3 1055.2L2350.9 1101.3L2362.7 1030.1L2379.7 966.6L2385.3 991.5L2390.9 935.0L2397.0 890.3L2402.6 865.2L2420.0 851.2L2425.5 895.9L2431.1 918.3L2437.0 892.5L2442.6 903.7L2476.7 1013.3L2482.3 969.4L2499.6 967.4L2505.2 912.1L2511.1 919.1L2516.7 937.8L2522.8 899.3L2539.6 860.4L2545.2 842.8L2550.8 820.7L2556.3 817.9L2562.8 843.1L2579.5 833.3L2585.7 880.8L2591.3 838.9L2619.2 828.8L2624.8 879.1L2630.4 944.8L2636.0 907.1L2641.6 886.1L2659.2 837.2L2664.8 866.6L2670.9 826.0L2682.1 814.8L2699.4 823.2L2705.0 809.3L2721.8 823.2L2739.4 834.4L2745.0 891.1L2750.6 961.6L2756.2 867.9L2761.8 877.7L2779.1 831.6L2790.6 817.6L2802.3 828.8"/>
<path stroke="#ff7f0e" d="M518.4 822.3L524.1 814.8L541.3 839.8L547.0 760.1L552.7 776.3L558.4 786.6L564.1 796.3L581.2 752.9L586.9 731.6L592.6 721.0L598.3 718.2L604.0 705.4L621.2 718.6L626.9 695.9L632.6 674.8L638.3 679.3L644.0 655.9L661.1 635.7L712.5 622.7L718.2 603.6L723.9 595.6L741.0 583.9L746.7 580.0L752.4 583.0L758.1 582.3L763.8 598.9L780.9 614.1L786.7 622.2L792.4 625.9L798.1 627.8L803.8 632.7L820.9 604.5L826.6 594.7L832.3 600.4L838.0 606.1L843.7 621.2L860.8 646.7L866.6 642.5L872.3 632.6L878.0 622.7L883.7 615.1L900.8 605.9L906.5 606.9L912.2 612.0L917.9 612.2L923.6 607.9L940.7 607.1L946.4 605.6L952.2 603.7L957.9 597.9L963.6 596.8L980.7 596.8L986.4 593.7L992.1 595.7L997.8 593.5L1003.5 602.1L1020.6 614.5L1026.3 614.5L1032.0 603.6L1037.8 597.2L1060.6 598.4L1066.3 607.0L1072.0 616.1L1077.7 609.6L1083.4 601.3L1100.5 599.7L1106.2 605.3L1111.9 611.7L1117.7 614.2L1123.4 620.4L1140.5 634.9L1146.2 639.6L1151.9 644.2L1157.6 641.8L1163.3 639.1L1180.4 631.1L1186.1 628.4L1191.8 626.8L1226.1 624.9L1231.8 624.5L1237.5 631.1L1243.2 634.1L1260.3 637.9L1266.0 639.1L1271.7 640.4L1277.4 641.6L1283.2 642.9L1300.3 646.6L1306.0 644.9L1311.7 642.7L1317.4 640.4L1323.1 637.6L1340.2 613.0L1345.9 626.3L1351.6 639.3L1357.3 632.9L1363.0 614.4L1385.9 624.8L1391.6 640.4L1397.3 632.8L1403.0 672.7L1420.1 673.1L1425.8 672.6L1431.5 693.3L1437.2 687.5L1442.9 707.8L1460.1 685.1L1465.8 666.5L1471.5 661.8L1477.2 662.5L1482.9 644.9L1500.0 659.9L1505.7 649.6L1511.4 659.6L1517.1 678.9L1522.8 673.3L1540.0 637.6L1545.7 647.4L1551.4 630.5L1557.1 642.4L1562.8 645.3L1579.9 642.4L1585.6 644.8L1591.3 627.8L1597.0 622.3L1602.7 640.9L1619.9 645.0L1625.6 649.4L1631.3 635.3L1637.0 628.8L1642.7 643.9L1659.8 624.3L1665.5 627.9L1671.2 623.8L1676.9 616.9L1682.6 623.5L1699.7 636.5L1705.5 649.2L1711.2 646.6L1716.9 628.6L1722.6 631.9L1739.7 644.3L1745.4 635.7L1751.1 631.7L1756.8 636.4L1762.5 627.2L1779.6 651.1L1785.3 641.9L1791.1 634.1L1796.8 646.3L1802.5 661.2L1819.6 670.4L1825.3 659.7L1831.0 667.4L1836.7 635.7L1842.4 661.9L1859.5 621.4L1865.2 599.0L1871.0 614.0L1876.7 641.5L1882.4 597.0L1899.5 605.3L1905.2 608.5L1910.9 576.2L1916.6 574.8L1922.3 574.2L1939.4 569.6L1945.1 597.0L1950.8 601.2L1956.6 617.5L1962.3 616.3L1979.4 654.0L1985.1 649.3L1990.8 635.6L1996.5 632.5L2002.2 635.3L2019.3 643.2L2025.0 627.2L2030.7 641.5L2036.4 644.6L2042.2 627.2L2059.3 642.8L2065.0 657.7L2116.3 630.9L2122.1 601.4L2139.2 622.4L2144.9 615.1L2150.6 610.2L2156.3 634.8L2162.0 634.5L2179.1 628.8L2184.8 619.8L2190.5 602.0L2196.2 622.7L2201.9 632.8L2219.1 629.4L2224.8 662.7L2230.5 652.9L2236.2 652.3L2241.9 639.5L2259.0 637.2L2264.7 664.5L2270.4 667.5L2276.1 662.9L2281.8 658.5L2299.0 651.3L2304.7 663.7L2310.4 682.8L2316.1 653.3L2321.8 662.4L2338.9 660.2L2344.6 682.3L2350.3 689.4L2356.0 654.0L2361.7 661.0L2378.9 668.8L2384.6 695.2L2390.3 688.8L2396.0 673.6L2401.7 683.9L2418.8 678.4L2424.5 666.8L2430.2 663.2L2435.9 665.0L2441.6 663.6L2458.8 670.4L2464.5 662.9L2470.2 647.2L2475.9 667.3L2481.6 670.9L2498.7 697.6L2504.4 691.9L2510.1 695.8L2515.8 665.2L2521.5 655.8L2538.7 660.8L2544.4 678.8L2550.1 667.4L2555.8 632.5L2561.5 654.7L2578.6 665.6L2584.3 651.2L2590.0 660.8L2618.5 652.3L2624.3 644.7L2630.0 676.6L2635.7 649.8L2641.4 637.0L2658.5 644.2L2664.2 674.4L2669.9 694.4L2675.6 686.0L2681.3 673.6L2698.4 677.3L2704.1 674.1L2709.9 675.3L2715.6 685.9L2721.3 674.2L2738.4 685.5L2744.1 673.3L2749.8 666.6L2755.5 649.3L2761.2 664.2L2778.3 640.9L2784.0 635.6L2789.8 649.9L2795.5 666.1L2801.2 633.8"/>
<path stroke="#2ca02c" d="M518.4 690.7L524.1 676.0L541.3 732.9L547.0 673.7L552.7 655.3L558.4 673.4L564.1 681.9L581.2 651.8L586.9 610.5L592.6 632.4L598.3 637.2L604.0 623.1L621.2 609.4L626.9 660.0L632.6 689.3L638.3 704.4L644.0 765.2L661.1 795.2L712.5 813.8L718.2 793.8L723.9 771.0L741.0 769.9L746.7 770.3L752.4 770.6L758.1 771.0L763.8 771.4L780.9 772.5L786.7 772.9L792.4 773.2L798.1 773.6L803.8 774.0L820.9 815.8L826.6 817.7L832.3 797.8L838.0 819.0L843.7 816.5L860.8 797.9L866.6 777.8L872.3 779.2L878.0 798.3L883.7 828.4L900.8 834.4L906.5 840.6L912.2 847.0L917.9 853.2L923.6 852.0L940.7 844.6L946.4 836.3L952.2 846.9L957.9 860.4L963.6 861.9L980.7 833.5L986.4 823.8L992.1 814.1L997.8 798.2L1003.5 804.7L1020.6 830.8L1026.3 875.6L1032.0 868.3L1037.8 876.9L1060.6 869.7L1066.3 849.1L1072.0 829.3L1077.7 819.0L1083.4 810.4L1100.5 820.3L1106.2 815.7L1111.9 821.5L1117.7 829.2L1123.4 838.8L1140.5 859.9L1146.2 874.6L1151.9 872.3L1157.6 885.2L1163.3 876.0L1180.4 868.3L1186.1 861.0L1191.8 862.2L1226.1 830.1L1231.8 835.0L1237.5 835.9L1243.2 853.3L1260.3 877.0L1266.0 871.4L1271.7 864.2L1277.4 857.0L1283.2 826.2L1300.3 801.4L1306.0 790.2L1311.7 812.2L1317.4 823.5L1323.1 833.3L1340.2 802.5L1345.9 815.7L1351.6 816.8L1357.3 830.2L1363.0 817.1L1385.9 820.4L1391.6 820.0L1397.3 809.2L1403.0 812.6L1420.1 804.1L1425.8 799.5L1431.5 793.2L1437.2 799.1L1442.9 814.2L1460.1 811.0L1465.8 805.4L1471.5 799.3L1477.2 796.5L1482.9 831.8L1500.0 861.7L1505.7 849.9L1511.4 836.3L1517.1 833.5L1522.8 832.4L1540.0 798.3L1545.7 800.7L1551.4 804.8L1557.1 808.9L1562.8 806.5L1579.9 796.6L1585.6 793.4L1591.3 790.1L1597.0 820.9L1602.7 825.0L1619.9 830.2L1625.6 837.5L1631.3 845.0L1637.0 827.6L1642.7 837.5L1659.8 831.9L1665.5 841.3L1671.2 846.6L1676.9 865.1L1682.6 837.7L1699.7 845.4L1705.5 844.9L1711.2 866.0L1716.9 880.3L1722.6 880.0L1739.7 861.7L1745.4 866.2L1751.1 869.3L1756.8 866.2L1762.5 862.8L1779.6 872.1L1785.3 861.4L1791.1 869.9L1796.8 884.8L1802.5 877.0L1819.6 846.8L1825.3 853.8L1831.0 850.3L1836.7 884.1L1842.4 886.3L1859.5 907.8L1865.2 893.3L1871.0 909.2L1876.7 892.4L1882.4 926.6L1899.5 916.1L1905.2 916.8L1910.9 901.0L1916.6 896.4L1922.3 835.7L1939.4 826.4L1945.1 825.7L1950.8 817.9L1956.6 816.4L1962.3 831.0L1979.4 839.9L1985.1 857.8L1990.8 858.8L1996.5 857.7L2002.2 863.1L2019.3 848.9L2025.0 871.9L2030.7 850.2L2036.4 826.0L2042.2 841.6L2059.3 832.4L2065.0 828.2L2116.3 797.3L2122.1 807.0L2139.2 785.3L2144.9 832.6L2150.6 796.9L2156.3 791.4L2162.0 799.7L2179.1 823.7L2184.8 824.8L2190.5 847.6L2196.2 863.7L2201.9 860.4L2219.1 805.5L2224.8 797.9L2230.5 814.6L2236.2 835.9L2241.9 816.5L2259.0 788.8L2264.7 802.8L2270.4 814.4L2276.1 818.2L2281.8 821.6L2299.0 823.4L2304.7 820.8L2310.4 818.1L2316.1 826.8L2321.8 833.8L2338.9 846.6L2344.6 858.1L2350.3 869.7L2356.0 878.6L2361.7 878.8L2378.9 868.5L2384.6 860.4L2390.3 844.0L2396.0 839.1L2401.7 838.8L2418.8 828.6L2424.5 825.1L2430.2 845.7L2435.9 845.8L2441.6 856.7L2458.8 858.3L2464.5 865.1L2470.2 864.0L2475.9 881.2L2481.6 864.8L2498.7 863.8L2504.4 820.0L2510.1 822.2L2515.8 824.1L2521.5 826.4L2538.7 817.8L2544.4 842.8L2550.1 858.2L2555.8 869.8L2561.5 872.0L2578.6 868.4L2584.3 870.3L2590.0 864.5L2618.5 922.5L2624.3 928.4L2630.0 887.0L2635.7 893.8L2641.4 885.1L2658.5 868.6L2664.2 846.7L2669.9 848.8L2675.6 867.3L2681.3 881.5L2698.4 896.5L2704.1 852.6L2709.9 833.3L2715.6 831.1L2721.3 830.6L2738.4 828.9L2744.1 842.9L2749.8 870.8L2755.5 861.4L2761.2 860.8L2778.3 890.4L2784.0 886.8L2789.8 904.2L2795.5 908.3L2801.2 881.1"/>
<path stroke="#d62728" d="M518.4 760.2L524.1 744.3L541.3 743.2L547.0 734.3L552.7 729.1L558.4 725.7L564.1 726.7L581.2 720.6L586.9 714.9L592.6 712.8L598.3 711.6L604.0 706.2L621.2 704.1L626.9 706.1L632.6 705.0L638.3 702.2L644.0 701.5L661.1 700.2L712.5 699.4L718.2 697.0L723.9 697.2L741.0 696.9L746.7 694.2L752.4 692.6L758.1 695.3L763.8 691.2L780.9 689.1L786.7 693.2L792.4 695.1L798.1 691.2L803.8 692.6L820.9 696.0L826.6 693.9L832.3 688.4L838.0 690.9L843.7 694.4L860.8 689.7L866.6 691.9L872.3 690.9L878.0 691.7L883.7 688.8L900.8 690.6L906.5 689.1L912.2 690.6L917.9 692.5L923.6 691.2L940.7 691.4L946.4 690.0L952.2 690.7L957.9 689.9L963.6 686.9L980.7 689.9L986.4 690.0L992.1 690.8L997.8 688.9L1003.5 686.1L1020.6 685.6L1026.3 686.4L1032.0 685.5L1037.8 686.0L1060.6 689.4L1066.3 688.0L1072.0 683.6L1077.7 684.2L1083.4 684.4L1100.5 684.6L1106.2 685.7L1111.9 685.0L1117.7 683.3L1123.4 685.1L1140.5 684.8L1146.2 689.4L1151.9 690.9L1157.6 688.2L1163.3 690.6L1180.4 691.7L1186.1 689.0L1191.8 694.4L1226.1 693.1L1231.8 696.8L1237.5 693.5L1243.2 695.8L1260.3 696.2L1266.0 688.0L1271.7 690.2L1277.4 692.0L1283.2 692.2L1300.3 687.4L1306.0 685.0L1311.7 687.6L1317.4 693.4L1323.1 689.4L1340.2 684.4L1345.9 685.5L1351.6 686.6L1357.3 688.3L1363.0 693.8L1385.9 691.0L1391.6 688.6L1397.3 689.8L1403.0 686.9L1420.1 687.1L1425.8 687.8L1431.5 689.1L1437.2 689.2L1442.9 685.7L1460.1 686.6L1465.8 688.6L1471.5 693.7L1477.2 694.7L1482.9 695.7L1500.0 698.7L1505.7 694.4L1511.4 691.2L1517.1 693.5L1522.8 689.2L1540.0 688.5L1545.7 691.1L1551.4 688.6L1557.1 686.8L1562.8 684.4L1579.9 687.4L1585.6 685.0L1591.3 684.9L1597.0 685.8L1602.7 687.0L1619.9 687.4L1625.6 689.8L1631.3 690.2L1637.0 688.3L1642.7 688.9L1659.8 691.4L1665.5 689.9L1671.2 685.5L1676.9 685.9L1682.6 686.6L1699.7 681.1L1705.5 684.3L1711.2 690.0L1716.9 689.0L1722.6 691.4L1739.7 687.1L1745.4 683.1L1751.1 683.8L1756.8 680.9L1762.5 682.2L1779.6 683.0L1785.3 684.7L1791.1 687.7L1796.8 687.4L1802.5 688.8L1819.6 691.8L1825.3 691.6L1831.0 690.1L1836.7 691.7L1842.4 693.5L1859.5 686.8L1865.2 688.1L1871.0 687.3L1876.7 687.4L1882.4 686.3L1899.5 689.2L1905.2 689.8L1910.9 683.6L1916.6 683.4L1922.3 683.0L1939.4 681.6L1945.1 684.5L1950.8 687.3L1956.6 688.0L1962.3 687.9L1979.4 690.2L1985.1 687.4L1990.8 688.2L1996.5 686.8L2002.2 687.0L2019.3 688.2L2025.0 684.6L2030.7 687.1L2036.4 686.0L2042.2 687.4L2059.3 688.2L2065.0 684.4L2116.3 685.5L2122.1 684.2L2139.2 683.4L2144.9 680.4L2150.6 684.3L2156.3 686.4L2162.0 684.4L2179.1 685.0L2184.8 686.5L2190.5 687.0L2196.2 690.2L2201.9 690.4L2219.1 688.3L2224.8 694.9L2230.5 694.4L2236.2 693.9L2241.9 696.5L2259.0 694.7L2264.7 696.2L2270.4 691.4L2276.1 690.9L2281.8 688.5L2299.0 695.3L2304.7 696.4L2310.4 696.6L2316.1 693.4L2321.8 694.0L2338.9 699.4L2344.6 696.9L2350.3 692.4L2356.0 691.4L2361.7 691.1L2378.9 689.1L2384.6 688.8L2390.3 690.7L2396.0 698.1L2401.7 690.9L2418.8 687.4L2424.5 693.7L2430.2 696.4L2435.9 692.0L2441.6 693.5L2458.8 695.9L2464.5 698.8L2470.2 699.6L2475.9 698.4L2481.6 696.2L2498.7 694.6L2504.4 695.4L2510.1 691.3L2515.8 696.8L2521.5 691.5L2538.7 698.3L2544.4 694.6L2550.1 698.5L2555.8 696.7L2561.5 690.0L2578.6 694.6L2584.3 689.2L2590.0 694.4L2618.5 692.9L2624.3 695.2L2630.0 697.1L2635.7 695.3L2641.4 700.0L2658.5 699.8L2664.2 697.4L2669.9 703.0L2675.6 703.6L2681.3 700.0L2698.4 701.0L2704.1 705.6L2709.9 697.6L2715.6 701.7L2721.3 694.8L2738.4 699.2L2744.1 696.2L2749.8 694.7L2755.5 698.1L2761.2 698.3L2778.3 701.9L2784.0 700.3L2789.8 700.9L2795.5 698.1L2801.2 698.0"/>
<path stroke="#9467bd" d="M518.4 588.0L524.1 665.7L541.3 718.5L547.0 709.7L552.7 666.4L558.4 649.4L564.1 656.0L581.2 672.5L586.9 710.8L592.6 771.1L598.3 732.0L604.0 698.5L621.2 696.8L626.9 696.5L632.6 679.0L638.3 648.9L644.0 654.6L661.1 659.0L712.5 652.9L718.2 663.4L723.9 634.9L741.0 618.6L746.7 618.6L752.4 601.1L758.1 637.0L763.8 654.9L780.9 645.7L786.7 628.8L792.4 647.7L798.1 661.1L803.8 667.9L820.9 686.3L826.6 643.0L832.3 657.1L838.0 650.4L843.7 637.7L860.8 629.1L866.6 639.2L872.3 646.9L878.0 629.3L883.7 637.0L900.8 608.6L906.5 599.6L912.2 585.2L917.9 582.3L923.6 580.1L940.7 567.5L946.4 575.8L952.2 567.1L957.9 581.3L963.6 588.8L980.7 595.4L986.4 601.6L992.1 594.1L997.8 620.9L1003.5 598.2L1020.6 598.8L1026.3 581.7L1032.0 585.4L1037.8 593.4L1060.6 568.9L1066.3 581.3L1072.0 594.6L1077.7 580.3L1083.4 597.4L1100.5 585.2L1106.2 610.3L1111.9 612.7L1117.7 609.4L1123.4 589.9L1140.5 605.5L1146.2 603.4L1151.9 583.4L1157.6 597.0L1163.3 612.4L1180.4 610.9L1186.1 592.8L1191.8 588.5L1226.1 602.0L1231.8 611.2L1237.5 624.1L1243.2 605.7L1260.3 612.2L1266.0 598.3L1271.7 589.5L1277.4 599.7L1283.2 599.6L1300.3 590.1L1306.0 578.4L1311.7 594.6L1317.4 585.0L1323.1 611.1L1340.2 606.9L1345.9 607.1L1351.6 598.0L1357.3 579.5L1363.0 587.2L1385.9 583.5L1391.6 576.5L1397.3 593.7L1403.0 611.5L1420.1 612.9L1425.8 621.4L1431.5 629.0L1437.2 615.6L1442.9 614.3L1460.1 611.5L1465.8 610.4L1471.5 576.1L1477.2 567.6L1482.9 580.7L1500.0 579.2L1505.7 577.1L1511.4 575.0L1517.1 573.2L1522.8 573.4L1540.0 592.3L1545.7 572.6L1551.4 596.7L1557.1 604.5L1562.8 612.7L1579.9 594.7L1585.6 603.1L1591.3 604.3L1597.0 598.9L1602.7 610.0L1619.9 598.1L1625.6 590.9L1631.3 595.8L1637.0 604.2L1642.7 599.0L1659.8 590.3L1665.5 584.8L1671.2 583.2L1676.9 573.8L1682.6 576.6L1699.7 580.4L1705.5 572.0L1711.2 566.5L1716.9 580.8L1722.6 582.1L1739.7 580.4L1745.4 576.8L1751.1 577.9L1756.8 561.0L1762.5 573.1L1779.6 570.1L1785.3 566.1L1791.1 559.6L1796.8 559.3L1802.5 566.5L1819.6 586.6L1825.3 573.1L1831.0 581.7L1836.7 553.9L1842.4 587.1L1859.5 554.0L1865.2 575.5L1871.0 585.1L1876.7 587.7L1882.4 586.5L1899.5 551.3L1905.2 547.6L1910.9 559.0L1916.6 572.9L1922.3 596.0L1939.4 593.7L1945.1 579.2L1950.8 578.2L1956.6 583.2L1962.3 579.3L1979.4 572.5L1985.1 574.9L1990.8 576.4L1996.5 577.9L2002.2 579.2L2019.3 586.2L2025.0 569.9L2030.7 590.4L2036.4 582.1L2042.2 582.1L2059.3 598.6L2065.0 603.8L2116.3 590.8L2122.1 603.1L2139.2 614.0L2144.9 605.9L2150.6 654.7L2156.3 658.6L2162.0 650.3L2179.1 660.2L2184.8 651.6L2190.5 613.5L2196.2 602.8L2201.9 574.5L2219.1 536.5L2224.8 529.7L2230.5 544.3L2236.2 573.5L2241.9 577.7L2259.0 589.3L2264.7 601.6L2270.4 601.6L2276.1 594.9L2281.8 587.4L2299.0 584.5L2304.7 579.6L2310.4 584.8L2316.1 593.1L2321.8 593.6L2338.9 591.5L2344.6 590.2L2350.3 582.6L2356.0 558.7L2361.7 547.0L2378.9 544.0L2384.6 550.0L2390.3 558.4L2396.0 547.7L2401.7 577.9L2418.8 572.7L2424.5 575.3L2430.2 579.6L2435.9 574.6L2441.6 589.5L2458.8 560.5L2464.5 556.8L2470.2 566.9L2475.9 572.8L2481.6 577.2L2498.7 565.5L2504.4 569.7L2510.1 568.1L2515.8 568.9L2521.5 572.7L2538.7 589.2L2544.4 602.0L2550.1 600.4L2555.8 591.1L2561.5 588.9L2578.6 596.7L2584.3 593.3L2590.0 591.6L2618.5 607.8L2624.3 591.9L2630.0 595.2L2635.7 606.2L2641.4 606.8L2658.5 606.8L2664.2 594.3L2669.9 605.7L2675.6 610.6L2681.3 602.8L2698.4 573.6L2704.1 571.2L2709.9 574.2L2715.6 582.1L2721.3 591.9L2738.4 578.4L2744.1 576.3L2749.8 570.8L2755.5 592.6L2761.2 607.0L2778.3 606.9L2784.0 592.0L2789.8 581.6L2795.5 579.0L2801.2 568.6"/>
<path stroke="#8c564b" d="M518.6 468.6L524.8 346.8L541.0 321.5L547.2 349.3L550.9 338.1L558.4 375.4L574.5 368.0L582.0 381.6L587.0 411.4L593.2 376.6L596.9 401.5L603.1 433.8L621.7 427.6L626.7 411.4L634.2 366.7L639.1 360.5L644.8 368.7L661.5 356.8L677.6 357.3L713.7 359.8L718.6 355.5L724.3 340.6L742.2 348.1L747.2 386.6L752.9 409.7L759.1 418.9L764.6 463.6L781.5 441.7L787.0 418.4L793.2 412.7L798.6 394.0L804.3 404.7L821.7 386.1L827.5 431.3L833.7 463.6L839.1 520.7L844.6 577.6L863.2 579.6L878.9 468.6L884.6 507.8L902.5 522.0L907.5 522.0L924.3 449.9L947.2 499.6L952.7 505.8L959.1 555.5L964.1 538.1L982.0 530.7L987.0 512.0L998.1 538.1L1004.3 503.4L1021.2 438.8L1027.2 469.8L1038.6 452.4L1061.5 438.8L1067.0 458.6L1072.7 451.9L1101.2 479.8L1107.0 483.0L1112.9 461.9L1118.6 499.6L1124.3 486.0L1140.0 523.2L1147.0 527.7L1152.9 520.7L1157.9 460.6L1163.9 462.4L1181.0 428.8L1186.7 460.6L1192.2 461.1L1227.0 476.5L1232.4 495.9L1238.4 509.6L1243.9 477.3L1261.0 471.6L1266.7 474.8L1272.9 490.9L1278.5 556.9L1284.1 611.4L1301.4 617.9L1307.0 621.8L1312.6 576.5L1317.6 532.7L1323.4 531.9L1340.7 526.2L1346.7 495.9L1352.4 479.0L1357.9 483.5L1363.6 449.2L1386.5 451.9L1392.2 413.9L1397.9 390.8L1403.9 417.4L1420.7 418.1L1427.0 401.0L1432.7 370.9L1438.1 364.2L1443.6 335.7L1461.0 356.3L1466.7 392.8L1472.2 406.5L1477.9 417.6L1483.6 407.0L1500.7 416.4L1506.5 368.0L1512.2 369.7L1517.6 364.2L1540.5 394.0L1546.7 379.1L1557.9 464.8L1563.6 449.9L1581.0 455.7L1586.7 485.5L1592.7 476.0L1597.9 464.8L1603.6 439.3L1620.7 479.0L1626.5 435.8L1637.6 456.9L1643.6 440.0L1661.0 409.4L1666.2 410.4L1672.2 423.9L1677.9 363.0L1683.4 346.8L1700.2 307.1L1706.5 278.5L1712.2 303.9L1717.6 262.4L1723.4 269.8L1740.7 261.9L1746.2 323.2L1751.9 356.8L1757.9 378.6L1763.6 351.8L1780.0 319.5L1791.9 368.0L1797.9 327.0L1803.6 299.6L1820.5 251.2L1826.5 263.6L1832.2 279.8L1837.6 315.8L1843.4 310.3L1860.0 344.3L1865.7 353.0L1871.9 325.7L1877.4 260.6L1883.1 288.4L1900.2 359.8L1906.0 340.6L1911.7 346.8L1917.9 364.2L1923.1 404.5L1940.2 445.0L1946.0 469.8L1951.4 477.3L1957.6 459.9L1963.4 454.9L1980.7 430.1L1986.2 399.0L1991.7 356.3L1997.4 353.0L2002.9 329.4L2019.8 312.8L2025.5 336.9L2031.4 382.1L2037.1 369.7L2042.9 388.6L2060.0 358.8L2065.7 429.3L2117.1 429.3L2122.9 415.2L2139.8 415.2L2145.7 430.8L2151.4 463.6L2157.1 420.9L2163.1 401.0L2180.0 411.9L2185.7 396.0L2191.7 394.0L2196.9 374.2L2202.9 413.9L2219.8 504.6L2225.5 506.3L2230.9 447.5L2237.1 416.4L2242.6 411.4L2260.0 448.2L2265.7 444.5L2271.4 490.9L2276.9 525.7L2282.6 545.1L2299.2 595.6L2305.1 539.5L2311.0 504.0L2316.5 533.9L2339.5 543.7L2345.3 479.7L2350.9 455.6L2356.8 500.3L2362.7 459.3L2380.0 474.9L2385.6 512.1L2391.7 530.8L2397.0 529.1L2402.6 560.7L2420.0 571.0L2425.5 539.7L2431.1 515.1L2437.0 513.2L2442.6 525.2L2459.4 529.1L2465.0 520.7L2470.6 483.2L2476.4 467.5L2482.1 477.3L2499.5 449.2L2505.2 384.7L2510.8 355.9L2516.5 417.8L2539.3 480.7L2545.0 482.8L2550.9 463.3L2556.5 424.5L2562.2 367.9L2579.2 348.0L2585.0 370.0L2590.7 393.0L2619.0 371.7L2624.7 283.0L2630.5 264.7L2636.2 322.4L2642.1 339.2L2659.2 295.1L2664.7 325.3L2670.4 329.5L2676.2 344.8L2681.9 310.6L2699.1 345.2L2704.5 407.7L2710.2 465.4L2716.1 502.1L2721.7 508.3L2738.9 489.5L2744.8 466.4L2750.4 433.9L2756.3 432.5L2762.0 423.4L2779.0 462.2L2784.6 510.0L2790.5 476.9L2796.1 431.4L2802.0 465.4"/>
<path stroke="#e377c2" d="M518.4 845.9L524.1 804.1L541.3 759.4L547.0 797.2L552.7 807.0L558.4 793.9L564.1 775.8L581.2 714.9L586.9 729.0L592.6 699.3L598.3 667.7L604.0 714.3L621.2 738.7L626.9 765.1L632.6 734.8L638.3 739.9L644.0 713.7L661.1 718.8L712.5 727.0L718.2 694.3L723.9 684.9L741.0 719.1L746.7 675.8L752.4 667.0L758.1 678.0L763.8 680.0L780.9 671.3L786.7 675.6L792.4 660.4L798.1 662.0L803.8 670.2L820.9 682.2L826.6 691.2L832.3 672.1L838.0 676.2L843.7 694.8L860.8 677.8L866.6 788.2L872.3 812.8L878.0 776.3L883.7 786.0L900.8 760.1L906.5 781.4L912.2 779.0L917.9 790.3L923.6 789.6L940.7 768.3L946.4 753.0L952.2 768.0L957.9 759.0L963.6 768.6L980.7 803.6L986.4 781.9L992.1 774.1L997.8 797.5L1003.5 761.6L1020.6 778.4L1026.3 708.9L1032.0 749.1L1037.8 739.5L1060.6 753.4L1066.3 792.7L1072.0 792.8L1077.7 774.1L1083.4 781.8L1100.5 766.0L1106.2 786.4L1111.9 735.1L1117.7 744.8L1123.4 758.1L1140.5 715.0L1146.2 774.7L1151.9 758.5L1157.6 730.0L1163.3 733.6L1180.4 756.9L1186.1 784.3L1191.8 794.4L1226.1 782.0L1231.8 756.4L1237.5 740.9L1243.2 758.5L1260.3 754.9L1266.0 806.1L1271.7 816.4L1277.4 807.4L1283.2 817.8L1300.3 836.7L1306.0 823.4L1311.7 773.6L1317.4 780.9L1323.1 752.8L1340.2 766.0L1345.9 762.0L1351.6 778.2L1357.3 788.2L1363.0 801.5L1385.9 803.4L1391.6 779.9L1397.3 777.7L1403.0 785.4L1420.1 784.7L1425.8 788.9L1431.5 808.3L1437.2 779.9L1442.9 768.2L1460.1 788.4L1465.8 801.5L1471.5 830.5L1477.2 774.0L1482.9 762.8L1500.0 796.9L1505.7 805.2L1511.4 778.0L1517.1 760.8L1522.8 766.2L1540.0 755.2L1545.7 756.1L1551.4 758.6L1557.1 756.4L1562.8 761.7L1579.9 756.7L1585.6 771.7L1591.3 790.6L1597.0 803.2L1602.7 768.3L1619.9 763.3L1625.6 768.5L1631.3 789.7L1637.0 762.8L1642.7 784.5L1659.8 743.9L1665.5 765.9L1671.2 784.8L1676.9 758.9L1682.6 728.3L1699.7 741.8L1705.5 733.9L1711.2 705.5L1716.9 748.8L1722.6 736.5L1739.7 745.2L1745.4 768.4L1751.1 768.0L1756.8 762.4L1762.5 749.2L1779.6 745.6L1785.3 747.2L1791.1 722.6L1796.8 695.1L1802.5 657.5L1819.6 682.3L1825.3 704.2L1831.0 735.8L1836.7 746.4L1842.4 723.4L1859.5 758.6L1865.2 747.2L1871.0 751.1L1876.7 770.5L1882.4 794.4L1899.5 793.0L1905.2 775.5L1910.9 688.4L1916.6 701.6L1922.3 708.1L1939.4 710.0L1945.1 754.2L1950.8 759.9L1956.6 763.0L1962.3 755.4L1979.4 790.2L1985.1 797.2L1990.8 780.8L1996.5 767.8L2002.2 749.5L2019.3 754.2L2025.0 752.6L2030.7 723.2L2036.4 762.6L2042.2 751.5L2059.3 776.3L2065.0 743.2L2116.3 740.5L2122.1 753.0L2139.2 731.3L2144.9 711.8L2150.6 742.5L2156.3 741.6L2162.0 723.2L2179.1 739.1L2184.8 762.5L2190.5 764.1L2196.2 727.1L2201.9 770.6L2219.1 742.1L2224.8 737.6L2230.5 773.3L2236.2 757.6L2241.9 760.7L2259.0 763.3L2264.7 736.6L2270.4 752.1L2276.1 782.8L2281.8 772.5L2299.0 742.9L2304.7 728.4L2310.4 773.4L2316.1 733.1L2321.8 767.0L2338.9 755.9L2344.6 745.8L2350.3 764.5L2356.0 763.4L2361.7 757.4L2378.9 774.4L2384.6 739.6L2390.3 740.9L2396.0 753.4L2401.7 745.8L2418.8 761.0L2424.5 768.4L2430.2 777.0L2435.9 777.1L2441.6 778.8L2458.8 790.8L2464.5 767.0L2470.2 776.0L2475.9 802.3L2481.6 793.2L2498.7 797.3L2504.4 806.7L2510.1 821.0L2515.8 805.2L2521.5 822.3L2538.7 802.7L2544.4 816.6L2550.1 799.3L2555.8 788.1L2561.5 775.7L2578.6 783.2L2584.3 789.3L2590.0 763.7L2618.5 782.7L2624.3 773.8L2630.0 789.6L2635.7 785.0L2641.4 796.9L2658.5 770.1L2664.2 745.2L2669.9 759.3L2675.6 735.8L2681.3 747.3L2698.4 778.7L2704.1 734.1L2709.9 736.9L2715.6 762.0L2721.3 756.7L2738.4 766.8L2744.1 778.2L2749.8 752.5L2755.5 763.3L2761.2 734.0L2778.3 699.7L2784.0 742.8L2789.8 760.4L2795.5 715.9L2801.2 702.0"/>
<path stroke="#7f7f7f" d="M518.4 753.5L524.1 746.0L541.3 753.4L547.0 732.8L552.7 729.2L558.4 731.7L564.1 736.1L581.2 731.4L586.9 727.7L592.6 724.8L598.3 719.6L604.0 717.9L621.2 720.0L626.9 713.8L632.6 711.1L638.3 713.2L644.0 711.0L661.1 710.9L712.5 708.9L718.2 703.7L723.9 706.1L741.0 701.6L746.7 702.9L752.4 704.3L758.1 704.4L763.8 707.4L780.9 707.4L786.7 704.7L792.4 702.8L798.1 702.6L803.8 704.4L820.9 701.0L826.6 707.9L832.3 706.0L838.0 704.4L843.7 702.5L860.8 701.8L866.6 703.8L872.3 703.5L878.0 705.2L883.7 705.8L900.8 700.7L906.5 705.3L912.2 705.5L917.9 702.8L923.6 704.6L940.7 699.8L946.4 705.1L952.2 702.6L957.9 706.1L963.6 702.9L980.7 704.1L986.4 699.0L992.1 702.7L997.8 701.2L1003.5 701.0L1020.6 699.0L1026.3 702.5L1032.0 699.4L1037.8 702.9L1060.6 700.1L1066.3 703.1L1072.0 701.6L1077.7 704.3L1083.4 707.6L1100.5 710.5L1106.2 708.3L1111.9 703.5L1117.7 702.3L1123.4 699.9L1140.5 699.2L1146.2 701.3L1151.9 700.1L1157.6 703.1L1163.3 704.2L1180.4 706.4L1186.1 708.6L1191.8 705.3L1226.1 705.7L1231.8 698.3L1237.5 696.6L1243.2 702.4L1260.3 705.2L1266.0 706.9L1271.7 705.0L1277.4 705.1L1283.2 705.1L1300.3 703.6L1306.0 702.9L1311.7 706.8L1317.4 708.6L1323.1 701.5L1340.2 702.3L1345.9 704.5L1351.6 701.5L1357.3 704.6L1363.0 704.5L1385.9 708.4L1391.6 703.5L1397.3 701.3L1403.0 701.3L1420.1 700.3L1425.8 701.1L1431.5 701.5L1437.2 703.7L1442.9 700.0L1460.1 703.0L1465.8 699.4L1471.5 701.3L1477.2 702.3L1482.9 697.9L1500.0 697.3L1505.7 695.7L1511.4 694.2L1517.1 694.1L1522.8 696.4L1540.0 696.2L1545.7 693.5L1551.4 698.9L1557.1 699.4L1562.8 701.0L1579.9 699.6L1585.6 705.1L1591.3 702.5L1597.0 708.3L1602.7 710.6L1619.9 705.7L1625.6 709.2L1631.3 707.8L1637.0 705.6L1642.7 706.4L1659.8 706.4L1665.5 708.7L1671.2 705.1L1676.9 707.6L1682.6 708.1L1699.7 709.2L1705.5 706.6L1711.2 708.8L1716.9 704.1L1722.6 703.8L1739.7 704.4L1745.4 707.0L1751.1 709.1L1756.8 707.0L1762.5 701.6L1779.6 702.3L1785.3 701.9L1791.1 704.2L1796.8 703.6L1802.5 702.2L1819.6 704.5L1825.3 700.6L1831.0 698.7L1836.7 701.5L1842.4 702.7L1859.5 702.4L1865.2 700.5L1871.0 701.9L1876.7 703.6L1882.4 700.9L1899.5 701.1L1905.2 698.7L1910.9 697.8L1916.6 695.9L1922.3 699.5L1939.4 697.9L1945.1 700.3L1950.8 699.1L1956.6 700.5L1962.3 699.9L1979.4 700.9L1985.1 697.6L1990.8 696.4L1996.5 696.6L2002.2 699.8L2019.3 697.3L2025.0 696.4L2030.7 702.3L2036.4 701.2L2042.2 703.0L2059.3 699.9L2065.0 697.9L2116.3 698.7L2122.1 696.8L2139.2 699.6L2144.9 699.5L2150.6 697.2L2156.3 697.8L2162.0 701.4L2179.1 702.4L2184.8 702.5L2190.5 702.0L2196.2 700.7L2201.9 701.9L2219.1 703.7L2224.8 701.8L2230.5 700.6L2236.2 703.0L2241.9 697.3L2259.0 696.1L2264.7 697.3L2270.4 697.6L2276.1 703.4L2281.8 695.5L2299.0 699.9L2304.7 700.6L2310.4 699.2L2316.1 695.0L2321.8 698.9L2338.9 699.3L2344.6 700.4L2350.3 696.9L2356.0 701.8L2361.7 697.1L2378.9 698.8L2384.6 700.5L2390.3 703.6L2396.0 700.2L2401.7 700.5L2418.8 702.4L2424.5 700.1L2430.2 698.2L2435.9 698.7L2441.6 702.3L2458.8 702.6L2464.5 698.2L2470.2 698.2L2475.9 701.4L2481.6 701.6L2498.7 698.2L2504.4 706.2L2510.1 707.2L2515.8 705.6L2521.5 702.7L2538.7 701.2L2544.4 700.1L2550.1 697.5L2555.8 697.1L2561.5 697.9L2578.6 699.6L2584.3 699.2L2590.0 696.5L2618.5 699.7L2624.3 696.7L2630.0 695.7L2635.7 702.4L2641.4 699.9L2658.5 696.5L2664.2 704.1L2669.9 704.4L2675.6 697.6L2681.3 699.6L2698.4 703.2L2704.1 702.9L2709.9 704.6L2715.6 703.8L2721.3 704.9L2738.4 702.0L2744.1 703.7L2749.8 703.3L2755.5 709.3L2761.2 708.3L2778.3 707.4L2784.0 707.2L2789.8 715.3L2795.5 709.8L2801.2 708.0"/>
<path stroke="#bcbd22" d="M518.4 796.7L524.1 760.3L541.3 781.9L547.0 755.0L552.7 718.6L558.4 742.8L564.1 787.0L581.2 791.5L586.9 769.2L592.6 723.0L598.3 725.5L604.0 683.8L621.2 703.2L626.9 692.8L632.6 661.7L638.3 646.3L644.0 645.9L661.1 647.4L712.5 688.6L718.2 696.6L723.9 691.1L741.0 677.1L746.7 664.7L752.4 660.5L758.1 650.5L763.8 659.1L780.9 645.8L786.7 646.4L792.4 672.7L798.1 667.2L803.8 702.6L820.9 700.9L826.6 681.0L832.3 682.3L838.0 704.0L843.7 721.1L860.8 705.1L866.6 705.6L872.3 706.4L878.0 702.1L883.7 694.6L900.8 688.5L906.5 684.5L912.2 689.7L917.9 689.3L923.6 697.6L940.7 697.5L946.4 702.6L952.2 687.8L957.9 699.6L963.6 679.8L980.7 719.2L986.4 705.8L992.1 701.8L997.8 678.0L1003.5 675.8L1020.6 668.1L1026.3 654.5L1032.0 649.3L1037.8 659.7L1060.6 648.2L1066.3 638.1L1072.0 653.9L1077.7 674.5L1083.4 674.6L1100.5 666.3L1106.2 691.5L1111.9 693.4L1117.7 677.6L1123.4 695.9L1140.5 692.1L1146.2 686.1L1151.9 694.8L1157.6 675.1L1163.3 691.7L1180.4 695.7L1186.1 713.0L1191.8 709.9L1226.1 713.2L1231.8 724.4L1237.5 728.4L1243.2 703.6L1260.3 693.1L1266.0 678.5L1271.7 691.9L1277.4 680.9L1283.2 680.6L1300.3 680.2L1306.0 693.3L1311.7 673.5L1317.4 677.0L1323.1 683.7L1340.2 692.9L1345.9 688.5L1351.6 694.4L1357.3 673.3L1363.0 675.9L1385.9 680.5L1391.6 690.9L1397.3 685.6L1403.0 656.4L1420.1 648.4L1425.8 660.4L1431.5 674.6L1437.2 664.5L1442.9 665.9L1460.1 659.2L1465.8 671.4L1471.5 668.2L1477.2 656.4L1482.9 661.9L1500.0 666.8L1505.7 683.3L1511.4 693.1L1517.1 664.8L1522.8 680.1L1540.0 686.1L1545.7 688.7L1551.4 699.6L1557.1 698.1L1562.8 681.4L1579.9 675.3L1585.6 683.4L1591.3 666.3L1597.0 648.0L1602.7 621.3L1619.9 588.9L1625.6 609.3L1631.3 610.9L1637.0 599.5L1642.7 609.2L1659.8 617.2L1665.5 599.9L1671.2 623.1L1676.9 609.4L1682.6 604.2L1699.7 592.2L1705.5 584.4L1711.2 590.9L1716.9 579.2L1722.6 585.1L1739.7 586.9L1745.4 593.6L1751.1 585.6L1756.8 597.3L1762.5 581.0L1779.6 614.1L1785.3 611.6L1791.1 625.7L1796.8 611.5L1802.5 621.5L1819.6 642.9L1825.3 621.9L1831.0 617.0L1836.7 617.7L1842.4 600.8L1859.5 607.6L1865.2 603.9L1871.0 609.1L1876.7 610.7L1882.4 598.1L1899.5 614.7L1905.2 615.7L1910.9 622.4L1916.6 612.7L1922.3 604.1L1939.4 619.5L1945.1 636.9L1950.8 643.7L1956.6 643.2L1962.3 650.0L1979.4 638.4L1985.1 632.7L1990.8 616.1L1996.5 641.9L2002.2 612.4L2019.3 588.1L2025.0 583.4L2030.7 586.4L2036.4 586.6L2042.2 584.9L2059.3 578.2L2065.0 607.4L2116.3 618.4L2122.1 616.2L2139.2 614.6L2144.9 600.5L2150.6 600.6L2156.3 617.7L2162.0 620.2L2179.1 628.6L2184.8 614.3L2190.5 620.6L2196.2 624.5L2201.9 633.6L2219.1 629.2L2224.8 622.7L2230.5 611.0L2236.2 607.9L2241.9 632.2L2259.0 627.7L2264.7 628.0L2270.4 618.1L2276.1 603.5L2281.8 610.3L2299.0 591.8L2304.7 583.1L2310.4 549.9L2316.1 546.3L2321.8 550.3L2338.9 548.3L2344.6 548.9L2350.3 543.7L2356.0 547.6L2361.7 556.3L2378.9 555.7L2384.6 555.1L2390.3 552.0L2396.0 550.2L2401.7 549.3L2418.8 568.0L2424.5 579.4L2430.2 570.3L2435.9 572.5L2441.6 597.9L2458.8 583.2L2464.5 563.3L2470.2 552.9L2475.9 558.8L2481.6 546.2L2498.7 569.5L2504.4 566.2L2510.1 554.2L2515.8 559.6L2521.5 582.6L2538.7 587.7L2544.4 592.1L2550.1 594.7L2555.8 596.8L2561.5 593.5L2578.6 592.8L2584.3 592.2L2590.0 591.5L2618.5 601.0L2624.3 586.2L2630.0 605.0L2635.7 572.6L2641.4 565.1L2658.5 581.0L2664.2 604.2L2669.9 592.9L2675.6 606.4L2681.3 608.7L2698.4 605.6L2704.1 605.4L2709.9 614.5L2715.6 625.2L2721.3 625.8L2738.4 623.7L2744.1 623.2L2749.8 622.7L2755.5 622.2L2761.2 623.1L2778.3 626.2L2784.0 628.2L2789.8 630.2L2795.5 632.3L2801.2 634.4"/>
</g>
<rect x="405.00" y="194.40" width="2511.00" height="1247.40" fill="none" stroke="#000" stroke-width="2"/>
<g stroke="#000" stroke-width="2"><path d="M512.73 1442.80v8.75"/><path d="M849.43 1442.80v8.75"/><path d="M1197.55 1442.80v8.75"/><path d="M1545.66 1442.80v8.75"/><path d="M1899.49 1442.80v8.75"/><path d="M2247.60 1442.80v8.75"/><path d="M2595.72 1442.80v8.75"/><path d="M404.00 198.98h-8.75"/><path d="M404.00 368.11h-8.75"/><path d="M404.00 537.24h-8.75"/><path d="M404.00 706.38h-8.75"/><path d="M404.00 875.51h-8.75"/><path d="M404.00 1044.64h-8.75"/><path d="M404.00 1213.77h-8.75"/><path d="M404.00 1382.90h-8.75"/></g>
<g><text transform="translate(475.23 1476.70) scale(0.850 1)" x="0.00 14.71 29.41 44.12 58.82 73.53 88.24" font-size="24.62" text-anchor="middle" stroke="#000" stroke-width="0.35">2025−01</text></g>
<g><text transform="translate(811.93 1476.70) scale(0.850 1)" x="0.00 14.71 29.41 44.12 58.82 73.53 88.24" font-size="24.62" text-anchor="middle" stroke="#000" stroke-width="0.35">2025−03</text></g>
<g><text transform="translate(1160.05 1476.70) scale(0.850 1)" x="0.00 14.71 29.41 44.12 58.82 73.53 88.24" font-size="24.62" text-anchor="middle" stroke="#000" stroke-width="0.35">2025−05</text></g>
<g><text transform="translate(1508.16 1476.70) scale(0.850 1)" x="0.00 14.71 29.41 44.12 58.82 73.53 88.24" font-size="24.62" text-anchor="middle" stroke="#000" stroke-width="0.35">2025−07</text></g>
<g><text transform="translate(1861.99 1476.70) scale(0.850 1)" x="0.00 14.71 29.41 44.12 58.82 73.53 88.24" font-size="24.62" text-anchor="middle" stroke="#000" stroke-width="0.35">2025−09</text></g>
<g><text transform="translate(2210.10 1476.70) scale(0.850 1)" x="0.00 14.71 29.41 44.12 58.82 73.53 88.24" font-size="24.62" text-anchor="middle" stroke="#000" stroke-width="0.35">2025−11</text></g>
<g><text transform="translate(2558.22 1476.70) scale(0.850 1)" x="0.00 14.71 29.41 44.12 58.82 73.53 88.24" font-size="24.62" text-anchor="middle" stroke="#000" stroke-width="0.35">2026−01</text></g>
<g><text transform="translate(344.25 207.68) scale(0.850 1)" x="0.00 10.44 29.41 44.12" font-size="24.62" text-anchor="middle" stroke="#000" stroke-width="0.35">0.06</text></g>
<g><text transform="translate(344.25 376.81) scale(0.850 1)" x="0.00 10.44 29.41 44.12" font-size="24.62" text-anchor="middle" stroke="#000" stroke-width="0.35">0.04</text></g>
<g><text transform="translate(344.25 545.94) scale(0.850 1)" x="0.00 10.44 29.41 44.12" font-size="24.62" text-anchor="middle" stroke="#000" stroke-width="0.35">0.02</text></g>
<g><text transform="translate(344.25 715.08) scale(0.850 1)" x="0.00 10.44 29.41 44.12" font-size="24.62" text-anchor="middle" stroke="#000" stroke-width="0.35">0.00</text></g>
<g><text transform="translate(331.75 884.21) scale(0.850 1)" x="0.00 14.71 25.15 44.12 58.82" font-size="24.62" text-anchor="middle" stroke="#000" stroke-width="0.35">−0.02</text></g>
<g><text transform="translate(331.75 1053.34) scale(0.850 1)" x="0.00 14.71 25.15 44.12 58.82" font-size="24.62" text-anchor="middle" stroke="#000" stroke-width="0.35">−0.04</text></g>
<g><text transform="translate(331.75 1222.47) scale(0.850 1)" x="0.00 14.71 25.15 44.12 58.82" font-size="24.62" text-anchor="middle" stroke="#000" stroke-width="0.35">−0.06</text></g>
<g><text transform="translate(331.75 1391.60) scale(0.850 1)" x="0.00 14.71 25.15 44.12 58.82" font-size="24.62" text-anchor="middle" stroke="#000" stroke-width="0.35">−0.08</text></g>
<g><text x="1158.5" y="180" font-size="30" textLength="300" lengthAdjust="spacing" stroke="#000" stroke-width="0.2" style="font-family:'Liberation Sans','Noto Sans CJK SC',sans-serif">每日行业超额风险暴露</text><text transform="translate(1461.80 180.00) scale(0.850 1)" x="0.00 44.47 57.88 75.53 93.18 110.82 128.47 146.12 163.76 181.41 194.12 216.71 234.35 252.00 269.65 287.29 304.94 322.59 340.24 353.65 370.59" font-size="28.80" text-anchor="middle" stroke="#000" stroke-width="0.35">,(20250102,20260206),</text><text x="1818.5" y="180" font-size="30" textLength="330" lengthAdjust="spacing" stroke="#000" stroke-width="0.2" style="font-family:'Liberation Sans','Noto Sans CJK SC',sans-serif">数值表示日：区间平均值</text></g>
<rect x="415.0" y="204.0" width="262.5" height="1123.5" rx="4" ry="4" fill="#fff" fill-opacity="0.8" stroke="#ccc" stroke-opacity="0.8" stroke-width="2.5"/>
<g stroke-width="3.75" stroke-linecap="square"><path stroke="#1f77b4" d="M423 222.05h40"/><path stroke="#ff7f0e" d="M423 250.68h40"/><path stroke="#2ca02c" d="M423 279.31h40"/><path stroke="#d62728" d="M423 307.94h40"/><path stroke="#9467bd" d="M423 336.57h40"/><path stroke="#8c564b" d="M423 365.20h40"/><path stroke="#e377c2" d="M423 393.83h40"/><path stroke="#7f7f7f" d="M423 422.46h40"/><path stroke="#bcbd22" d="M423 451.09h40"/><path stroke="#17becf" d="M423 479.72h40"/><path stroke="#1f77b4" d="M423 508.35h40"/><path stroke="#ff7f0e" d="M423 536.98h40"/><path stroke="#2ca02c" d="M423 565.61h40"/><path stroke="#d62728" d="M423 594.24h40"/><path stroke="#9467bd" d="M423 622.87h40"/><path stroke="#8c564b" d="M423 651.50h40"/><path stroke="#e377c2" d="M423 680.13h40"/><path stroke="#7f7f7f" d="M423 708.76h40"/><path stroke="#bcbd22" d="M423 737.39h40"/><path stroke="#17becf" d="M423 766.02h40"/><path stroke="#1f77b4" d="M423 794.65h40"/><path stroke="#ff7f0e" d="M423 823.28h40"/><path stroke="#2ca02c" d="M423 851.91h40"/><path stroke="#d62728" d="M423 880.54h40"/><path stroke="#9467bd" d="M423 909.17h40"/><path stroke="#8c564b" d="M423 937.80h40"/><path stroke="#e377c2" d="M423 966.43h40"/><path stroke="#7f7f7f" d="M423 995.06h40"/><path stroke="#bcbd22" d="M423 1023.69h40"/><path stroke="#17becf" d="M423 1052.32h40"/><path stroke="#1f77b4" d="M423 1080.95h40"/><path stroke="#ff7f0e" d="M423 1109.58h40"/><path stroke="#2ca02c" d="M423 1138.21h40"/><path stroke="#d62728" d="M423 1166.84h40"/><path stroke="#9467bd" d="M423 1195.47h40"/><path stroke="#8c564b" d="M423 1224.10h40"/><path stroke="#e377c2" d="M423 1252.73h40"/><path stroke="#7f7f7f" d="M423 1281.36h40"/><path stroke="#bcbd22" d="M423 1309.99h40"/></g>
<g aria-label="交通运输: 0.01083"><text x="479" y="229.35" font-size="20" stroke="#000" stroke-width="0.2">交通运输</text><text transform="translate(563.70 229.35) scale(0.850 1)" x="0.00 23.88 32.24 47.41 59.18 70.94 82.71 94.47" font-size="19.20" text-anchor="middle" stroke="#000" stroke-width="0.35">:0.01083</text></g>
<g aria-label="休闲服务: 0.00017"><text x="479" y="257.98" font-size="20" stroke="#000" stroke-width="0.2">休闲服务</text><text transform="translate(563.70 257.98) scale(0.850 1)" x="0.00 23.88 32.24 47.41 59.18 70.94 82.71 94.47" font-size="19.20" text-anchor="middle" stroke="#000" stroke-width="0.35">:0.00017</text></g>
<g aria-label="传媒: -0.01009"><text x="479" y="286.61" font-size="20" stroke="#000" stroke-width="0.2">传媒</text><text transform="translate(523.70 286.61) scale(0.850 1)" x="0.00 23.88 35.65 44.00 59.18 70.94 82.71 94.47 106.24" font-size="19.20" text-anchor="middle" stroke="#000" stroke-width="0.35">:−0.01009</text></g>
<g aria-label="公用事业: 0.0173"><text x="479" y="315.24" font-size="20" stroke="#000" stroke-width="0.2">公用事业</text><text transform="translate(563.70 315.24) scale(0.850 1)" x="0.00 23.88 32.24 47.41 59.18 70.94 82.71" font-size="19.20" text-anchor="middle" stroke="#000" stroke-width="0.35">:0.0173</text></g>
<g aria-label="农林牧渔: 3e-05"><text x="479" y="343.87" font-size="20" stroke="#000" stroke-width="0.2">农林牧渔</text><text transform="translate(563.70 343.87) scale(0.850 1)" x="0.00 23.88 35.65 47.41 59.18 70.94" font-size="19.20" text-anchor="middle" stroke="#000" stroke-width="0.35">:3e−05</text></g>
<g aria-label="化工: 0.01107"><text x="479" y="372.50" font-size="20" stroke="#000" stroke-width="0.2">化工</text><text transform="translate(523.70 372.50) scale(0.850 1)" x="0.00 23.88 32.24 47.41 59.18 70.94 82.71 94.47" font-size="19.20" text-anchor="middle" stroke="#000" stroke-width="0.35">:0.01107</text></g>
<g aria-label="医药生物: -0.0128"><text x="479" y="401.13" font-size="20" stroke="#000" stroke-width="0.2">医药生物</text><text transform="translate(563.70 401.13) scale(0.850 1)" x="0.00 23.88 35.65 44.00 59.18 70.94 82.71 94.47" font-size="19.20" text-anchor="middle" stroke="#000" stroke-width="0.35">:−0.0128</text></g>
<g aria-label="商业贸易: -0.00122"><text x="479" y="429.76" font-size="20" stroke="#000" stroke-width="0.2">商业贸易</text><text transform="translate(563.70 429.76) scale(0.850 1)" x="0.00 23.88 35.65 44.00 59.18 70.94 82.71 94.47 106.24" font-size="19.20" text-anchor="middle" stroke="#000" stroke-width="0.35">:−0.00122</text></g>
<g aria-label="商贸零售: -0.00038"><text x="479" y="458.39" font-size="20" stroke="#000" stroke-width="0.2">商贸零售</text><text transform="translate(563.70 458.39) scale(0.850 1)" x="0.00 23.88 35.65 44.00 59.18 70.94 82.71 94.47 106.24" font-size="19.20" text-anchor="middle" stroke="#000" stroke-width="0.35">:−0.00038</text></g>
<g aria-label="国防军工: -0.00675"><text x="479" y="487.02" font-size="20" stroke="#000" stroke-width="0.2">国防军工</text><text transform="translate(563.70 487.02) scale(0.850 1)" x="0.00 23.88 35.65 44.00 59.18 70.94 82.71 94.47 106.24" font-size="19.20" text-anchor="middle" stroke="#000" stroke-width="0.35">:−0.00675</text></g>
<g aria-label="基础化工: -0.00354"><text x="479" y="515.65" font-size="20" stroke="#000" stroke-width="0.2">基础化工</text><text transform="translate(563.70 515.65) scale(0.850 1)" x="0.00 23.88 35.65 44.00 59.18 70.94 82.71 94.47 106.24" font-size="19.20" text-anchor="middle" stroke="#000" stroke-width="0.35">:−0.00354</text></g>
<g aria-label="家用电器: 0.002"><text x="479" y="544.28" font-size="20" stroke="#000" stroke-width="0.2">家用电器</text><text transform="translate(563.70 544.28) scale(0.850 1)" x="0.00 23.88 32.24 47.41 59.18 70.94" font-size="19.20" text-anchor="middle" stroke="#000" stroke-width="0.35">:0.002</text></g>
<g aria-label="建筑材料: 0.00672"><text x="479" y="572.91" font-size="20" stroke="#000" stroke-width="0.2">建筑材料</text><text transform="translate(563.70 572.91) scale(0.850 1)" x="0.00 23.88 32.24 47.41 59.18 70.94 82.71 94.47" font-size="19.20" text-anchor="middle" stroke="#000" stroke-width="0.35">:0.00672</text></g>
<g aria-label="建筑装饰: 0.01257"><text x="479" y="601.54" font-size="20" stroke="#000" stroke-width="0.2">建筑装饰</text><text transform="translate(563.70 601.54) scale(0.850 1)" x="0.00 23.88 32.24 47.41 59.18 70.94 82.71 94.47" font-size="19.20" text-anchor="middle" stroke="#000" stroke-width="0.35">:0.01257</text></g>
<g aria-label="房地产: 0.00889"><text x="479" y="630.17" font-size="20" stroke="#000" stroke-width="0.2">房地产</text><text transform="translate(543.70 630.17) scale(0.850 1)" x="0.00 23.88 32.24 47.41 59.18 70.94 82.71 94.47" font-size="19.20" text-anchor="middle" stroke="#000" stroke-width="0.35">:0.00889</text></g>
<g aria-label="有色金属: -0.00081"><text x="479" y="658.80" font-size="20" stroke="#000" stroke-width="0.2">有色金属</text><text transform="translate(563.70 658.80) scale(0.850 1)" x="0.00 23.88 35.65 44.00 59.18 70.94 82.71 94.47 106.24" font-size="19.20" text-anchor="middle" stroke="#000" stroke-width="0.35">:−0.00081</text></g>
<g aria-label="机械设备: -0.01076"><text x="479" y="687.43" font-size="20" stroke="#000" stroke-width="0.2">机械设备</text><text transform="translate(563.70 687.43) scale(0.850 1)" x="0.00 23.88 35.65 44.00 59.18 70.94 82.71 94.47 106.24" font-size="19.20" text-anchor="middle" stroke="#000" stroke-width="0.35">:−0.01076</text></g>
<g aria-label="汽车: -0.00436"><text x="479" y="716.06" font-size="20" stroke="#000" stroke-width="0.2">汽车</text><text transform="translate(523.70 716.06) scale(0.850 1)" x="0.00 23.88 35.65 44.00 59.18 70.94 82.71 94.47 106.24" font-size="19.20" text-anchor="middle" stroke="#000" stroke-width="0.35">:−0.00436</text></g>
<g aria-label="煤炭: 0.00998"><text x="479" y="744.69" font-size="20" stroke="#000" stroke-width="0.2">煤炭</text><text transform="translate(523.70 744.69) scale(0.850 1)" x="0.00 23.88 32.24 47.41 59.18 70.94 82.71 94.47" font-size="19.20" text-anchor="middle" stroke="#000" stroke-width="0.35">:0.00998</text></g>
<g aria-label="环保: 0.00484"><text x="479" y="773.32" font-size="20" stroke="#000" stroke-width="0.2">环保</text><text transform="translate(523.70 773.32) scale(0.850 1)" x="0.00 23.88 32.24 47.41 59.18 70.94 82.71 94.47" font-size="19.20" text-anchor="middle" stroke="#000" stroke-width="0.35">:0.00484</text></g>
<g aria-label="电力设备: -0.00206"><text x="479" y="801.95" font-size="20" stroke="#000" stroke-width="0.2">电力设备</text><text transform="translate(563.70 801.95) scale(0.850 1)" x="0.00 23.88 35.65 44.00 59.18 70.94 82.71 94.47 106.24" font-size="19.20" text-anchor="middle" stroke="#000" stroke-width="0.35">:−0.00206</text></g>
<g aria-label="电子: -0.05094"><text x="479" y="830.58" font-size="20" stroke="#000" stroke-width="0.2">电子</text><text transform="translate(523.70 830.58) scale(0.850 1)" x="0.00 23.88 35.65 44.00 59.18 70.94 82.71 94.47 106.24" font-size="19.20" text-anchor="middle" stroke="#000" stroke-width="0.35">:−0.05094</text></g>
<g aria-label="电子元器件: 0.00035"><text x="479" y="859.21" font-size="20" stroke="#000" stroke-width="0.2">电子元器件</text><text transform="translate(583.70 859.21) scale(0.850 1)" x="0.00 23.88 32.24 47.41 59.18 70.94 82.71 94.47" font-size="19.20" text-anchor="middle" stroke="#000" stroke-width="0.35">:0.00035</text></g>
<g aria-label="电气设备: -0.00825"><text x="479" y="887.84" font-size="20" stroke="#000" stroke-width="0.2">电气设备</text><text transform="translate(563.70 887.84) scale(0.850 1)" x="0.00 23.88 35.65 44.00 59.18 70.94 82.71 94.47 106.24" font-size="19.20" text-anchor="middle" stroke="#000" stroke-width="0.35">:−0.00825</text></g>
<g aria-label="石油石化: 0.01164"><text x="479" y="916.47" font-size="20" stroke="#000" stroke-width="0.2">石油石化</text><text transform="translate(563.70 916.47) scale(0.850 1)" x="0.00 23.88 32.24 47.41 59.18 70.94 82.71 94.47" font-size="19.20" text-anchor="middle" stroke="#000" stroke-width="0.35">:0.01164</text></g>
<g aria-label="社会服务: 0.00173"><text x="479" y="945.10" font-size="20" stroke="#000" stroke-width="0.2">社会服务</text><text transform="translate(563.70 945.10) scale(0.850 1)" x="0.00 23.88 32.24 47.41 59.18 70.94 82.71 94.47" font-size="19.20" text-anchor="middle" stroke="#000" stroke-width="0.35">:0.00173</text></g>
<g aria-label="纺织服装: 0.00286"><text x="479" y="973.73" font-size="20" stroke="#000" stroke-width="0.2">纺织服装</text><text transform="translate(563.70 973.73) scale(0.850 1)" x="0.00 23.88 32.24 47.41 59.18 70.94 82.71 94.47" font-size="19.20" text-anchor="middle" stroke="#000" stroke-width="0.35">:0.00286</text></g>
<g aria-label="纺织服饰: 0.00052"><text x="479" y="1002.36" font-size="20" stroke="#000" stroke-width="0.2">纺织服饰</text><text transform="translate(563.70 1002.36) scale(0.850 1)" x="0.00 23.88 32.24 47.41 59.18 70.94 82.71 94.47" font-size="19.20" text-anchor="middle" stroke="#000" stroke-width="0.35">:0.00052</text></g>
<g aria-label="综合: 0.00031"><text x="479" y="1030.99" font-size="20" stroke="#000" stroke-width="0.2">综合</text><text transform="translate(523.70 1030.99) scale(0.850 1)" x="0.00 23.88 32.24 47.41 59.18 70.94 82.71 94.47" font-size="19.20" text-anchor="middle" stroke="#000" stroke-width="0.35">:0.00031</text></g>
<g aria-label="美容护理: 0.00212"><text x="479" y="1059.62" font-size="20" stroke="#000" stroke-width="0.2">美容护理</text><text transform="translate(563.70 1059.62) scale(0.850 1)" x="0.00 23.88 32.24 47.41 59.18 70.94 82.71 94.47" font-size="19.20" text-anchor="middle" stroke="#000" stroke-width="0.35">:0.00212</text></g>
<g aria-label="计算机: -0.0302"><text x="479" y="1088.25" font-size="20" stroke="#000" stroke-width="0.2">计算机</text><text transform="translate(543.70 1088.25) scale(0.850 1)" x="0.00 23.88 35.65 44.00 59.18 70.94 82.71 94.47" font-size="19.20" text-anchor="middle" stroke="#000" stroke-width="0.35">:−0.0302</text></g>
<g aria-label="轻工制造: 0.00762"><text x="479" y="1116.88" font-size="20" stroke="#000" stroke-width="0.2">轻工制造</text><text transform="translate(563.70 1116.88) scale(0.850 1)" x="0.00 23.88 32.24 47.41 59.18 70.94 82.71 94.47" font-size="19.20" text-anchor="middle" stroke="#000" stroke-width="0.35">:0.00762</text></g>
<g aria-label="通信: -0.01528"><text x="479" y="1145.51" font-size="20" stroke="#000" stroke-width="0.2">通信</text><text transform="translate(523.70 1145.51) scale(0.850 1)" x="0.00 23.88 35.65 44.00 59.18 70.94 82.71 94.47 106.24" font-size="19.20" text-anchor="middle" stroke="#000" stroke-width="0.35">:−0.01528</text></g>
<g aria-label="钢铁: 0.00167"><text x="479" y="1174.14" font-size="20" stroke="#000" stroke-width="0.2">钢铁</text><text transform="translate(523.70 1174.14) scale(0.850 1)" x="0.00 23.88 32.24 47.41 59.18 70.94 82.71 94.47" font-size="19.20" text-anchor="middle" stroke="#000" stroke-width="0.35">:0.00167</text></g>
<g aria-label="银行: 0.01157"><text x="479" y="1202.77" font-size="20" stroke="#000" stroke-width="0.2">银行</text><text transform="translate(523.70 1202.77) scale(0.850 1)" x="0.00 23.88 32.24 47.41 59.18 70.94 82.71 94.47" font-size="19.20" text-anchor="middle" stroke="#000" stroke-width="0.35">:0.01157</text></g>
<g aria-label="非银金融: 0.03265"><text x="479" y="1231.40" font-size="20" stroke="#000" stroke-width="0.2">非银金融</text><text transform="translate(563.70 1231.40) scale(0.850 1)" x="0.00 23.88 32.24 47.41 59.18 70.94 82.71 94.47" font-size="19.20" text-anchor="middle" stroke="#000" stroke-width="0.35">:0.03265</text></g>
<g aria-label="食品饮料: -0.00563"><text x="479" y="1260.03" font-size="20" stroke="#000" stroke-width="0.2">食品饮料</text><text transform="translate(563.70 1260.03) scale(0.850 1)" x="0.00 23.88 35.65 44.00 59.18 70.94 82.71 94.47 106.24" font-size="19.20" text-anchor="middle" stroke="#000" stroke-width="0.35">:−0.00563</text></g>
<g aria-label="餐饮旅游: 0.00031"><text x="479" y="1288.66" font-size="20" stroke="#000" stroke-width="0.2">餐饮旅游</text><text transform="translate(563.70 1288.66) scale(0.850 1)" x="0.00 23.88 32.24 47.41 59.18 70.94 82.71 94.47" font-size="19.20" text-anchor="middle" stroke="#000" stroke-width="0.35">:0.00031</text></g>
<g aria-label="黑色金属: 0.00844"><text x="479" y="1317.29" font-size="20" stroke="#000" stroke-width="0.2">黑色金属</text><text transform="translate(563.70 1317.29) scale(0.850 1)" x="0.00 23.88 32.24 47.41 59.18 70.94 82.71 94.47" font-size="19.20" text-anchor="middle" stroke="#000" stroke-width="0.35">:0.00844</text></g>
</svg>
</body></html>
